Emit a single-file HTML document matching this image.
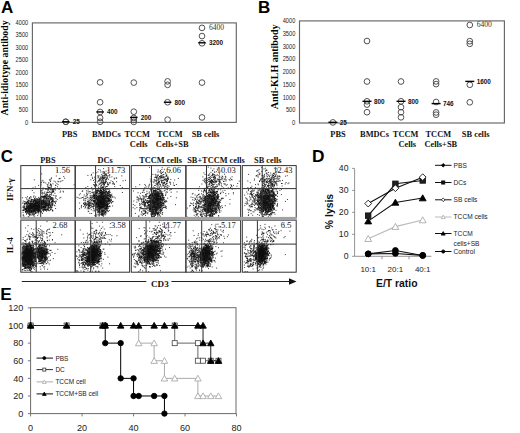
<!DOCTYPE html>
<html><head><meta charset="utf-8"><style>
html,body{margin:0;padding:0;background:#fff;}
svg{display:block;}
</style></head><body>
<svg width="520" height="433" viewBox="0 0 520 433">
<rect width="520" height="433" fill="#fff"/>
<text x="0.95" y="13.4" font-size="17" font-family='"Liberation Sans", sans-serif' font-weight="bold" text-anchor="start" fill="#000">A</text>
<text x="258.0" y="13.4" font-size="17" font-family='"Liberation Sans", sans-serif' font-weight="bold" text-anchor="start" fill="#000">B</text>
<text x="0.7" y="162.2" font-size="16.8" font-family='"Liberation Sans", sans-serif' font-weight="bold" text-anchor="start" fill="#000">C</text>
<text x="312.1" y="162.2" font-size="17.3" font-family='"Liberation Sans", sans-serif' font-weight="bold" text-anchor="start" fill="#000">D</text>
<text x="0.2" y="300.0" font-size="17.2" font-family='"Liberation Sans", sans-serif' font-weight="bold" text-anchor="start" fill="#000">E</text>
<rect x="32.4" y="22.9" width="203.9" height="99.5" fill="none" stroke="#666" stroke-width="1.15"/>
<text x="28.2" y="124.5" font-size="6.9" font-family='"Liberation Sans", sans-serif' font-weight="normal" text-anchor="end" fill="#222" textLength="3.3" lengthAdjust="spacingAndGlyphs">0</text>
<text x="28.2" y="112.06" font-size="6.9" font-family='"Liberation Sans", sans-serif' font-weight="normal" text-anchor="end" fill="#222" textLength="9.4" lengthAdjust="spacingAndGlyphs">500</text>
<text x="28.2" y="99.62" font-size="6.9" font-family='"Liberation Sans", sans-serif' font-weight="normal" text-anchor="end" fill="#222" textLength="12.6" lengthAdjust="spacingAndGlyphs">1000</text>
<text x="28.2" y="87.19" font-size="6.9" font-family='"Liberation Sans", sans-serif' font-weight="normal" text-anchor="end" fill="#222" textLength="12.6" lengthAdjust="spacingAndGlyphs">1500</text>
<text x="28.2" y="74.75" font-size="6.9" font-family='"Liberation Sans", sans-serif' font-weight="normal" text-anchor="end" fill="#222" textLength="12.6" lengthAdjust="spacingAndGlyphs">2000</text>
<text x="28.2" y="62.31" font-size="6.9" font-family='"Liberation Sans", sans-serif' font-weight="normal" text-anchor="end" fill="#222" textLength="12.6" lengthAdjust="spacingAndGlyphs">2500</text>
<text x="28.2" y="49.88" font-size="6.9" font-family='"Liberation Sans", sans-serif' font-weight="normal" text-anchor="end" fill="#222" textLength="12.6" lengthAdjust="spacingAndGlyphs">3000</text>
<text x="28.2" y="37.44" font-size="6.9" font-family='"Liberation Sans", sans-serif' font-weight="normal" text-anchor="end" fill="#222" textLength="12.6" lengthAdjust="spacingAndGlyphs">3500</text>
<text x="28.2" y="25.0" font-size="6.9" font-family='"Liberation Sans", sans-serif' font-weight="normal" text-anchor="end" fill="#222" textLength="12.6" lengthAdjust="spacingAndGlyphs">4000</text>
<text x="8.5" y="67.9" font-size="9.8" font-family='"Liberation Serif", serif' font-weight="bold" text-anchor="middle" fill="#000" transform="rotate(-90 8.5 67.9)">Anti-idiotype antibody</text>
<circle cx="65.8" cy="121.78" r="2.85" fill="none" stroke="#4a4a4a" stroke-width="0.95"/>
<circle cx="65.8" cy="121.78" r="2.85" fill="none" stroke="#4a4a4a" stroke-width="0.95"/>
<line x1="62.05" y1="121.78" x2="69.55" y2="121.78" stroke="#000" stroke-width="1.4"/>
<text x="72.7" y="124.08" font-size="6.4" font-family='"Liberation Sans", sans-serif' font-weight="bold" text-anchor="start" fill="#111">25</text>
<circle cx="100.1" cy="82.35" r="2.85" fill="none" stroke="#4a4a4a" stroke-width="0.95"/>
<circle cx="100.1" cy="102.25" r="2.85" fill="none" stroke="#4a4a4a" stroke-width="0.95"/>
<circle cx="100.1" cy="111.95" r="2.85" fill="none" stroke="#4a4a4a" stroke-width="0.95"/>
<circle cx="100.1" cy="117.92" r="2.85" fill="none" stroke="#4a4a4a" stroke-width="0.95"/>
<circle cx="100.1" cy="121.78" r="2.85" fill="none" stroke="#4a4a4a" stroke-width="0.95"/>
<line x1="96.35" y1="111.95" x2="103.85" y2="111.95" stroke="#000" stroke-width="1.4"/>
<text x="107.0" y="114.25" font-size="6.4" font-family='"Liberation Sans", sans-serif' font-weight="bold" text-anchor="start" fill="#111">400</text>
<circle cx="133.8" cy="82.60" r="2.85" fill="none" stroke="#4a4a4a" stroke-width="0.95"/>
<circle cx="133.8" cy="111.70" r="2.85" fill="none" stroke="#4a4a4a" stroke-width="0.95"/>
<circle cx="133.8" cy="117.92" r="2.85" fill="none" stroke="#4a4a4a" stroke-width="0.95"/>
<circle cx="133.8" cy="119.91" r="2.85" fill="none" stroke="#4a4a4a" stroke-width="0.95"/>
<circle cx="133.8" cy="121.90" r="2.85" fill="none" stroke="#4a4a4a" stroke-width="0.95"/>
<line x1="130.05" y1="117.43" x2="137.55" y2="117.43" stroke="#000" stroke-width="1.4"/>
<text x="140.70000000000002" y="119.73" font-size="6.4" font-family='"Liberation Sans", sans-serif' font-weight="bold" text-anchor="start" fill="#111">200</text>
<circle cx="167.6" cy="81.36" r="2.85" fill="none" stroke="#4a4a4a" stroke-width="0.95"/>
<circle cx="167.6" cy="84.84" r="2.85" fill="none" stroke="#4a4a4a" stroke-width="0.95"/>
<circle cx="167.6" cy="102.25" r="2.85" fill="none" stroke="#4a4a4a" stroke-width="0.95"/>
<circle cx="167.6" cy="119.66" r="2.85" fill="none" stroke="#4a4a4a" stroke-width="0.95"/>
<line x1="163.85" y1="102.25" x2="171.35" y2="102.25" stroke="#000" stroke-width="1.4"/>
<text x="174.5" y="104.55" font-size="6.4" font-family='"Liberation Sans", sans-serif' font-weight="bold" text-anchor="start" fill="#111">800</text>
<circle cx="202.0" cy="27.88" r="2.85" fill="none" stroke="#4a4a4a" stroke-width="0.95"/>
<circle cx="202.0" cy="36.08" r="2.85" fill="none" stroke="#4a4a4a" stroke-width="0.95"/>
<circle cx="202.0" cy="43.30" r="2.85" fill="none" stroke="#4a4a4a" stroke-width="0.95"/>
<circle cx="202.0" cy="82.60" r="2.85" fill="none" stroke="#4a4a4a" stroke-width="0.95"/>
<circle cx="202.0" cy="117.43" r="2.85" fill="none" stroke="#4a4a4a" stroke-width="0.95"/>
<line x1="198.25" y1="42.80" x2="205.75" y2="42.80" stroke="#000" stroke-width="1.4"/>
<text x="208.9" y="30.38" font-size="7.6" font-family='"Liberation Serif", serif' font-weight="normal" text-anchor="start" fill="#333">6400</text>
<text x="208.9" y="45.1" font-size="6.4" font-family='"Liberation Sans", sans-serif' font-weight="bold" text-anchor="start" fill="#111">3200</text>
<text x="69.7" y="137" font-size="8.4" font-family='"Liberation Serif", serif' font-weight="bold" text-anchor="middle" fill="#111">PBS</text>
<text x="106.4" y="137" font-size="8.4" font-family='"Liberation Serif", serif' font-weight="bold" text-anchor="middle" fill="#111">BMDCs</text>
<text x="137.2" y="137" font-size="8.4" font-family='"Liberation Serif", serif' font-weight="bold" text-anchor="middle" fill="#111">TCCM</text>
<text x="138.7" y="147.3" font-size="8.4" font-family='"Liberation Serif", serif' font-weight="bold" text-anchor="middle" fill="#111">Cells</text>
<text x="169.8" y="137" font-size="8.4" font-family='"Liberation Serif", serif' font-weight="bold" text-anchor="middle" fill="#111">TCCM</text>
<text x="172.2" y="147.3" font-size="8.4" font-family='"Liberation Serif", serif' font-weight="bold" text-anchor="middle" fill="#111">Cells+SB</text>
<text x="205.5" y="137" font-size="8.4" font-family='"Liberation Serif", serif' font-weight="bold" text-anchor="middle" fill="#111">SB cells</text>
<rect x="299.5" y="20.9" width="204.89999999999998" height="102.1" fill="none" stroke="#666" stroke-width="1.15"/>
<text x="295.3" y="125.1" font-size="6.9" font-family='"Liberation Sans", sans-serif' font-weight="normal" text-anchor="end" fill="#222" textLength="3.3" lengthAdjust="spacingAndGlyphs">0</text>
<text x="295.3" y="112.34" font-size="6.9" font-family='"Liberation Sans", sans-serif' font-weight="normal" text-anchor="end" fill="#222" textLength="9.4" lengthAdjust="spacingAndGlyphs">500</text>
<text x="295.3" y="99.57" font-size="6.9" font-family='"Liberation Sans", sans-serif' font-weight="normal" text-anchor="end" fill="#222" textLength="12.6" lengthAdjust="spacingAndGlyphs">1000</text>
<text x="295.3" y="86.81" font-size="6.9" font-family='"Liberation Sans", sans-serif' font-weight="normal" text-anchor="end" fill="#222" textLength="12.6" lengthAdjust="spacingAndGlyphs">1500</text>
<text x="295.3" y="74.05" font-size="6.9" font-family='"Liberation Sans", sans-serif' font-weight="normal" text-anchor="end" fill="#222" textLength="12.6" lengthAdjust="spacingAndGlyphs">2000</text>
<text x="295.3" y="61.29" font-size="6.9" font-family='"Liberation Sans", sans-serif' font-weight="normal" text-anchor="end" fill="#222" textLength="12.6" lengthAdjust="spacingAndGlyphs">2500</text>
<text x="295.3" y="48.52" font-size="6.9" font-family='"Liberation Sans", sans-serif' font-weight="normal" text-anchor="end" fill="#222" textLength="12.6" lengthAdjust="spacingAndGlyphs">3000</text>
<text x="295.3" y="35.76" font-size="6.9" font-family='"Liberation Sans", sans-serif' font-weight="normal" text-anchor="end" fill="#222" textLength="12.6" lengthAdjust="spacingAndGlyphs">3500</text>
<text x="295.3" y="23.0" font-size="6.9" font-family='"Liberation Sans", sans-serif' font-weight="normal" text-anchor="end" fill="#222" textLength="12.6" lengthAdjust="spacingAndGlyphs">4000</text>
<text x="278.0" y="66.9" font-size="10" font-family='"Liberation Serif", serif' font-weight="bold" text-anchor="middle" fill="#000" transform="rotate(-90 278.0 66.9)">Anti-KLH antibody</text>
<circle cx="332.9" cy="122.41" r="2.85" fill="none" stroke="#4a4a4a" stroke-width="0.95"/>
<line x1="328.4" y1="122.31" x2="337.4" y2="122.31" stroke="#000" stroke-width="1.4"/>
<text x="339.79999999999995" y="124.61" font-size="6.4" font-family='"Liberation Sans", sans-serif' font-weight="bold" text-anchor="start" fill="#111">25</text>
<circle cx="367.0" cy="41.01" r="2.85" fill="none" stroke="#4a4a4a" stroke-width="0.95"/>
<circle cx="367.0" cy="81.50" r="2.85" fill="none" stroke="#4a4a4a" stroke-width="0.95"/>
<circle cx="367.0" cy="101.30" r="2.85" fill="none" stroke="#4a4a4a" stroke-width="0.95"/>
<circle cx="367.0" cy="104.60" r="2.85" fill="none" stroke="#4a4a4a" stroke-width="0.95"/>
<circle cx="367.0" cy="112.20" r="2.85" fill="none" stroke="#4a4a4a" stroke-width="0.95"/>
<line x1="362.5" y1="101.30" x2="371.5" y2="101.30" stroke="#000" stroke-width="1.4"/>
<text x="373.9" y="103.6" font-size="6.4" font-family='"Liberation Sans", sans-serif' font-weight="bold" text-anchor="start" fill="#111">800</text>
<circle cx="401.0" cy="81.50" r="2.85" fill="none" stroke="#4a4a4a" stroke-width="0.95"/>
<circle cx="401.0" cy="101.30" r="2.85" fill="none" stroke="#4a4a4a" stroke-width="0.95"/>
<circle cx="401.0" cy="107.17" r="2.85" fill="none" stroke="#4a4a4a" stroke-width="0.95"/>
<circle cx="401.0" cy="112.20" r="2.85" fill="none" stroke="#4a4a4a" stroke-width="0.95"/>
<circle cx="401.0" cy="117.31" r="2.85" fill="none" stroke="#4a4a4a" stroke-width="0.95"/>
<line x1="396.5" y1="101.30" x2="405.5" y2="101.30" stroke="#000" stroke-width="1.4"/>
<text x="407.9" y="103.6" font-size="6.4" font-family='"Liberation Sans", sans-serif' font-weight="bold" text-anchor="start" fill="#111">800</text>
<circle cx="436.1" cy="81.39" r="2.85" fill="none" stroke="#4a4a4a" stroke-width="0.95"/>
<circle cx="436.1" cy="84.10" r="2.85" fill="none" stroke="#4a4a4a" stroke-width="0.95"/>
<circle cx="436.1" cy="101.99" r="2.85" fill="none" stroke="#4a4a4a" stroke-width="0.95"/>
<circle cx="436.1" cy="112.41" r="2.85" fill="none" stroke="#4a4a4a" stroke-width="0.95"/>
<circle cx="436.1" cy="114.70" r="2.85" fill="none" stroke="#4a4a4a" stroke-width="0.95"/>
<line x1="431.6" y1="103.60" x2="440.6" y2="103.60" stroke="#000" stroke-width="1.4"/>
<text x="443.0" y="105.9" font-size="6.4" font-family='"Liberation Sans", sans-serif' font-weight="bold" text-anchor="start" fill="#111">746</text>
<circle cx="469.8" cy="24.98" r="2.85" fill="none" stroke="#4a4a4a" stroke-width="0.95"/>
<circle cx="469.8" cy="41.19" r="2.85" fill="none" stroke="#4a4a4a" stroke-width="0.95"/>
<circle cx="469.8" cy="43.80" r="2.85" fill="none" stroke="#4a4a4a" stroke-width="0.95"/>
<circle cx="469.8" cy="84.79" r="2.85" fill="none" stroke="#4a4a4a" stroke-width="0.95"/>
<circle cx="469.8" cy="102.30" r="2.85" fill="none" stroke="#4a4a4a" stroke-width="0.95"/>
<line x1="465.3" y1="81.39" x2="474.3" y2="81.39" stroke="#000" stroke-width="1.4"/>
<text x="476.7" y="27.48" font-size="7.6" font-family='"Liberation Serif", serif' font-weight="normal" text-anchor="start" fill="#333">6400</text>
<text x="476.7" y="83.69" font-size="6.4" font-family='"Liberation Sans", sans-serif' font-weight="bold" text-anchor="start" fill="#111">1600</text>
<text x="338" y="136.8" font-size="8.4" font-family='"Liberation Serif", serif' font-weight="bold" text-anchor="middle" fill="#111">PBS</text>
<text x="374.5" y="136.8" font-size="8.4" font-family='"Liberation Serif", serif' font-weight="bold" text-anchor="middle" fill="#111">BMDCs</text>
<text x="405.6" y="136.8" font-size="8.4" font-family='"Liberation Serif", serif' font-weight="bold" text-anchor="middle" fill="#111">TCCM</text>
<text x="407.3" y="146.6" font-size="8.4" font-family='"Liberation Serif", serif' font-weight="bold" text-anchor="middle" fill="#111">Cells</text>
<text x="438.3" y="136.8" font-size="8.4" font-family='"Liberation Serif", serif' font-weight="bold" text-anchor="middle" fill="#111">TCCM</text>
<text x="440.8" y="146.6" font-size="8.4" font-family='"Liberation Serif", serif' font-weight="bold" text-anchor="middle" fill="#111">Cells+SB</text>
<text x="475.7" y="136.8" font-size="8.4" font-family='"Liberation Serif", serif' font-weight="bold" text-anchor="middle" fill="#111">SB cells</text>
<defs><filter id="bl" x="-50%" y="-50%" width="200%" height="200%"><feGaussianBlur stdDeviation="1.6"/></filter><clipPath id="c00"><rect x="20.8" y="165.6" width="54.400000000000006" height="52.0"/></clipPath><clipPath id="c01"><rect x="75.2" y="165.6" width="54.39999999999999" height="52.0"/></clipPath><clipPath id="c02"><rect x="131.3" y="165.6" width="54.599999999999994" height="52.0"/></clipPath><clipPath id="c03"><rect x="185.9" y="165.6" width="54.69999999999999" height="52.0"/></clipPath><clipPath id="c04"><rect x="242.3" y="165.6" width="53.89999999999998" height="52.0"/></clipPath><clipPath id="c10"><rect x="20.8" y="220.2" width="54.400000000000006" height="52.0"/></clipPath><clipPath id="c11"><rect x="75.2" y="220.2" width="54.39999999999999" height="52.0"/></clipPath><clipPath id="c12"><rect x="131.3" y="220.2" width="54.599999999999994" height="52.0"/></clipPath><clipPath id="c13"><rect x="185.9" y="220.2" width="54.69999999999999" height="52.0"/></clipPath><clipPath id="c14"><rect x="242.3" y="220.2" width="53.89999999999998" height="52.0"/></clipPath></defs>
<g clip-path="url(#c00)">
<ellipse cx="32" cy="207.5" rx="7" ry="4.5" transform="rotate(-20 32 207.5)" fill="#111" fill-opacity="0.8" filter="url(#bl)"/>
<ellipse cx="45" cy="203" rx="5" ry="4" transform="rotate(-40 45 203)" fill="#111" fill-opacity="0.6" filter="url(#bl)"/>
<path d="M36.5 209.2h0m1.3-2.4h0m-6.7 1.4h0m8.9 1.4h0m-1.8-6.7h0m-4.9 2.3h0m2.8 2.9h0m-12.2-5.1h0m15.1 3.9h0m-7.1 5.1h0m.5 .8h0m-6.5-4.3h0m7.1 5.9h0m5.6-3.9h0m-7.4-4.4h0m-1.6-2.2h0m-2.8 6.8h0m12.9-3.9h0m.2-2.8h0m-.3 1.3h0m-2.3 3.2h0m-7.3 1.9h0m.4-1.9h0m3.2 6.8h0m2.1-13.2h0m-1.5 8.1h0m.2 4.1h0m3.6-11.1h0m-11.2 2h0m9.4-4.5h0m-8.1 11.9h0m5.9-3.6h0m4.5-2.4h0m-.7-.8h0m.3 4.2h0m-4.6-5.6h0m-7.2 5.5h0m7.2-7.1h0m.1 3.4h0m-2.5 1.1h0m-3.6-5.6h0m-2.7 6.7h0m10 2.3h0m-1.2-10.6h0m-5.4 8h0m5.4 2.7h0m-8.1 1.3h0m10.3 .1h0m-1.1-2.6h0m-7-5.4h0m2.9 1.5h0m6 4.8h0m-3.9-9.2h0m-4.2-.9h0m7.6 8.6h0m3.7-5.6h0m-12.5 4.1h0m-1.9 1h0m10-6.7h0m-1.2 8.9h0m-6.2 .8h0m-1.3-5.1h0m9.7-3.4h0m-4.9 4.7h0m1-1.2h0m-1.2 6.2h0m.5-13h0m0 3.4h0m-.8-1.5h0m-4.6 7.2h0m.2-.8h0m13.1-6.5h0m-1.5 1.2h0m.9 4.6h0m-8.5-1.7h0m-7.3-4.5h0m17.5 1.1h0m-2.5 2.3h0m-9.2 5.4h0m1.1-6.6h0m-2.9 7.7h0m11.5-4h0m2-4.5h0m-6.8 12h0m2.7-12h0m-12.6 4.3h0m11.4 .1h0m-10.3-3h0m8.2 .9h0m-6 2.6h0m9.9 1.5h0m-1.1-2.2h0m-4 4.6h0m-1.1-.3h0m5.9-5.2h0m1.9-4.1h0m-15.8 13.4h0m5.4-11.9h0m5.3-1.2h0m6 4.6h0m-8.1-1.4h0m4.4-4.8h0m-1.9 10.6h0m-.5 .9h0m-10.2-4h0m18-4.1h0m-15.5 5.5h0m12.4-1.5h0m-4.1-1.2h0m-3.6-4.7h0m5.5-.9h0m-5.2 3.5h0m1.9 .9h0m6.3 4.7h0m-5.2-8.5h0m-7 .5h0m10.5 4h0m-13.1 1.2h0m3.4-4.3h0m-2.7 6.5h0m14.7-2.5h0m-9.6-4.2h0m9.2 .7h0m-8.3-2.6h0m8.4 6.6h0m-12.7-.6h0m6.1 1.9h0m-5.1-.5h0m10.1 .4h0m3-3.9h0m.2-2.7h0m-4.2 10.8h0m-7.7-5.2h0m6.7-5.6h0m-.7 1.5h0m-7.8 7h0m3.9-.1h0m4.3-13.6h0m-8.2 3h0m10.4 5.1h0m-9.3 5.6h0m4.6 3.3h0m.4-2.5h0m3.5-11.2h0m.2 1.8h0m-5.5 3.5h0m-5.5-1.7h0m3.2 4.9h0m1.4-5.4h0m-3.3 3.9h0m7.7 1.6h0m-.1-4.8h0m2.6 5.4h0m-4.1-.1h0m2.5-7.5h0m-7.6 12h0m4.3-4.9h0m2.6-7.9h0m-1.5 9.7h0m3.1-11.6h0m-5.3 6.8h0m.7 1.2h0m3.6-8.4h0m-6.9 9.1h0m-.5-7h0m10.5 5.3h0m-3.2-2.5h0m-7.2 1.7h0m7.9 1.8h0m-8.3-1h0m0 3.5h0m6.8 2.5h0m-7.3-10.9h0m-.7 11.1h0m10.7-10.2h0m-9.4 1.3h0m1.3-2.5h0m3.5 1.8h0m-1.6 .9h0m3.8 8.2h0m4.1-9.8h0m1.9 9.3h0m-10.1-2.6h0m10.3-9.6h0m-6.2 5.5h0m-5.6 7.2h0m6.2-6h0m-.1-.8h0m-2.5-3.2h0m-3.7 10.2h0m1.1-1.6h0m.1-10.3h0m3.2 6.9h0m-4 8h0m-5.7-10.5h0m12.6 1h0m-12.2-1.8h0m12.8 0h0m-3.5 7.7h0m-1.5-7.7h0m-1.6-4.8h0m.9 2.8h0m-.5 2.1h0m-.1 8.9h0m9-9.1h0m-11.5-1.4h0m.8 7.8h0m-5-8.4h0m8.1 12.4h0m1.1-3.5h0m.9-6.9h0m-11.8 6.5h0m3.4-6.7h0m8.4-3.3h0m-2.2 8.4h0m5.7-6.5h0m-12.4 9.8h0m4-5.3h0m.7 4.3h0m-4.3-7.3h0m6.1 4.4h0m.2-4.3h0m2.1 3.8h0m-.1 .9h0m-1.4 4.8h0m-4.8 3.4h0m12-12.5h0m-3.9 1.7h0m-3.1-3.7h0m2.7 4h0m2.7-5.9h0m0 10.1h0m-1.6-7.5h0m1.6 11.1h0m1.5-10.8h0m-4.3-.1h0m3 8.2h0m-4.4-12.6h0m-5.2 12.5h0m1.3-7.2h0m.1 3.2h0m-1.1-.6h0m2.3 8.8h0m-6.3-3.2h0m5.7-5.4h0m-5.5 4.7h0m13.6-2.6h0m-13.9 .4h0m13.9-1.5h0m-9.9 .4h0m10.3 2.2h0m-2.5 1.8h0m.4-8.4h0m4 3.4h0m-3.3 3.7h0m-9.1-2.6h0m4.3 3.1h0m1.7-2.3h0m2.5-8.9h0m-13.2 3.5h0m-2-.4h0m12.1 13h0m-8.5-4.3h0m13.9-5.5h0m-16.1-.3h0m13.2-.7h0m-10.4 3.3h0m7.1 .9h0m3.8-1.3h0m-9.3-1.6h0m9.3 2.6h0m-1.7-.3h0m-9.5 5.3h0m5.2-7.6h0m5.3-3.3h0m-.8-.7h0m.6 4.2h0m-5.4 .3h0m-5.6 2.1h0m12.7 2.6h0m-6.7-11.9h0m.9 6.5h0m3.2 6.4h0m.9-6.4h0m-10.2-7.4h0m.4 12.5h0m13.9-9.4h0m-.3 2.7h0m-11.4-6.1h0m1.7 15.5h0m-3.8-11h0m7.3-2.4h0m-7.6 4.2h0m7 2.3h0m3 1.8h0m-8.4-6.6h0m1.9 4.2h0m10.5 .3h0m-.5-5.9h0m-7.3 4.5h0m.9-5.7h0m-2.2 4.4h0m-3.6 6.9h0m1.1 2.1h0m-1.1-2.7h0m1.6-7.1h0m3.2 1.1h0m-.2 2.6h0m-6 2.2h0m1-.5h0m-4.6 1.6h0m4.8-8.5h0m2.1 10.9h0m4.2-8.3h0m-.6 6.7h0m2.1 2h0m-4.9-11.5h0m5.6 7.6h0m-6.3-8h0m8.3 7.8h0m-2.9 4.2h0m4.8-1.8h0m-8.8-.1h0m4.5-6.3h0m-1.1 .3h0m-6-5.5h0m-.2 5.3h0m2.8 2.9h0m-7.6 1.9h0m4.3 2h0m-4.7 2.9h0m7.1-11.1h0m-2.5-2h0m3.8 10.3h0m-1.3-3.3h0m-1.3 1.1h0m-2.7 3.6h0m4.5-16.4h0m9 5.8h0m-1.5-.8h0m-8.9 4.7h0m4.2-6h0m3.7 2.4h0m1.8 6h0m-1.4-2.6h0m-9.5 4.2h0m5 .4h0m2 .3h0m-.2-.8h0m-9-.3h0m9.8-5.7h0m-13 7.6h0m15.2-3.3h0m-8.5 2.5h0m8.2 .5h0m-5.6-1.3h0m-4.8-6h0m13.1 1.8h0m-8.9-6.8h0m1.8 6.9h0m1.3 6.8h0m-5 .8h0m2.3-14.5h0m-5.3 3.1h0m7.6-2.7h0m-7.9 11.5h0m7.2 .7h0m-3.5-4.1h0m-7.1 2.2h0m2.2 .6h0m9.1-10.3h0m-4 5.3h0m.2 .4h0m-6.7 3.1h0m17.5-4.2h0m-12.5 8.4h0m2.4-12.6h0m2.7-1.7h0m-6.6 13.4h0m-1.8-9.9h0m6.2 8.4h0m19.9-11.5h0m-14.8 7h0m9.9-7.1h0m-4-2.3h0m-2.6 2.6h0m10.2 6.5h0m-2.2-2.3h0m-.4-7.8h0m-10.6 9.3h0m6.5 1.2h0m8.8-6.8h0m-5.6 2.8h0m4.5-4.2h0m-2.1-3h0m-6.4 6.7h0m6.2-2.1h0m3.9 1.3h0m-5.2-.3h0m.8 .3h0m-3.2-5.2h0m-4 11.9h0m6.5-8.6h0m-4.1-3h0m-1.5 3.4h0m3 4.7h0m-6.1-4.4h0m-2.6 1.8h0m6.7-3.5h0m6.1 2.8h0m-5.2-4.9h0m-8.4 7.2h0m10.6-5.9h0m-3.9-4h0m3.1 9.3h0m6.6-3.6h0m-6.3-3.6h0m-6.7 4h0m13.1 1.6h0m-3.3-5.9h0m-10.2 4.5h0m3.9-3.3h0m2 3.9h0m2-5.2h0m-7 8.3h0m5.4 5.5h0m-3.9-3.7h0m9-3.1h0m1.8 2h0m-5.6-2.2h0m-6.3 5.7h0m8-9.6h0m1.7-1.3h0m-.8 5h0m-3.1-5.1h0m-2.8 6.1h0m3.9-2.5h0m-11.3-1.3h0m19.1 6.2h0m-8.3-1.3h0m1.1-8.5h0m-8.6 5.9h0m8.2 1.5h0m-6 .4h0m4.7 1.7h0m2 .1h0m3.1-6.5h0m0 8.5h0m-3.8-13.1h0m-2.5 1.3h0m1.2 12.4h0m2.4-2.8h0m-11.5 1.1h0m15.6-1.6h0m-5.9 6.3h0m6.3-8.2h0m-6.9-1.7h0m2.4 5.6h0m3-9.3h0m-4.8 1.4h0m1.4 10h0m2-5.2h0m-10.7 3.1h0m1.6-2.5h0m2.8-4.1h0m-.5 2.9h0m5.6 2.1h0m3.1 1.8h0m-8.5 2.4h0m1.7-10.8h0m5 1.2h0m-1.1 4.9h0m2.2 0h0m-8.7 3.2h0m.4-6.8h0m1.6 8.4h0m1.2-8.4h0m-5.9 4.8h0m11.7 2.1h0m1.1-9h0m-1.6 7.1h0m-10.3-6.1h0m-.8-1.3h0m8.3 9.2h0m4.6-3.9h0m-12.3-6.6h0m8.5-.7h0m-4.9 11.8h0m2.2 1.3h0m-3.3-13.9h0m2.1 .2h0m5.6 13.1h0m-5.6 .6h0m5.3-10h0m-8.6-3.2h0m5.2-2h0m1.9 13.4h0m-12.5-5.3h0m5.8 6.6h0m9.5-6.1h0m-12.6 4.3h0m10.4-4.3h0m-5.4 4.1h0m.8-9.9h0m-5.1 4.4h0m-.1 1.3h0m8.8 3.2h0m3.7-8.2h0m-.2 11.5h0m-3.6 .3h0m.8-8h0m-6.1 5.4h0m5.2-1.9h0m-2.7 2.1h0m-.3-10.5h0m-3.6 .8h0m-1.7 1.5h0m5.2 3.3h0m3.7-4.1h0m-11.7 5h0m5 4h0m2 2.6h0m.9-16.1h0m4.6 9.8h0m1.7-1.8h0m-1.1-5.7h0m-3.1 1.9h0m.5-.3h0m2.3 1.3h0m-4.5 8.6h0m2.9-9.4h0m-4.2 9.2h0m2.5-12.4h0m3.9 3.3h0m-6.5-.8h0m-5.9 10.5h0m.9-8.5h0m15.2 5.6h0m-13.3 1.3h0m4.6 2.4h0m8.2-10h0m-1.7-1.3h0m-13.7 6.6h0m10.2 3.3h0m2.5-9.5h0m-7.6 2.2h0m4.3 3.5h0m5-3.3h0m-5.8 9.4h0m2.5-7.3h0m-3.7 7.9h0m-7.6-6h0m2.2-1.6h0m6.9 6.9h0m.5-.4h0m4.9 1.4h0m-2.3-3.8h0m2.2 3.7h0m-3-5.7h0m-6.6-.6h0m9.2-3.5h0m-2.1 4.5h0m-.7-4.5h0m4.2 .9h0m-1 1.7h0m-7 2.6h0m2.8-7.1h0m-6.5 9.4h0m8.5 1.4h0m-9.7-6.6h0m14.8 .2h0m-11.2 6.3h0m3-.7h0m-.2 .8h0m-4.6-5.8h0m3.7 1.4h0m-2.8-4h0m3.2-5.2h0m.3 9.2h0m-3 2h0m5.7 .4h0m-.8-4.8h0m-9-4.1h0m6.9 7.3h0m-.8-1.8h0m-5.6-5.3h0m.7 1.8h0m7.4 8.1h0m-11.7-5.5h0m14.3 3.3h0m1.2-5.1h0m-2.6 9h0m-7.2-.7h0m-3.9-7.5h0m5.5-.4h0m-.3-1.6h0m-.2-3.5h0m-5.9 9.7h0m7.9-1.5h0m-2.3-3.7h0m4.8 4.2h0m-.9 1.5h0m-4.4-3.3h0m9.1 1.3h0m-10.2 3h0m3.7 1.3h0m1.2-4.6h0m-.5 .6h0m3.8-1h0m2.4-2.8h0m-16.2 4.4h0m5.7-1.3h0m-3.5-3.1h0m11.1 5.5h0m-4.5-5.4h0m.3-4.9h0m-1.3 2.7h0m.8-1.2h0m-5.3 7.2h0m4.7-2.1h0m-4.2-4.2h0m13 5.7h0m-1-3.4h0m2.6-.1h0m-4.4 3.8h0m-7.6-8.7h0m-2 4.9h0m.3-.1h0m11.7 3.8h0m-1.8 .6h0m-7.8 .8h0m7.4-9.9h0m3.3 3.5h0m-4.6-2.2h0m-.5 12.6h0m-7.5-9.5h0m1.9 1.1h0m-4.3 3.1h0m10-1h0m2.4 5.4h0m-.6-.9h0m1.1-5.9h0m.6-1.4h0m-13.3 4.4h0m16.8-3h0m-11.6 7.2h0m-5.8-4.6h0m8.9-1h0m-2.5-1.4h0m2-5.1h0m-11.7 8.6h0m11.3 3h0m-1.8-12.8h0m-5.6 .6h0m16 4.7h0m-17.1-2.2h0m5.7 6.7h0m3.3-3.6h0m-4.6 1.4h0m3.9-4.3h0m-2.4-3.4h0m-.4 8.3h0m8.7-5.4h0m-17.9 6.8h0m0 3.5h0m6.3-1h0m3.7-2.2h0m-8.7 2.5h0m3.9-3.9h0m6.4 2h0m-6.7 3.3h0m-3.8-5.9h0m10.3 2.1h0m-9.3-5.2h0m2.8 7.4h0m-.9 1.2h0m-3.6-5h0m9.5 2h0m.1-2h0m-6.2 2.7h0m2.2-2.8h0m1.4 3.6h0m-3-.1h0m4.3-4.8h0m-1.8 4.4h0m-6.1-.4h0m2.9-2.1h0m2.4 .7h0m.5 4h0m-4.7-9.9h0m8.7 3.8h0m-8.3 6.3h0m.8-5.7h0m1.2 3h0m-3.2 .6h0m8.2-1.9h0m-7.2-1h0m4.1-.4h0m7 3.1h0m-6.3-.8h0m3.1 .8h0m-8.7-4.4h0m2 5.7h0m3.3-10.5h0m4.2 5.7h0m-1 5.3h0m-6.5-8h0m2.5-.3h0m.5 4.4h0m2-1.8h0m-1.6 3.3h0m-.8-3.9h0m-6.2 1.7h0m4.1 3.6h0m1.5-6.3h0m5.5 4.8h0m-.5-4.7h0m-5 6h0m1.2-.6h0m.3 3.1h0m.3-7.7h0m-2.8 8.1h0m4.5-8.9h0m-6.7 .7h0m5.5 .1h0m-.3-.1h0m3.5 2.7h0m-1.9 3.9h0m-2.3-3h0m-2.2-7.3h0m7 6.8h0m-7.6-1.3h0m7.7 4.7h0m-1.8-.7h0m-6.5-2.8h0m-4.9-1.1h0m2.9 .1h0m8.8-4.1h0m-3 6.8h0m-5-.5h0m7.2-2.1h0m-5.2-4.3h0m.2-2.6h0m-3.8 11.2h0m7.6-1.5h0m-2.6 2.8h0m.4-2.1h0m4.9-7h0m-7.9 8.8h0m8.7-5.5h0m-15.9-.6h0m9.7-6.7h0m-3.7 10.4h0m1.7-5.6h0m.1 .7h0m-2.8 1.1h0m6.8 2.9h0m.2-6.9h0m-.9 2.5h0m3.1-2.4h0m-2.3 1.2h0m.8 5.5h0m-8.7-2.9h0m3.9-5h0m3.3 1.8h0m-5.4 3.4h0m2.2 3.8h0m6.4-1.5h0m-5.2 3.3h0m-.4-6.4h0m-1.4 2.8h0m1-.8h0m.2 4.3h0m-1.3-2.6h0m5.7 5.6h0m-5.5-3.2h0m-1.3-1.1h0m9-2.8h0m-9.2 .2h0m-1.3 1.1h0m7.7-6.8h0m-2.9 3.6h0m1.3-4.9h0m4.2 9.7h0m-9.8-5.8h0m8.7 3.5h0m-7.3-3.4h0m2.2 4h0m1.7-2h0m1.4-2.3h0m-5.7 4.4h0m7.4-6.7h0m-1 5.5h0m-6.5-3.1h0m6.1 9h0m-6.1-7.6h0m1.7 5.2h0m3.8-9.2h0m4.3 2.3h0m-9-1.2h0m8.1 6.1h0m-3.6-6.7h0m-3.6-.1h0m4.6 3h0m-.6 2.6h0m-2 3.7h0m4.2 1h0m-5.7 .2h0m-.2-1.9h0m3.9-7.3h0m3.6 2.4h0m-4.8 5.4h0m-2.6-4.3h0m3.1-2.8h0m6.4 2.2h0m-1.4-16.4h0m4.2-8.8h0m1.7 13.1h0m2-1.8h0m-8.9 .6h0m5.3 .3h0m4.8 1h0m-9.3 1.4h0m15.2-6.3h0m-8.4 4h0m-.8 2.6h0m-2.2-.7h0m-.3-6.6h0m1.2 2.1h0m-2.8 2.9h0m1.3 3.4h0m4.9-4h0m-.8-2.6h0m-8.9 3.7h0m4.8-4.2h0m-.1 .7h0m-2.5-.5h0m-.5-.6h0m8.4 0h0m-.9 3h0m-2.6 3h0m-8.7-1.2h0m11.4 1.9h0m2.3-5.3h0m-4.1-3h0m-3.6 2.1h0m-.3-2.3h0m0 3.1h0m2.6-2.3h0m1.8 3.4h0m1.2 .5h0m-6.7 1.7h0m4.8 .8h0m-2.7-1.5h0m-4.4 .6h0m2.8-.8h0m.3-.3h0m1.2-4.9h0m2.7-.2h0m8.3 1.5h0m-7.2 .7h0m3-1.2h0m-10.2 8.7h0m.7-13.6h0m.1 15.9h0m3.6-11.3h0m-8.6 4.5h0m9.9-12.1h0m5.6 16h0m-8.1-8.5h0m4.5 3.4h0m-2.1-1.9h0m-5.8 7.1h0m8.3-6.4h0m-1.4-.1h0m8 8.5h0m-26.5 9h0m-5.8-10.3h0m11.3 15.1h0m-9.4-7.9h0m4.1-7h0m-8.7 11.9h0m9.4-5h0m-4.8 11h0m31.2-23.8h0m-36.7 25.1h0m28.7-5.5h0m-22.4-4.6h0m-4.3-8.6h0m20 6h0m16.9-22.8h0m-29.1 36.4h0m22.3-18.6h0m-24.9 9.9h0m1.2-.6h0m16.7-7.4h0m1.1 6.8h0m-19.9-2.3h0m-1.4 4.3h0m.6 5h0m16.7-10.5h0m-15.4-7h0m-2.9 10.7h0m9.8-4.7h0m1 9.3h0m11.6-19.8h0m-5 3.7h0m-4.3 8h0m6.7 1.1h0m-20.6 1.9h0m15.6-6.1h0m11.3-11h0m-10.2 12.9h0m-9.9 1.7h0m2 1.7h0m-3-2.6h0m30.6-11.5h0m-19.5 16h0m-14.2 3.3h0m2.6-20.8h0m6.3-5.1h0m-1.4 22.8h0m18.8-6.9h0m-7.1 2.3h0m-10.4 6.2h0m-3.7-3.3h0m-3.4-2.2h0m10.8-13.5h0m-10.2 9.1h0m5.7 15.5h0m-8.4-9.9h0m5.8-5.5h0m-4.2 11.7h0m5.1-11.9h0m-9.5 2.7h0m20.5-7.9h0m-8.4 10.9h0m-.6 2.9h0m-12.6-6.5h0m9.3 3h0m5.7 7.7h0m16.9-13h0m-22.3-1.6h0m-3.4 13.7h0m9.8-9.4h0m-17.2 4.2h0m30.9-10.8h0m-4.5-11.2h0m1.1 7.9h0m-27.7 13.5h0m5.7 9.9h0m5.2-12.8h0m-3.9 7.3h0m18.6-5.8h0m-26.9 2.6h0m20.3-17.5h0m-6.6 19.8h0m16-8.3h0m-6.3 4.6h0m-4.8-14.9h0m14.7 10.4h0m-19-2.5h0m23.8-1.3h0m-14 .5h0m-6.5 4.6h0m8.2-14.2h0m7 8.8h0m-10.3 9.6h0m-12.6 3.4h0m-6.3-1.4h0m3.6 3.7h0m22.3-21.3h0m-11.3 6.7h0m-17.1 9.9h0m24.1-1h0m-15.5-3.1h0m19.8-5.5h0m3.4 10.4h0m-12.3-11.9h0m-8.6 12.7h0m.9-4.7h0m6.7-12.1h0m-8.8 10h0m-4.3 5.3h0m4.8-5.8h0m18 5.2h0m-16.4-6.4h0m-13.2-3h0m30.7 .3h0m-23.7 0h0m20.4-.8h0m-6.1 9.6h0m-14.1-9.2h0m6.9 9.1h0m-1.1-3.4h0m6.2-7.1h0m3 10.4h0m-18-4.5h0m7.1-1.4h0m1.2 9.9h0m-11-.3h0m25.7-30.6h0m-7.9-5.9h0m11.7 17.2h0m-7.7-2.3h0m-2.6-.8h0m7.5-6.4h0m-9.1 1.1h0m7.8 8.8h0m8.7-6.9h0m-10.2 1.1h0m11.2 3.7h0m1.2 2.8h0m-9-13.8h0m11.9 12.8h0m-2.9-9.4h0m-6.1-.6h0m-3.8 2.7h0m6-7.9h0m.6 7.3h0m-5.5 2h0m-1.3 .3h0m14.5-7.4h0m-5 .3h0m-8.4 6.6h0m-3 5.1h0m-7-5.3h0m11.8-1.1h0m-1.4-5.9h0m1.7 13.1h0m4.6-9.7h0m-14.9-1h0m16.1-1.5h0m-8.6 18.1h0m-16.5-4.1h0m.3-13h0m39.8 5h0m-16.6 2h0m2.6-8.5h0m-18.1 2.8h0m13.6 4.1h0m5.5-4.2h0m-2.5 .7h0m-14.7 .4h0m11.6-.1h0m-7.1 1.9h0m15.3-7.3h0m-30.7 11.3h0m1 8h0m13.3-11.4h0m3.4-.1h0m4 4.8h0m-10.9-6.6h0m5.1-.2h0m8.4-11.7h0m-22 16.3h0m20.5-1.6h0" fill="none" stroke="#111" stroke-opacity="0.82" stroke-width="1" stroke-linecap="square"/>
</g>
<line x1="40.7" y1="165.6" x2="40.7" y2="217.6" stroke="#333" stroke-width="1"/>
<line x1="20.8" y1="188.6" x2="75.2" y2="188.6" stroke="#333" stroke-width="1"/>
<rect x="20.8" y="165.6" width="54.400000000000006" height="52.0" fill="none" stroke="#333" stroke-width="1"/>
<text x="69.9" y="172.9" font-size="8.5" font-family='"Liberation Serif", serif' font-weight="normal" text-anchor="end" fill="#222">1.56</text>
<g clip-path="url(#c10)">
<ellipse cx="28" cy="256" rx="6" ry="10" transform="rotate(0 28 256)" fill="#111" fill-opacity="0.97" filter="url(#bl)"/>
<ellipse cx="42" cy="253" rx="4" ry="7" transform="rotate(0 42 253)" fill="#111" fill-opacity="0.85" filter="url(#bl)"/>
<path d="M29.9 260.4h0m.6-14.9h0m2.7 19.7h0m-4.8-1.1h0m-3.1-27.8h0m-1.6 27.8h0m9.4 1.4h0m0-8.1h0m-5.5 2.6h0m-5.2 6.3h0m10.1-2.5h0m-6.1-19.4h0m1.7 8.4h0m-1.1-6.9h0m-.7 1.7h0m7.7 13.2h0m-4.5 8.5h0m-1.4-25.5h0m2.7 12.6h0m1.3-2.2h0m4.4-3.4h0m-5.1 6.8h0m-.5-1.3h0m-6 .2h0m8.7-6.6h0m-2.7-1.3h0m-7.5 2.7h0m3.5 15.7h0m1.6-11.1h0m3.7 7h0m-6.8-3.4h0m6.8 1.6h0m1.2-15.7h0m-1 20.3h0m-2.9-22.4h0m-6.1 7.7h0m.9 10.6h0m6.1-14.8h0m-3.3-1h0m5.3 5h0m-6.3 14.2h0m7.4-9h0m1.9 .6h0m-6.9 7.3h0m6.4-12.7h0m-5.4-5h0m.5 6h0m-4.7-2.6h0m-2.9 14h0m6.8-2.1h0m6.4-3.5h0m-10 1h0m2.7-12.4h0m-.4 8h0m4.3 1h0m-6.3-10.6h0m4.8 13.7h0m-4.7-1.5h0m1.6 10.3h0m-2.6-6.8h0m2.4-16.7h0m7.8 15.2h0m-4.2-7.6h0m-2.2 6.6h0m-2.5-7h0m4.5 8.5h0m-5.5-10.2h0m3.8 6.2h0m-5.4 10.6h0m2.3-4.6h0m2.5-.2h0m1.3 8.8h0m-3.9-9.4h0m9.2-.3h0m-7.9-12.3h0m-1.5 9.3h0m5.6 1.5h0m2.4-5.8h0m-11.2-.4h0m10.6-5.5h0m-2.8 15h0m1.2-2.5h0m2.7 1.9h0m-4.4 3h0m-1.7-8.9h0m-5.9-1.4h0m2.1-2.9h0m3.8-6.7h0m4.1 7.7h0m3.7 11.4h0m-8.7-6.1h0m7.4-5h0m.1 4.9h0m-1.1-3.7h0m-11.1-6.7h0m2.8 20.6h0m2.3-9.4h0m7.7-1.6h0m-8.3-10.4h0m4.6 15.3h0m-7.8-9.3h0m4.9 7.4h0m3.5-8.2h0m3.6 1.8h0m-4.8 .9h0m-2.7 4.1h0m-4.6-3.1h0m.4-9.1h0m-.8 5.4h0m12.1 2.4h0m-4.5 11.4h0m-2.1-2.3h0m-.4-9.7h0m-2.3-4.2h0m.8-2.4h0m4.8 8.6h0m-.8 15.7h0m3.9-21.9h0m-5.3-7.4h0m-.2 20.8h0m-5.3-1.7h0m9.9-7.5h0m-3.2 10.8h0m-2.6-8.9h0m3.8-7.9h0m-5.1-.2h0m1.6 16.5h0m4.5-17h0m-5.3 9.8h0m4.4 3.1h0m-3.4-2h0m6.2-1.6h0m-1.8 10.9h0m-7.5 .5h0m4.8-8.9h0m-3.4-4.4h0m-1.9 11.6h0m6.7-11.5h0m-7.9 9.5h0m5.7-12.6h0m-1.9 .4h0m1.7 16.3h0m.2-6.7h0m-2.7-7.4h0m.6-8h0m2.3 21.6h0m5.6-18.5h0m-9 2h0m5.3-3.7h0m-1.1-2.1h0m-3.7 9.5h0m0 2.1h0m4.3 12.8h0m-7.9-13.8h0m12.4 10.5h0m-11.8-8.5h0m.5 .2h0m-.4 6.9h0m9.3-1.9h0m-5.8 3.8h0m-1.5-8.8h0m6.3 1.9h0m-6.3 .5h0m10.4 1h0m-4.5-1.8h0m-.6-10.5h0m-5.7 16h0m6.6-9.2h0m2.2-5.6h0m-11.6-.7h0m11.6 17.7h0m.6-1.9h0m-10.1-7.2h0m5.5-5h0m.2 11.7h0m2.4-16.5h0m.3 2.8h0m-2-.6h0m-6.1 13.8h0m3.8-3.3h0m-.1-17.8h0m2.1 2.4h0m-2.5 22.6h0m3.2-19.4h0m-6.9 17.5h0m8.8-17.3h0m-10.5-5.1h0m10.4 4.3h0m-4.9 17.6h0m1.1 3.9h0m-1.2-16.4h0m8.6-.6h0m-3.8-1.9h0m-1.8 1.1h0m-5 2.9h0m5.6-3.4h0m-5.7 9.8h0m5.8-7.9h0m-9.2 7.8h0m7.9-12.4h0m-1.5 15.7h0m10-8.4h0m-12.2-7.9h0m.9 1.1h0m-5 7.7h0m8.2-2.9h0m1.9-1.1h0m-5.7 4h0m6-3.7h0m-6.8 .2h0m1.1 11.6h0m-4.6-6.3h0m5.3-12.6h0m-3.7 10.1h0m.9-2.2h0m1.4-7.6h0m8.3 14.4h0m-2.5 .4h0m-7-3.1h0m-1.2 9.8h0m1.4-8.3h0m4.7 3.3h0m-6.9-6.2h0m-.1 3.4h0m6.5 4.9h0m-.3-3.9h0m-4.9 3.4h0m1.9-14.5h0m7.3 7.3h0m-11.4 12h0m4.2-4.6h0m.8-19.5h0m2.5 .5h0m-6.3 23h0m6.9-8.3h0m4.2-1.6h0m-1.9-7.9h0m1.3 1.2h0m-9.6-.1h0m1 9.5h0m1.5 6.1h0m4.8-.9h0m-3-12.8h0m2.6 5.1h0m3.5-6h0m1 12.1h0m-3.1-17.8h0m-3.1 6.9h0m.3 3.9h0m-2.2-3.2h0m-2.2-1.4h0m-3.7 15.9h0m6.6-6.2h0m-2.6-19.3h0m1.8 4.4h0m-1.9 .3h0m-3.1 11.1h0m2.4 5.5h0m.7-4.8h0m-3.4 2.2h0m10.3-7.7h0m-10.7-6.9h0m8-2.6h0m4.9 10.8h0m-10.5-4.4h0m4.2-15h0m5.7 26.4h0m-6.8-.5h0m.3 4.8h0m7.6-2h0m-8.4 1.5h0m7.8-14.3h0m-6.3-7h0m3.6 19.7h0m-1.4-8.8h0m-7.4 8.2h0m11.4-5.6h0m.3 .2h0m-7.9-10.9h0m3.1 12.5h0m-.8 1h0m1.9-8.4h0m-2.2-8.9h0m2.4 5h0m-6.2-3h0m-.7 11.6h0m2.3-6h0m3.6 11.5h0m-5-2.1h0m13.8-7h0m-4-.3h0m-6.8 5h0m-3.1-7.3h0m7 2.4h0m-.7-4.6h0m1.4 5.4h0m4.4 8.3h0m-5.5-.7h0m-6.4-15.4h0m11.5 9.6h0m-3.5-2h0m-1.5-2.8h0m2.8 5.5h0m-4.2-2.8h0m3.1 6.2h0m0 3.7h0m-8.1-14.4h0m12.2 5.7h0m-10.1 13.9h0m2.4-23.5h0m-6.8 6.3h0m5.7 4.6h0m-.8-6.8h0m-3.7 7h0m3.9-8h0m-5.4 7h0m7.7 10h0m-4.1-13h0m-3.6 2.6h0m3.1 6.8h0m-4-1.4h0m1.4-14.8h0m11.5 14.5h0m-8.3-15h0m-.8 4.2h0m10.5 6.6h0m-6.9 7.2h0m-1.9-.3h0m-2.8-3.3h0m1.3-4.8h0m9.7 10.4h0m-13.9-9.2h0m10.3-3.4h0m-.6 9.3h0m-9.1-11.1h0m10.7 12.3h0m-6.7-8.8h0m.1-8h0m-3.2 .6h0m3.2-2.6h0m1.9 11.6h0m6.5-.5h0m-12.9-5.8h0m11.6 2.9h0m-8.6 11.2h0m-1.7-12.7h0m0 9h0m1.4-5.4h0m5.8-8.5h0m-.7 22.8h0m-1.8-20.7h0m.2 13.2h0m-3.3-19h0m1.8 15.7h0m7.2-4.5h0m-7.9 7.2h0m-2.9 3.4h0m3.6-17h0m-4.7 13.8h0m8.9 6h0m-6.4-1.2h0m6.5-13.8h0m-7-.7h0m8.8 5h0m-8.7 10.6h0m3.3-12.8h0m2.3 10.7h0m-2.5-7h0m1.5 3.5h0m-4 .5h0m5.7-11.3h0m-6.6 11.9h0m4.7-13.1h0m6.4 10.6h0m-3.4-13.4h0m-2.2 1.8h0m4.3 7h0m-4.4 9.8h0m-5.5-6.3h0m2-14.9h0m-3.6 12.2h0m7.9 13.1h0m0-14.5h0m-4.9 9.9h0m5.3-2.2h0m-8.3-3.3h0m8.6-11.7h0m3.5 10.2h0m-12.5-1.7h0m8.2 6.1h0m1.9 1.3h0m-7.5-8h0m-1.6-7.4h0m3.4 1.5h0m2.9 16.7h0m-7.4-15.1h0m9.5-6.4h0m-5.1 8.5h0m1.2 13.2h0m2.2-15.2h0m.9-2.7h0m1.8-.9h0m-5.2 11h0m-.6-5.5h0m5.1-.5h0m7 2.1h0m-7.8-10.1h0m.3 14.4h0m1.3 5.9h0m-3.2-17.4h0m-1.2 1.7h0m-1.4-.2h0m-3.5 15.8h0m10.2-7.5h0m-3.5 9.3h0m-6.3-22.5h0m6.7 22.2h0m-2.5-6.7h0m-4 3.4h0m4.5-7.8h0m-1.8 11.2h0m-1.2-20.6h0m6.4 24.7h0m-8.3-15.2h0m8 7.8h0m-.3 4.8h0m0-20.1h0m-.6 19.4h0m-1.2-2.4h0m-1.7-15.8h0m-5.7 8.1h0m4.1-10.7h0m3.5 6h0m-1.3 6.8h0m0 6.4h0m-3.9-3h0m9.1-6.4h0m-6.2-5h0m1.1-.1h0m-5.7 12.2h0m.1-3.9h0m9.3-15h0m-9.7 17.9h0m.5-4.3h0m12.1 4h0m.3-7.8h0m-8-5.1h0m-3-3.5h0m1.2 19.3h0m1.4 .9h0m-2.6-12h0m6.1 .6h0m-6.4 9.2h0m7.8-2.2h0m1.5-7.3h0m-8.2 12.8h0m-2.2-3.9h0m3.9-6.4h0m-1.7 1.3h0m-1.6 2h0m9.6-8.8h0m-7.1-10.4h0m1.2 6.6h0m4.5 14.3h0m-.3-2.9h0m-7.6-3.7h0m4.7 7.1h0m-.3-10.6h0m5.5-6.1h0m-6.3 6.2h0m3.5 14.4h0m-6-13.6h0m4.1-.1h0m2 7.5h0m-6.6 0h0m7.8-4.8h0m-2.4-5h0m1.9 5.7h0m-1.4-3.7h0m-4.8-.4h0m1.2-.1h0m-1.6-2.9h0m-3 15.6h0m4.6-15.8h0m8.7 4.7h0m-6.7 14.1h0m7.3-16.6h0m-6.3-2h0m.3 11.5h0m-3.5 .6h0m4.1-10.2h0m-4.6 16.6h0m-2.4-4h0m8.4-6.3h0m-8.8 7.9h0m10.1-.6h0m-7.3-18.9h0m7 22h0m-5.5-16.7h0m-3.8-2.7h0m2 16.4h0m6.3-3.8h0m-6.8-13.2h0m1.3 5.8h0m.1-3.6h0m-1 14h0m7.7-6.7h0m-2.2-7.4h0m-2.3 17.2h0m5.8-10.9h0m-3.6 1.8h0m-4.9-12.4h0m8.6 11.6h0m-10.1-6.7h0m-1.3 11.6h0m7-15.9h0m5 9.2h0m-5.8-.8h0m5.3-6.6h0m-10.6 14.9h0m-.1-8.4h0m13.2-7.1h0m-13.8 6.3h0m-.5-5.9h0m11.6 5h0m-1.8-3.8h0m-2.3-4h0m-1.5 19h0m-4.4-11.3h0m10.1 .4h0m-4.4-6.2h0m-1.1-.2h0m4.1 6.2h0m-2.1 10.7h0m-4.2-13.8h0m4.6 13.6h0m-3.1-7.3h0m0-3.6h0m-3.7 14.9h0m.7 .1h0m1.5 2.1h0m6.4-3.5h0m-9.4-23.4h0m5 2.2h0m2.5 15.7h0m-3.1-9.3h0m5.2 10.2h0m-5.1 2.2h0m-2.7-19.9h0m1.1 20.8h0m.5-1.2h0m-5-5.8h0m1.3-4.6h0m4.4 9.7h0m-2.5-4.3h0m-2.4 5.8h0m3.4-11.1h0m-2.7-8.1h0m-.5 13.1h0m16.2-11.1h0m-15.9 .1h0m9.4 8.8h0m-2.4-6.8h0m-8.8 9.4h0m11.8 3.6h0m-7.9-1.5h0m-3.4-15h0m9 13.2h0m-.8 4.7h0m-2.3 2.3h0m1-6.8h0m4.3-10h0m-6.3 4.6h0m-1.8 16.4h0m-.4-21.3h0m3.1 5.4h0m-3.7 4.6h0m5.9-11.7h0m-.1 18.1h0m.2-14.2h0m1.5-1.2h0m-5.2-1.8h0m-2.2 17.1h0m-1.7 0h0m6.1-9.8h0m-3.5 12h0m-3.6-14.3h0m7.7 14.3h0m-1.3-10.5h0m-.5-8.6h0m-4.1 6.6h0m1.6 9.1h0m2.4-14.7h0m.6 2.7h0m0 8.5h0m-1.5 7.9h0m-4.3-15.7h0m5.1 6.1h0m-2.3 .2h0m7.2-1.8h0m-3.1 7.1h0m-1.1-2.4h0m-1.7 2.6h0m5.5-11.5h0m-9.4 5h0m10.4 4.3h0m2.1-3.2h0m-10.9 6.7h0m6.2 .3h0m-3.2-15.9h0m4.5 11.8h0m2 .9h0m-.6 2h0m1-12.1h0m-4.9-7.6h0m4.9 18.7h0m-8.5 2.4h0m4.4-11.1h0m7.3-.5h0m3.8-1.5h0m-1.1-8.4h0m6.9 13.1h0m-10.9-13.6h0m8 1.2h0m-1 6.8h0m-1.2-10h0m2.4 8h0m2.5 0h0m-1.2 5.1h0m-3.9-11.4h0m-4 9.5h0m7.9 6.2h0m-3.7-.2h0m3.6-11.2h0m.8 4.3h0m-1.7 4.6h0m-1.4-5h0m-.6-8.1h0m1 17.2h0m-2.6-4.8h0m6.9-4.8h0m-5.7-7.1h0m-4.7 7.6h0m1-3.4h0m-1.4-.4h0m1.1 1.7h0m-.7 7.3h0m4.6-6.3h0m-3.3-2.2h0m9.1 .1h0m-7.3 10.2h0m1.6-1.2h0m-4.7-3.2h0m8.5-10h0m.8 7.5h0m-4.7-2.4h0m-2.3-4.6h0m6 12.4h0m-3.5 4.7h0m-1.4-5.3h0m-1.5-1.9h0m5.9-4.1h0m-5.5-1.5h0m-.4 11.5h0m1.1-9.3h0m-4.6 .2h0m5.7 8.9h0m4.3-12h0m-1.9 7.6h0m-5.6 1.6h0m4.4-11.2h0m2.2 5.5h0m-6 6.3h0m2.3-11.3h0m2.1 12.7h0m3-6.9h0m-.8 2.7h0m-5.6 5.1h0m1.7-2.6h0m4-10.8h0m-1.6 6.4h0m-6.9-6.5h0m7.8 5h0m-2.9 10.5h0m-1.3-13.8h0m2.1 6.9h0m-4.3-11.5h0m5.7 8.2h0m-4.5 6.6h0m3.9-2h0m-7-5h0m5.7 4.9h0m-3.7-6.5h0m4.5-.6h0m1.8 9.2h0m-.9-10.7h0m-2.6 1.1h0m-1.6 12.8h0m.6-7.2h0m-1.6 1.9h0m2.6-1.6h0m-3.9-4.5h0m7.8 7h0m-5.7-2h0m2.1-6.2h0m2.4 7.6h0m-5.1 1.5h0m4.8-13.2h0m-4.8 6.7h0m-.6 5.2h0m-.7-7.7h0m2.5 13h0m4.4-11h0m-6.9-1.1h0m8.4 6.6h0m-6.8-10.8h0m7.2 2.6h0m-1.5 10.9h0m-.1 .1h0m-6.5-6.4h0m4.9-10.5h0m.3 1.4h0m-3.5-.4h0m6.4 6.6h0m-6.1-12.6h0m1.1 8.9h0m4.2 5.5h0m-5-1.1h0m-1.2 3h0m-2.4 1.6h0m2.7 3.1h0m7.4-1.8h0m-2.7-.4h0m-1 9.4h0m-1.5-11.6h0m-4-5.1h0m3.9-2.4h0m-.9 15.1h0m-1.6-14.2h0m4.9-3.9h0m-2.4 12.9h0m-.2-3.2h0m3.7 3.8h0m-4.5 1.6h0m-3.3-11.8h0m9.3 4.3h0m-5.9 3.2h0m3.9-1.5h0m-5.3-2.7h0m7.6-6.9h0m3 10.5h0m-12-5.8h0m-.1-6.6h0m.4 20.1h0m5.2-9.4h0m3.3-4.4h0m-7.7 3.8h0m-1.3 5.6h0m5.8 3.7h0m.9-2.7h0m-.6 2.2h0m-1.7-7.9h0m-.3 3.3h0m2.4-3.5h0m-6 7.6h0m8-8.7h0m-4.9-2h0m-2.2 13h0m5.5-1.9h0m-.2 2.3h0m-6.7-8.1h0m.9 4.1h0m3.5-14.2h0m-4.2 11.6h0m.4-5.9h0m4.1 7.7h0m-.4 6.6h0m-5-8.4h0m7.1 9.5h0m-5.2-12.5h0m7-4.2h0m-5 4.2h0m-2.2-7.1h0m-.2 13.9h0m3.1-.2h0m2.6-11.2h0m-2.8 6.4h0m-3.3 3h0m.5-3.2h0m1.8-10.9h0m2.1 6.5h0m1.9-.5h0m-2.9 3.7h0m2.7-10.7h0m.4 13.7h0m2.8 5.2h0m-4.4-12.4h0m3.8 11.4h0m-4.7-8.4h0m4-.6h0m3.2-2.6h0m-9.1 8h0m.5-3.8h0m-3.4-2.1h0m1.9 4.1h0m4.5-7.5h0m-5.7 9.1h0m6.2-.5h0m-2.8-12.5h0m-3.7 1.4h0m.9 11.6h0m8-8.4h0m-7.5 3.5h0m6-3.4h0m-7.2-.6h0m5.8-7.9h0m-1.5 15.8h0m4.1-3.3h0m-3.2 7h0m-3.9-4.4h0m5.8-2.2h0m-3.1-.2h0m1.3 7.7h0m-7-12.4h0m3.4 .4h0m6.5 7.3h0m-.9-10.4h0m-4.7 10.5h0m3.5-12h0m-4.6 6.1h0m-.3 7h0m2.4-1.1h0m-5.3-5.2h0m8.4 10.5h0m-.8-7.1h0m-1.6 1.1h0m3.6-1.7h0m-3.6-4.6h0m-6.1 1.4h0m2.3 .4h0m4.2-8.3h0m4.6 8.1h0m-7.6-.1h0m1.7-2.7h0m-.4-1.7h0m.6 15.2h0m5-12.2h0m-8.6 1.8h0m1.9 1.9h0m-1.1-.4h0m5.5 4.6h0m-4.1-.2h0m-3-4h0m3.1 3h0m5-4.7h0m-6.9-3.2h0m6.7 5.8h0m-3.1-4.1h0m-1.2 12.6h0m2.2 .8h0m2.8-11.4h0m-5.1 2.2h0m3.1-13.3h0m-6.7 13.5h0m4.7 6.7h0m1.8-11.2h0m2.4 13h0m-1.5-12.5h0m-5.5-2.1h0m4.3 2h0m.5 6.2h0m.6 1.6h0m-3.9 1.5h0m9.5-.1h0m-8.2 .2h0m4-8.3h0m-.9 5.5h0m-3.3 .1h0m-.2-5.2h0m1.5 10.5h0m1.9-7.9h0m-6.1 6.2h0m2.3-8h0m-.7 6.1h0m5.3 .2h0m.7-7.7h0m-.7 8.1h0m-10.2-15.2h0m8.4 12.1h0m-1.2-3.3h0m-.9 5h0m-4.5-8.7h0m4.5 3.1h0m.6 3.8h0m.9-1.5h0m2-3.1h0m-6.1-1h0m7.1 1.7h0m-6.2-1.5h0m1 2h0m3.6-9.8h0m-5.4 9.6h0m3.1-5.7h0m3.8 .7h0m-1.6 7.5h0m-5 5.2h0m4.9-.4h0m2.3-.5h0m-2-5.5h0m.9-4.7h0m-4.4 10.8h0m.6-6.7h0m-4.1-.9h0m5.9 1.1h0m-4-6.9h0m-1.6 .8h0m5.6 3.5h0m1.9-5.2h0m3 14.4h0m-5.1-10h0m-1 3.1h0m3.7 5.4h0m-5.5-1.3h0m-1.3-10.8h0m7 10.4h0m-.9-.6h0m-1.1-3.8h0m-3.9-4.5h0m.8 14.4h0m.1-24.6h0m.5-3.2h0m-8.1 1.6h0m18.5-4.3h0m-5.7 1.7h0m-9.9-4.3h0m.5 7.5h0m-3.4-.8h0m-7.3-1.9h0m10 .4h0m-1.1 1.9h0m-3-1.2h0m14-5.1h0m-13.7 6.6h0m-4.5-1.2h0m14 3.2h0m-2.3 9h0m2.4-7.9h0m-10.2 2.1h0m13.9-9h0m.3-1.7h0m-17.1 7.4h0m2.6 1.8h0m-2.3-1.4h0m-5.3 1h0m18-5.7h0m-3.2 5.8h0m-10.7-5.7h0m8.6 3.3h0m-3.3-3.7h0m8.8-3h0m-7.9 6.2h0m5.6-3h0m-7.1 10.9h0m-1.3-4.1h0m3-5.5h0m.9 .6h0m.1-8.4h0m.3 9.5h0m-6.1 0h0m22.1 2.2h0m-11.8-2.7h0m-4.7 5.4h0m-2.9-7.3h0m6.8-2.3h0m-6.8 10.6h0m-6.3-3.8h0m10.8-1.7h0m-10 .9h0m8.7 5.5h0m5.7-11.3h0m.5 5h0m-6.8-1.4h0m-4.8-.2h0m-3.4 27.2h0m20.2 5.3h0m-17.8-9.3h0m-7.1-.8h0m19-18.1h0m9.4 9.4h0m-25.7 7.6h0m8 3.4h0m11.5-18.2h0m-3.7 15.8h0m-17.5-12.3h0m1.9-18.7h0m14.1 20.9h0m5.8-4.9h0m-11.3 16.1h0m8.8-6.2h0m-1 11.3h0m7.3-1.2h0m-11.7-7.3h0m2.1-21.5h0m1.7 5.3h0m-3.8 .4h0m2.9 5h0m17.3 3.4h0m-19.3-7.5h0m-7.8 10.8h0m0-4.1h0m-5.7 14h0m4.8-17.8h0m7.3-1.5h0m-5.3 4.3h0m-7.3 4.7h0m1-11.2h0m11.4 7.7h0m-1.6 8h0m1.9-2.2h0m2.1-8.4h0m-13.6 14.7h0m3.8-7.2h0m10.4 7.6h0m5.5-18.5h0m-15.5 16.6h0m9.5-14.5h0m-14.9 18.3h0m14.2-1.9h0m-8.4-11h0m-.1 6.3h0m10.2-13.7h0m-7.5 11.2h0m5.7-7.6h0m14.8 12.2h0m-29.8-12.4h0m2.6 2.5h0m9.9-5h0m-5 25h0m16.4-38.9h0m-23.2 20.9h0m21.8-4.4h0m6 6.1h0m-4.6-12h0m-17 23.7h0m8.6-32.5h0m-8.3 23.5h0m8.8-10.6h0m10.8 6h0m-2.8 3.3h0m-13.3-4.8h0m-12.1 15.3h0m18.7-3.4h0m-11-18.1h0m-.1 7.3h0m3.6 12.9h0m-8.7-13.6h0m15.5 11.3h0m14.8-7.2h0m-29.7-10.1h0m.5 11.6h0m10.2-3.6h0m-8.4 .6h0m5.2 7.1h0m1.5-15.2h0m-12.1 26.9h0m10.5-19.9h0m.6 13.7h0m-2.8-9.5h0m.7 4.1h0m-7.5-2.3h0m19.8 6.1h0m-4-8.6h0m9.3 2.4h0m-1.7-19.9h0m-24.2 26.5h0m8-14.8h0m-6.6 21.7h0m4.4-27.3h0m20.6-2.9h0m-26.2-.5h0m21.3 2.9h0m-21.2 14.2h0m8.5 8.2h0m2.7 4.4h0m10.1-.3h0m-.1-18h0m-5.6 .7h0m1.9-25.6h0m-15.2 14.7h0m7.4 1h0m3 8.2h0m-6.9-5.3h0m8.1 18.2h0m3.2 3.9h0m8.4-13.3h0m-25.9 5.7h0m5.7-12.2h0m15.3 1.5h0m-21.1-.6h0m29.8-8.3h0m-12.4 13.5h0m4.7-5.9h0m-20.4 .7h0m11 1h0m10.3 8h0m-13.9 2.7h0m4.4 4.4h0m13.3-18.2h0m-16.3 5h0m12.2 3.3h0m-4.3 6.4h0m-13.7-5.1h0m19.5 4.1h0m-5.5-11.5h0m-11.4-3.6h0m.9 8.2h0m-4.8 4.3h0m13.2-11.3h0m-1.8 3.5h0m7 10.6h0m-20.2-5.8h0m22.9-13.1h0m-5.7-5.8h0m-10.8 28.2h0m19.4-9.4h0m-9.3 15.4h0m-1.5-17.1h0m-3.3 .3h0m-8.4 1.4h0m4.7 6.2h0m7.8 1.5h0m-.9-20.3h0m7.8-19.6h0m-12.3 34.3h0m-11.7-13.2h0m5.6 15.4h0m21.6-25.2h0m-1.2-3.6h0m-12.3 5.8h0m-7.2 1.3h0m9.2 .9h0m-6-4.7h0m4.4 .1h0m-4.2 1.1h0m-3.4 4.2h0m19.5-5.5h0m-8.3-2.8h0m-7.5 4.3h0m.6-4.6h0m10.3 3.8h0m-5.5-2.8h0m3.4 0h0m-3.6 4.7h0m11.1 .9h0m-12.8 4.1h0m-5.4-5.6h0m23.8 8.2h0m-11.3-11h0m-4.9-3.2h0m2.2 3.3h0m-5.9 8.4h0m-.2 2.3h0m15.6-7.2h0m-13.8-3.2h0m-13.6 5.6h0m16.7-1.9h0m-3.9 1h0m-7.9-11.2h0m19 12.3h0m-7.9-4.6h0m-11.5-2.1h0m21.7-2.1h0m-7.2 3.8h0m19.5 1.9h0m-31.9-1.5h0m1.6-4.5h0m4.5 10.8h0m7.1-3h0" fill="none" stroke="#111" stroke-opacity="0.82" stroke-width="1" stroke-linecap="square"/>
</g>
<line x1="36.2" y1="220.2" x2="36.2" y2="272.2" stroke="#333" stroke-width="1"/>
<line x1="20.8" y1="244.1" x2="75.2" y2="244.1" stroke="#333" stroke-width="1"/>
<rect x="20.8" y="220.2" width="54.400000000000006" height="52.0" fill="none" stroke="#333" stroke-width="1"/>
<text x="67.4" y="227.5" font-size="8.5" font-family='"Liberation Serif", serif' font-weight="normal" text-anchor="end" fill="#222">2.68</text>
<text x="47.9" y="163.2" font-size="8.3" font-family='"Liberation Serif", serif' font-weight="bold" text-anchor="middle" fill="#111">PBS</text>
<g clip-path="url(#c01)">
<ellipse cx="101.5" cy="199" rx="6" ry="6" transform="rotate(0 101.5 199)" fill="#111" fill-opacity="0.8" filter="url(#bl)"/>
<ellipse cx="102" cy="207" rx="3.5" ry="5" transform="rotate(0 102 207)" fill="#111" fill-opacity="0.7" filter="url(#bl)"/>
<ellipse cx="102" cy="179" rx="3" ry="3" transform="rotate(0 102 179)" fill="#111" fill-opacity="0.3" filter="url(#bl)"/>
<path d="M107.6 201.7h0m2.4-1.4h0m-1.7-4.8h0m2 .2h0m-8.4 3.5h0m.1 11.7h0m-3.1-5.1h0m4.3-9.6h0m3.9 7.8h0m-12.2-8.7h0m8.3 3.6h0m1.3-2.6h0m-7.4 .8h0m-.5 6.3h0m.8-2.3h0m10-7.8h0m-13 4.9h0m5.2-1.5h0m-1 2.3h0m-2.2 4h0m3.7 5.2h0m6-6h0m.4-6.9h0m4.7 2.7h0m-2.2 1.2h0m-9.8-7.2h0m5 8.7h0m3.6-8h0m-8 13.1h0m4.7-6.5h0m5.4 1.7h0m-2.5 4.9h0m-3.9-1h0m-4.1-13.4h0m-5.3 6.2h0m8.1-5.9h0m4 6.8h0m-5.8-8.8h0m-5 10.5h0m12.1-7.2h0m-5.7 8.8h0m-5.1-3.1h0m3.6-5.8h0m-.8 2.7h0m-1.2 11.1h0m-3.3-4h0m14.4-8.8h0m-10.5 8h0m-.7-2.9h0m-2.4 3.5h0m6.9-5.3h0m-3.1 10.1h0m-2.7-16.6h0m4.4 11.4h0m6.8-.3h0m-3.1-11h0m-5 6.9h0m4.6 6.1h0m3.4 4.5h0m-4.1-15.4h0m-7.3 15h0m4.7-13.9h0m1.8 9.3h0m3.1 1.7h0m-3.8-11.4h0m2 12.2h0m-1.9-8.2h0m-5.9 .1h0m6.2-6.1h0m-2.7 6.2h0m.3 4.7h0m-6.6-1.7h0m9.9-11.5h0m3.1 7.8h0m-8.3-.4h0m-.9-6h0m7.7 7.6h0m-.7 6.9h0m-2.8 1h0m-4.8-14.2h0m4.3 5.6h0m-2.1 2.4h0m5.6-11.5h0m6 6.2h0m-12.5 5.9h0m-4.4-5.5h0m8 3.4h0m1.3-3.3h0m6.3 4.7h0m-15.4 4.2h0m18.1-2.4h0m-13.7-4.5h0m-.6 6.6h0m-1.9-10.3h0m-.7 1.9h0m12.5 2.5h0m-6.6-9.8h0m3.3 18.2h0m-4.8-4.7h0m3.2-4.2h0m2.9-5.3h0m-.1 1.3h0m1.5 12.5h0m-10.3-11.8h0m4.9 13.6h0m-3.9-17.5h0m7.3 9.9h0m-.2-4h0m3.8-3.1h0m-6.6 11.8h0m-1.5-8h0m-9.7-1.6h0m19.5 .6h0m-6.3 9.3h0m-8.4-13.1h0m11.2 12.1h0m-11.7 .9h0m13.2-3.9h0m.8-6.6h0m-16-1.3h0m3.3 4.4h0m.6 8.8h0m-1.5-8h0m6.8 3.2h0m7.7-7.2h0m-3.2 8.1h0m6.1-.9h0m-4.9-3.3h0m-.6-2.7h0m-7.2 7.1h0m10-5.7h0m-10.5 1.6h0m-5.8-4.5h0m12.3 6.3h0m6.3-3.6h0m-9.1 6.1h0m-11.6-6.5h0m19.3-1.2h0m-16.4 6.6h0m14.2-5.4h0m-12.2 10.7h0m13.1-5.1h0m-14.9-9.4h0m8.1 13h0m-4.9-8.7h0m7-1.9h0m-10.9 5.9h0m8.6-8.1h0m3.2 5.8h0m-9.8 10.6h0m10-17.8h0m-12.3 10.6h0m5.6 4.9h0m.9-15.9h0m2.4 8.6h0m-8-2.3h0m8.7 .7h0m-3-1.7h0m8-.7h0m-.3 8.9h0m1.4-7.9h0m-13.4 .9h0m4.1-6.8h0m.9 .3h0m-4.8 6.5h0m4.4 9.5h0m4.5-9.1h0m-10.1 4.7h0m9.3-4.6h0m3.3 1.6h0m-10.8-.7h0m2.2-7.1h0m1.2 4.3h0m11.2-2h0m-2.5 4.6h0m-14.7 2h0m2.2-8h0m9.5 3.6h0m.9 .2h0m-4.6 5.8h0m6.6-10.5h0m-6 7.7h0m-2-6.8h0m-7 10.2h0m14.9-11.1h0m-3.6 4h0m3.5 3.7h0m-10.5 6.5h0m-1.3-2h0m12.8-7.3h0m-14.4 4.2h0m18.4-3.9h0m-10.1-4.4h0m-4.1-2.1h0m-5.8 15.1h0m.2 3.4h0m16.5-9.7h0m-13-9.6h0m4.9 .1h0m1.6 1.9h0m-2.9-1.5h0m-4.9 14.1h0m7.5-17.3h0m-6.8 13.7h0m12.9 1.3h0m-1.2-3.7h0m-2.5 4.3h0m-5.8-13h0m-3.9 9.2h0m-4.9-11.5h0m4.5 16.8h0m5.3-13.8h0m-7.5 8.4h0m6.3 9h0m5.2-16h0m2.1 6.2h0m-11.8 4.1h0m1.7-.7h0m-3-6h0m8-2.1h0m-.5 9.6h0m-7.7-1.6h0m2.2-5.8h0m2.4 9.5h0m3.1-18.7h0m.9 10.8h0m5.4-3h0m-12.9-1.8h0m13.5 6.6h0m-12.1-3.1h0m5.2 8.7h0m-.6-.8h0m-2.8-1.5h0m.8-8.6h0m8.1 11.4h0m4-2.1h0m-3-1.9h0m-2.7-6.4h0m-10.7 3.4h0m1.2 5h0m14.5-6.6h0m-13.6 5.7h0m-.1-2.9h0m6.2-9.7h0m-5.2 .6h0m2.5 12.7h0m-4.9 .9h0m1.9-4h0m6.7-4.8h0m3.7 5.7h0m-6.4-12.9h0m-3.3 8.1h0m-1.2 8.9h0m5.9-13.2h0m.7 .1h0m4.5 .1h0m-3.7 1h0m-2.6 14.4h0m.5-9.7h0m1.8-1.9h0m4.9-1.5h0m-4 9.8h0m-1.6-2.2h0m-9.6-1.2h0m10.7-.9h0m.2 4.2h0m-6.7 3.1h0m11.5-3.6h0m-2.5 2.5h0m1.7-12.7h0m-14.4 13.1h0m8.3-5.3h0m4.6-3.2h0m-.6 4.7h0m2.1-5h0m-5.2 0h0m1.4-4.2h0m-16.8-.1h0m12.8-2.3h0m.5 6.4h0m-2.2 .6h0m-7.9 7.4h0m7.2-4.8h0m9.9-7.3h0m-11-.8h0m-1.2 .2h0m12.6 11h0m-9.4 2.2h0m9-9.8h0m-7.9-6.1h0m-8.4 5.8h0m6.5-1.8h0m5.8-.5h0m-9.8 8h0m13.5 .8h0m-4.8-2.1h0m2.4 5.4h0m-8.8-14.7h0m12.6 4.6h0m-9.6 5.4h0m5.8 2.9h0m-4.3-8.4h0m-7-6.6h0m.7 7.7h0m0-4.3h0m10.6 2.8h0m2.8 3.9h0m-15.2 2.5h0m9.8-5h0m-2.8 6.2h0m-6.2-4.1h0m-.4-3.6h0m10.9 1.8h0m-.6 2h0m-4 3.5h0m3.5-11.4h0m3 17.5h0m2.5-9.7h0m-3.3-6h0m-6.7 13h0m3.2-10.5h0m-.5-3.4h0m-.6 15.6h0m5.6-10h0m-10.3 7.6h0m9.1-16.8h0m1.7 17.9h0m1.1-5.1h0m-14.1-4.5h0m6.4 4.8h0m-1.5-4.4h0m7.9-3.6h0m.6 5.2h0m-9.2 7.3h0m-.6-14.8h0m-1.8 13.6h0m12.8-12.8h0m-5.5 6.5h0m5 1.1h0m.2 2h0m-6.9 5.9h0m-1.2-14.3h0m-2.5 7.9h0m11.4 .8h0m-14.3-5.6h0m11.2-1.8h0m-12.4 2.1h0m13.6-2.8h0m-12.4 .1h0m4.4 10.5h0m.5-2.1h0m-6.4-1.3h0m6.3-7.7h0m1.6 9.9h0m5.8-1.7h0m-6.5-8.6h0m1.2 1.7h0m5.4-10.9h0m-12 13.9h0m12.6 10.2h0m-7.7-1.7h0m-7.1-16.4h0m7.6 15.5h0m6.4-9.9h0m-8.7 8.5h0m5.1-14.5h0m-9.2 13.3h0m16.5-1.1h0m-4-9h0m-9.7 13.9h0m1.8-15.8h0m-4.1 10.1h0m10.4 5.4h0m.7-9.5h0m-9 .8h0m9.7-8.1h0m-9.9 3.1h0m5.6 1.5h0m-3.8-2.3h0m-2.2 12.8h0m-1.4-5.3h0m11.1-7.8h0m-5.4 8.8h0m-5.1 7.8h0m9.4-8.5h0m-9.5 2.4h0m14.9 0h0m-13.9-5.6h0m16.1 10.4h0m-11.3-4.5h0m.5-8h0m8.1 6.3h0m-14.1 2h0m.9 4.2h0m9-14.2h0m-4.5 7.2h0m-7.6-2.4h0m8.1 .7h0m6.1 6.4h0m.7-12.2h0m-10-3.8h0m-8.4 15.9h0m7.7 2.7h0m7.1-4.8h0m-3.5-7.2h0m7.4 12.3h0m-14.1-10.4h0m2-6h0m4.7 6h0m-11.2 1.4h0m15-.2h0m5.3 .3h0m-13.3 5.1h0m9.2-5.2h0m-5.2-4.7h0m-4.9 6.8h0m13 10.8h0m-7.7-18.3h0m-.2 15.9h0m-1.2-8.1h0m7-5.7h0m-8.1 5.6h0m9.5-8.2h0m-.6 6h0m-10.8-4.6h0m-2.9 2.4h0m12.4 9.6h0m.4-6.1h0m4.3 3.9h0m-2-2.4h0m-16.2 4.1h0m9.5-12.3h0m-8.5 5.5h0m2.3-2.5h0m-3-.2h0m14.8 .3h0m-7.8 11h0m10.8-5.9h0m-14-3.8h0m8.3 3.6h0m-5.2-13.5h0m7.2 19.4h0m-.9-1.8h0m1.2-9.2h0m-11 8.4h0m1.7-12.6h0m8.7 4.7h0m-3.4 8.1h0m-2.6-11.5h0m-5.2 10.3h0m10-3.7h0m-5.6 5.1h0m-1.4-3.6h0m6.9-11.2h0m-5.9 6.5h0m.5-3.2h0m2.2 1.1h0m-.1-6.2h0m-2 7.3h0m-3.3 9.1h0m8-.2h0m-2.9-1.4h0m.9-4.5h0m-6.2 13.2h0m3.5 3.8h0m6.5-10.3h0m-5.1 8.6h0m-3.2-7.6h0m4.4-1.1h0m1.8 8.1h0m-7.1-8h0m4.4-.8h0m-2.5 4.5h0m.3-3.8h0m4.1 7.5h0m-4.4-8.9h0m4.1 2.8h0m1.7-5h0m-3.6 1.3h0m-6.1 3.8h0m3.2 .1h0m5.9 2.4h0m-.3 4h0m-2.1 2.9h0m-1.6-13.4h0m-1.6 8.5h0m2.3-6.9h0m-.6 8.2h0m.2-10.5h0m-1.8 4.7h0m3.1 1.8h0m-2.7 1.4h0m7.2-3h0m-.4 .8h0m-10.2 10.2h0m11.2-13.2h0m-3.9-4.2h0m.4 14.1h0m-2.8 1.2h0m5-7h0m1-1.8h0m-7.8 5.1h0m1.2-10.6h0m2.3 10.8h0m-.4 1.4h0m-.9-5.6h0m4.6 1.6h0m-2.4-4.3h0m3.2 .4h0m-3.5-2.6h0m-6.2 7h0m4.6-1.5h0m-2.1-.9h0m6.6-.9h0m-6.8 6.4h0m-1.2-.9h0m3.7 2.2h0m-1.4-1.3h0m6.4-5.6h0m-2.8-4.6h0m-5.1 10h0m6.3-3.1h0m-.5 2.7h0m-1.4-9.2h0m-3.2 3.9h0m4.3 2h0m-2.8 2h0m-.8-7.9h0m-2.3 13.1h0m1.6-11.2h0m1.3 6.2h0m2.2-2.1h0m4.2 2.9h0m-8.6-2h0m1.2-8.3h0m5.1 4.3h0m-5.3-3.5h0m6.1 5.8h0m.1-.9h0m-7.4 2.7h0m2.1 5.2h0m.2-14h0m4.3 8.4h0m-6.9-6.1h0m1.4 4.1h0m3.4 3.5h0m-5.7 .8h0m-.2-.2h0m7.6-2.8h0m-4.2 2.6h0m5.8-2h0m-5.7-2.3h0m5.2-5.8h0m-7.7 3.3h0m6.1 5.4h0m1.1-7.1h0m-4 11.2h0m-4.3-7h0m7.6-.4h0m-4.8-3.8h0m5.2 2.5h0m-1.3 9.7h0m-.6-5h0m-1.3-8h0m-4.5 4.6h0m2.5-3.7h0m3.7 2.2h0m-4.5 2.7h0m2.6-4h0m-4.1 .6h0m5.2-3.8h0m1.5 1.1h0m-1.7 5.5h0m-.8-8.8h0m-4 16.2h0m5.1-10.7h0m-.4 .6h0m-4.2-1.8h0m-.6 2h0m5.1-1.1h0m-4.7 7.3h0m7.8-5.1h0m-3.9-.2h0m4.6 5.2h0m-4.2-9.9h0m-1.4 13h0m-2.3-1.9h0m-.3 1.3h0m-2.1-4.3h0m2.6-.8h0m-1.8 4.3h0m3.7-8.5h0m4.9 3.6h0m-.5-.5h0m-2.5 3.8h0m1.9 1h0m-4.4-8.4h0m-1.6 7.4h0m5.6 2.6h0m-8.4 1.9h0m5.5-12.5h0m-3.8 1.9h0m1.8 2.2h0m-1.8 .4h0m6.5 .7h0m-7.1 4.7h0m8.8-11h0m-8.3 7.1h0m9.1-5.1h0m-3.1 6.7h0m-2.3-6.5h0m1.6 2.1h0m-1.1 8.6h0m-3.8-6.1h0m4.4 3.1h0m-4.2-6.5h0m8.6-.3h0m-3.1-1.3h0m-6.2 1.9h0m7.2-3.6h0m-2.9 5.4h0m-3.9 2.1h0m3.5 2.1h0m5.2-2.5h0m-7.8-.2h0m-1.4 3.5h0m2.3-8.7h0m2.8 2.8h0m-1.3 3.5h0m-1 4h0m.3-8.2h0m2 10.9h0m-2.3-12.2h0m8.4 2.3h0m-9.8 .5h0m3.1-1.7h0m-6.5 1.9h0m11.9 1h0m-7.4-7h0m2.6 13.8h0m2.5-3.9h0m-1.5-10.5h0m-6.8 6h0m9.2 6.4h0m-7.6-11.2h0m-.6 2.7h0m1.9 .5h0m2 10.2h0m-2.7-4.2h0m2.7-6.8h0m6.1-5.2h0m-4 7h0m-2.5 7.6h0m2.9-.7h0m-3.9-12.2h0m-1.5 5.8h0m6.8 .8h0m-4.1-.5h0m4.2 .8h0m-1-2.7h0m.3 2.3h0m-8.3-.8h0m.8-1.7h0m7.9-.2h0m-6.8 9.2h0m2.4 1h0m4.6-6.3h0m-4 4.2h0m5.1-6.2h0m-7 2.4h0m2.9 1.5h0m3.7 .7h0m-6.6-4.2h0m5.4 5.3h0m-.8-9.2h0m-3.8 2.1h0m2.7 8.3h0m.3-7.4h0m-5.7-2.4h0m2.1-5.6h0m3 14.8h0m-1-11.7h0m-4.8 3.6h0m2.1-2.7h0m5.8 12.8h0m-8.2-12h0m3.6 .8h0m.3 9.5h0m4.9-2.8h0m.4-6.1h0m-7.6-3.6h0m10.1-17.7h0m-4.3-5.6h0m-1.3 9.9h0m2.8-13.2h0m-1.9 10.2h0m-.1 6h0m-1.9 2.6h0m-2.4-9.4h0m.4-.3h0m2.7-2.3h0m-4.3 3.4h0m6.5-1.7h0m5.6-1.6h0m-16.2 5.9h0m14.8-11h0m-7.9-1.1h0m-6 6.3h0m-2.5-8h0m13.2 19h0m-3.8-16.2h0m1.9 2.2h0m-6.4 8h0m7.5-5.2h0m.5-5.6h0m-.4 4.2h0m-7.8-7.4h0m9.5 4.1h0m-1.7-.9h0m-5.8 5.3h0m-9.1-.6h0m12.9 1.2h0m-2.2 4.2h0m2.5-6.5h0m-1.2-.7h0m-6.4 15.6h0m10.1-7.1h0m-5.1 3.9h0m7-5.6h0m-6.4 10.1h0m-2.5-6.4h0m13-4.7h0m-16.3-11.1h0m6.2 6.9h0m-.1-3.3h0m2.9 15.9h0m-4.7-15h0m7.6 7.7h0m-2.7-2h0m-.4-.4h0m-2.5-5.2h0m3.5 3.8h0m-1.4-7.9h0m-5.7 2.6h0m8.7 13.4h0m-.4-10.8h0m-4 5.2h0m-1.1 12.2h0m-1-10.3h0m.3-4.2h0m2.9-8.8h0m-2.2 10.2h0m6.7-6.9h0m-6 2h0m5.6 1.5h0m6 5.2h0m-12.8-6.2h0m5.4-1.4h0m-5.2 3.6h0m2.4 10.2h0m1.1-8.9h0m2.3 2.7h0m-.2 4.1h0m-12-4.3h0m8.6 2h0m-.4-9.4h0m2.5 2.8h0m-5.9-1.1h0m1.7-1.4h0m-5.5 8.3h0m7.2-6.6h0m.3 5.9h0m-.7-11.3h0m-2.3-1.5h0m2.1 15.7h0m3.5-6h0m-6.7-2.7h0m3.5-1.1h0m-6.9 6.5h0m7.2 4.9h0m-2.2-6.8h0m6 3.8h0m-2.1-12.1h0m1.3 1.3h0m-2.6-4.1h0m-5.9 6.4h0m6.1 7h0m.1-2h0m-4.6 1.5h0m-4.6-6.7h0m6.3 15.2h0m2.5-14.3h0m-3.8 1.1h0m5.2 3.4h0m-2.6-.9h0m7.5 1h0m-2-9.6h0m-4.9 8.5h0m1.8-4.6h0m-6.3 11h0m-.1-7.8h0m5 3h0m-3.4-13.4h0m5.2 12.2h0m-6.3-1.6h0m-1.7 1.1h0m4.8 2.3h0m-6.6 2.1h0m10.2 .3h0m-1.3-11.6h0m-7.7 16.6h0m4.1-4.2h0m-6.3-2.7h0m3.8-7.8h0m-5 3.6h0m7.6 3.3h0m2.8 1.3h0m-5.7 25.3h0m-16.9-12.4h0m2.2 5.5h0m6.4 9.9h0m-5.2-9.1h0m3.4-14.3h0m5.3 11.4h0m-12 5h0m4.5-3.2h0m-1-1h0m3.3 9.1h0m-3.2-3.3h0m2.8-3.8h0m2.1-12.4h0m-3 2.2h0m3.9 13.5h0m1.4-14.7h0m-8.8 4.3h0m5.8 6.1h0m-.2-2.6h0m-.6 6.7h0m-1.9-14.2h0m8.6-1.4h0m-7 14.1h0m3.2-.7h0m5.9 5.2h0m-13.1-11.8h0m13.2 7.5h0m-8.6 5.3h0m.8-5.4h0m2.5 1h0m-4.7 1.9h0m.5-11.3h0m4.2 9.1h0m-7.3-1.4h0m2.1-1.2h0m6.7 3.9h0m-9.3-12.9h0m1 1.3h0m6.4 17.2h0m-7.7-13.3h0m4.3 6.8h0m4.6-6.2h0m-3.6-2.1h0m-3.5 .1h0m3.2 7.5h0m-5.3 .2h0m-2.2 1.2h0m11.8 3.1h0m-11.7-5.4h0m4.4-1.2h0m7.4-7.7h0m-5.7-1.8h0m-1.7-7.1h0m1.9-1.1h0m-1.4 18.9h0m8.1-11.1h0m-2.5 3.3h0m-12.4 11.1h0m9.7-3.9h0m.9 1h0m-5.4-1.5h0m2.6-2.4h0m-1.7 5.3h0m7.4-3.5h0m.6-6.9h0m2.8 .9h0m-8.9 3.8h0m6.1 2.7h0m-3.1-7h0m2.8 11.4h0m-9.6-8.7h0m8.5 6.8h0m-9.8-9.2h0m7.4 2.7h0m.4-3.1h0m-5.2 7.1h0m5-8.5h0m2.8 8.6h0m-3.9-2h0m3.5 1h0m-4.2-1.7h0m6.2 9.2h0m-17.5-13.6h0m1.2 .6h0m8.8-1.6h0m3.8 6.3h0m-.6-9.1h0m-2.4 11.4h0m-5.6-13.4h0m3.4 9.3h0m5.7 9h0m-.2-9.9h0m-2.4 4.9h0m.6 .7h0m-3.5-1.8h0m1-5.7h0m1.2 9.5h0m1.2-4.3h0m-.3-1.3h0m-1-1.9h0m-8.3 3.1h0m6.1-4.7h0m-.9 6.7h0m3.1-1.8h0m1.9 .9h0m-.3 2.3h0m3.7-.1h0m-3.1 1.7h0m-3.4-12.8h0m1.4-3.6h0m-2.4 11.2h0m9.2 1h0m-8.8 1.2h0m4.7-1.7h0m1.5-5.9h0m.9-4.9h0m-4.7 13.1h0m2.4-6.8h0m-10.6-5.1h0m3.8 9.1h0m12.6-4.3h0m-2.2-1h0m-5.8 5.8h0m9.4 0h0m-18.2-4.9h0m11.6 2h0m.4 .2h0m-1.9 5h0m8.7-4.5h0m-13.1 5.6h0m6.4-14.4h0m-.2 5.9h0m-2.7 10.1h0m4.8-10h0m9.7-4.5h0m-24.2 1.1h0m5.7-6.5h0m17.8-.5h0m-8.5-5.6h0m-5 19.9h0m17-23.9h0m1.7 20.4h0m-13.7-13.2h0m9.1 7h0m-10.8 6.9h0m11.4-16.6h0m-.3 16.4h0m3.3 11.6h0m-6.3-22.1h0m9.2 18h0m-17.7-16.7h0m6.1 18.4h0m-9.4 .5h0m4.3-13.6h0m3.7 18.9h0m15.6-32.6h0m-9.1 24.4h0m.7-2.8h0m-15.5 5.4h0m21.2-16.2h0m-5.1 15.2h0m-.8-1.6h0m-14-14.5h0m12.9 15.2h0m6.7-16.3h0m-16.5 1.6h0m1.8 23.6h0m17.7-14h0m-.8-5.8h0m-10 3.8h0m-1-7.8h0m-12.8 12.8h0m8.1-14.5h0m-4.8-14.7h0m-.7 24.2h0m1.7-22.4h0m-.8-2.8h0m12.4-2.2h0m-4.4 42.7h0m1.1-11h0m-3.2 3.4h0m24.9-19.8h0m-22.4 .9h0m1.1 6.7h0m1.7 4h0m-6.6 6h0m9.6-15.1h0m0-.9h0m-11.9 15.9h0m15.2-1.8h0m13.4-10.7h0m-19.2 4.4h0m-19.6 7h0m17.8-1.9h0m-.9 1h0m-1.9-21.9h0m3.8 17.5h0m-7.6-19.3h0m6.3 23.4h0m14.2-4.7h0m-10.5 4.1h0m-8.3-9.6h0m-1.7 7.9h0m13.4 6h0m-25.5-15.6h0m25.2 9h0m1.9 6h0m-6.2 1.7h0m8.7-10.5h0m-18.8-12.3h0m10.1 30.2h0m-.3-16.8h0m.6-7.6h0m-.4 23.7h0m-.8-20.6h0m.3 17.5h0m-.5 .3h0m-1-12.8h0m-7.4 2.5h0m11.4 10.8h0m3.6-16.2h0m-22.6-4.9h0m27.9-12.6h0m-17.7 25.9h0m13.4-11.8h0m-6.8 2.5h0m-2.7-1.5h0m2 9.7h0m-9.1 3.4h0m-5.6-30.9h0m.9 27.9h0m3.2-.1h0m7.4-3.7h0m-.4 16.4h0m4.6-32.9h0m-12.7 18.4h0m11.1 4.9h0m9.5-6.6h0m-21.2 5.3h0m1.7-7.1h0m-.8 5.2h0m23.5-16.6h0m-17.6 23.3h0m9.2-1.1h0m3.2-8.2h0m-11.5-1.8h0m15.3-16.5h0m-10.7-4.1h0m11.7 .8h0m-7.7 .4h0m-2.1-4h0m-6.8 .5h0m19 2.1h0m-17.9-8.5h0m4.8-.9h0m2.3 5.9h0m-13.3 3.9h0m30.5 2.4h0m-20.1 1.6h0m6.7-7.8h0m-2.4 2.9h0m18.2 2.8h0m-15.6 2.4h0m10.4 2.8h0m-25.5-8.4h0m12.6 5.9h0m1.3 1.2h0m-2.6-13h0m-2.8 4.1h0m6.5 1.9h0m3.9 6.7h0m8.2-8h0m-13 13.6h0m-9.2-10.3h0m3-7.2h0m-.1 15.2h0m1.6-2.8h0m9.8-.9h0m-12.5 9.3h0m3.5-19.6h0m6.9 3.7h0m-3.6-6.6h0m7.9 7.8h0m.4 3.6h0m-11.6-4.9h0" fill="none" stroke="#111" stroke-opacity="0.82" stroke-width="1" stroke-linecap="square"/>
</g>
<line x1="95.6" y1="165.6" x2="95.6" y2="217.6" stroke="#333" stroke-width="1"/>
<line x1="75.2" y1="188.6" x2="129.6" y2="188.6" stroke="#333" stroke-width="1"/>
<rect x="75.2" y="165.6" width="54.39999999999999" height="52.0" fill="none" stroke="#333" stroke-width="1"/>
<text x="125.3" y="172.9" font-size="8.5" font-family='"Liberation Serif", serif' font-weight="normal" text-anchor="end" fill="#222">11.73</text>
<g clip-path="url(#c11)">
<ellipse cx="93" cy="255" rx="5.5" ry="9" transform="rotate(15 93 255)" fill="#111" fill-opacity="0.97" filter="url(#bl)"/>
<path d="M93.4 257.6h0m-.2 2.1h0m-4.5 4h0m8.3-15.3h0m-1.9 .6h0m-7.4 16.2h0m5.1-2.1h0m4.7-12.9h0m-4.4 .7h0m3.3-8.1h0m-4.7 12h0m-1.4 10.2h0m-2.1-11.4h0m-.1 6.6h0m1.6-7.7h0m-5.3 2.1h0m7.8 .3h0m-4 6.7h0m9.7-1.3h0m-6.1 4.5h0m-4.7-4.9h0m11.4-2.9h0m1.7-.6h0m-6.2-7.6h0m1.4 11.7h0m-2.2-.6h0m4-7.3h0m-.4-6.8h0m-6.6 3.1h0m8.8 2.5h0m-11.4 14.4h0m4.3 .8h0m1.5-4.7h0m3.7 .8h0m-6.1-7.7h0m6.3-5.7h0m0 .8h0m-10 1.2h0m10.6 11.8h0m-11-2.3h0m0-6.9h0m.8-1.5h0m9.9 8.9h0m-2.2 1.1h0m4.1-9.1h0m-1.6 7.6h0m1.4-1.4h0m-.8-15.1h0m3.1 14.2h0m-9.5-13h0m-1.2 2.7h0m.8-.1h0m6.2 9h0m-3.6-4.3h0m5.1-5.8h0m-9.4 24.6h0m2.2-8h0m-1.1-23.3h0m-.8 10.1h0m-7 4.5h0m9.1 2.1h0m-.2 2.1h0m5.6 7.2h0m-8.5-13.7h0m9.6 9h0m.5-8.2h0m-11.2-.6h0m1.8-.8h0m.4-2.9h0m-3.1 8.1h0m4.6-6.8h0m-.2-2.1h0m6.2 8.8h0m-5.8-11.7h0m4.3 4h0m-2.8-1.5h0m4.3 19.9h0m-.9-11.5h0m-7.4 3.1h0m6.7-17.6h0m-.3 13.7h0m3.5 .6h0m-1.3 1h0m-.9-4.8h0m-2.2-10.6h0m-3 20.4h0m-1.7-1.6h0m4.1 2.3h0m.6-14h0m-.7 11.4h0m-3.5-.4h0m7.3 1.7h0m-10.3 2.2h0m-1.9-3.3h0m6.9 3.4h0m5.6 .1h0m.5-4.9h0m-5.8 1.3h0m7.7-1.7h0m-4.1 2.9h0m-7.5 3.4h0m4.4-12.3h0m.7 11.4h0m6.4-13.1h0m-8.7-2.7h0m-3.7 8.5h0m7.8-14.3h0m-6.1 12.1h0m10.3-2.7h0m-11.1 9.7h0m-1.8-10.4h0m11.2 3.4h0m.4 1.7h0m-3.9 4.5h0m-10.2-6.3h0m7.2 4.7h0m-4.9-5.3h0m3-3.1h0m4.9 4.7h0m-4.1-8.7h0m-1.8 11.6h0m10.6-3h0m-5.5-4.2h0m-4 7h0m8.2 3.1h0m-8-7.5h0m3.8-5.7h0m-4.1 7.7h0m8.6-4.8h0m-.9-.8h0m-4.3 7.8h0m4.2-4.6h0m-9.6-1.4h0m3.4 14.3h0m5.5-9.9h0m-4.7 6.8h0m3.7-18.2h0m-.1 6.8h0m-3.1 7.3h0m.9-18h0m-6.1 16h0m11.1-9h0m-8.8 4.5h0m6.5-.9h0m-1.7-1.6h0m4.8 3.2h0m-10.2 5.6h0m4.7-9.8h0m-2.5-3h0m9.5 11h0m-11.9 7.2h0m10.9-5.8h0m-9.2-12h0m6.8 14.7h0m2.8-4.2h0m-12.1-4.5h0m4.6 10.4h0m5.2-16h0m-2.7 15.5h0m-2.8-16.6h0m-6.5 8.6h0m-.5 6.1h0m7-8.8h0m3-4.8h0m-3.1 .7h0m-5.4 14.6h0m5.1-10h0m7.6-7.4h0m-1.4 5.3h0m-9.9 1.2h0m8.9-5.2h0m-1.1 9.8h0m.2-15.8h0m-1.2-1.3h0m-6.6 14.2h0m9.6 8.2h0m-5.1 4.4h0m2.8-19.5h0m-2.6 18.1h0m2.7-5.1h0m4.3-4h0m-5.1 9.4h0m4.7-12.9h0m-3.8 6.3h0m.6 5.1h0m-4.1-11.4h0m-3.4 4.7h0m-2-6h0m.3 9.7h0m4.2-5.8h0m-2.1 4.2h0m8.1 2.1h0m-1.8-3.8h0m-4.8-3.5h0m1.7-3.4h0m-.5 10.8h0m-2 3.2h0m4.4-5h0m-5.6-7.1h0m1.9 .4h0m4.4-5.8h0m2.1 13.3h0m-.6-5.4h0m-.8 4.9h0m-6.1-12h0m7.9 1.9h0m.7 11.9h0m-5.7-17.7h0m5.6 16.1h0m-10.3-10.5h0m-.3 9.4h0m3.4 9h0m-4.3-5.3h0m12.2-12.2h0m.9 .6h0m-.7 5.1h0m-1.3-9.4h0m.5 2.2h0m-13.4 7.1h0m7.9 9.1h0m-.3-12.5h0m.7 5.9h0m-2.3-7.8h0m8.3-2.9h0m-10.6 .4h0m3.8 2.8h0m-2.6 16h0m1.5-20.1h0m-1.8 11.7h0m-.8-5.7h0m5.3-10.9h0m-6.4 24.6h0m8.8-14.9h0m-2.9 10.1h0m.7 3.7h0m-2.3-14.5h0m1 7h0m-.8-11.9h0m2.2 2.2h0m.2 9.2h0m1.7 1.5h0m0-5.2h0m3.5-7.3h0m-.9 12.1h0m-12.8-1.2h0m3.8-9.5h0m9.6 5h0m-8.7-5.1h0m-4.6 11.6h0m3.6 2.3h0m6.5-6.7h0m-10.2 9.6h0m.8-3.2h0m-1.8-3h0m7.2-6.7h0m1 6.8h0m-3.4 4.1h0m7.7-1h0m-5.9 1h0m5.6-17.9h0m-6.4 3h0m.9 12.7h0m8.2-5.9h0m-1.9 6.7h0m-3.6-1.1h0m2.9-8.8h0m.4-.7h0m-3.5 4.6h0m2.1 .7h0m-3.3-1.7h0m3.3 4.2h0m-9.1-8.7h0m7-2.9h0m4.8 15.3h0m-10.4-4.3h0m3.6 1h0m-.4-1h0m2.3-6.1h0m-4.4 6h0m-.2-9.2h0m3.2-4.2h0m3.5 6h0m.7 3.4h0m-9.6 9.4h0m5-16.6h0m-4.1 12.2h0m4.5 1.9h0m-.9-4.1h0m-6.5 8.4h0m7-5.5h0m-1.4 1.4h0m-2.2 .8h0m-2.3 .3h0m3.7-1.5h0m-.1-5.9h0m.8 2.8h0m.4 2.4h0m6.4-6.5h0m-5.6 11.7h0m-5.7-2.7h0m6.2-4.2h0m-5.2 7.2h0m2.9-12.9h0m6.4-3.9h0m-2.6-3.1h0m-1.8 15.3h0m6-1.9h0m5.1-9h0m-3.5 7.2h0m-7-9.4h0m5 .9h0m-10.7 16.7h0m9.2-19.6h0m-4.5 4h0m3.7 14h0m5.5-9.2h0m-6.1-.3h0m-5.4 5.7h0m-.9 6.4h0m15.8-11h0m-4.2-.6h0m-12.9 9h0m6.1-4.2h0m.4-12.3h0m-1.2 6.1h0m5.6-.8h0m-11.1 5.6h0m11.9-3.5h0m-2.4 1.6h0m-2.9-2.2h0m.6-8.5h0m-2.5 8.8h0m4-5.6h0m-3.2 12h0m1-.1h0m-3.6-8h0m2.4 5.7h0m-3 2.4h0m4.8 .1h0m4.9-5.7h0m-8 2.9h0m.6 5.5h0m.7-13.2h0m7.1 .3h0m-6.5-.7h0m5.8-1h0m.8 5.8h0m-6.9-6.6h0m4.6 15.1h0m0-7.7h0m-9.8 0h0m.6 10.3h0m12.8-11.6h0m-7.8-1.7h0m-4.8 9.1h0m-.7 5.6h0m-1.8 2.4h0m8.5-6.3h0m3.4-6.9h0m-11.5 5.5h0m2.8-.9h0m-1.5-1.3h0m2.7 5.1h0m9.1-7.9h0m-3.4-8.7h0m-.5-1.1h0m.8 6.5h0m5 11.1h0m-9-16.2h0m2.8 6.3h0m-5.9-5.1h0m.7 14.4h0m4.8-2.9h0m-3.9 2.2h0m-4.6-.6h0m11.2-3.3h0m-6.8-10.4h0m2.4 14h0m5.4-3.6h0m-5.8-8.9h0m-5.5 9.2h0m1.9 2.3h0m6.6-11.3h0m-2.9 11.5h0m-8.3-5.8h0m6.1-3.7h0m-1.3-3.2h0m11.8 6.6h0m-9 .3h0m2.9 15.7h0m-1.2-15.1h0m4.8-3.2h0m-5.5 1.8h0m7.3-1.7h0m-6.7-8.4h0m-4.8 18h0m8.6-20.5h0m-3.6 21.1h0m-4.8-9.9h0m3 8.3h0m5.2-10.6h0m-3.7 7.4h0m-1.6 6.9h0m.3-19.8h0m1.5 10.7h0m-3.8 4.8h0m4-13.4h0m-7.2 9.2h0m5.3-11h0m-1.3 11.1h0m-3.3-3.3h0m-.5 5.4h0m6.5-13.2h0m7.2 15.3h0m-9.5-9.1h0m1.8-5.7h0m-3.2 18.3h0m7.6-16.7h0m-6.8 9.1h0m2.5-1.6h0m6.5 1.1h0m-9.2 3.7h0m-6.2 2.2h0m8.6-6.7h0m-7.4 1.8h0m8.9-2.7h0m.1 1h0m-7-5.1h0m5.5 11.3h0m3.7-19.6h0m-5.6 18h0m8.1 3.8h0m-1.2-9.7h0m-9.7 5.2h0m10.8-3.1h0m-8-10.4h0m6.6 15.8h0m-2-12.7h0m-7.1 6.5h0m-1.5 4.6h0m10.9-9.4h0m-2.1-.4h0m-8.9 7.7h0m11.7 2.7h0m-1.1-6.3h0m-9.5-5.8h0m9.5 5.3h0m-9.1 10.1h0m8.1-.9h0m-.8-18.4h0m-1.9 9.2h0m5.4-4.6h0m-1.8 12.8h0m-8.2-11.7h0m-2.6 9.1h0m7.6-14.3h0m-1.1 19h0m-4.7-3.6h0m10.9-9.6h0m-4 2.4h0m5.4-2.7h0m-5-3.2h0m.6 12.3h0m-10.9 7.6h0m7.7-9.5h0m-5.7-2h0m8.9 4.4h0m-5.9 8.1h0m-2.7-11.4h0m12.5-1.7h0m-7.1-7.3h0m2.9 1.3h0m-7.2 5.4h0m-3.2 2.1h0m10.9 9.5h0m-4.2-16.7h0m2 12.4h0m-3.6-13.3h0m-1.1 14.5h0m-6.2-9.6h0m14.4 5.4h0m-4.9-.5h0m6.2-3.9h0m.4 4.3h0m-13-.7h0m2.1-6.3h0m-5.1 9.3h0m2.8-5.4h0m11.1-1.8h0m2.9-9.3h0m-9 14.4h0m-4.3-5.8h0m3 6.9h0m.5-5.6h0m-.3-8.1h0m2.3 17.9h0m-2.9-2.2h0m.8-6.5h0m5.8 5.2h0m1.4-6.5h0m-4.8-3.4h0m-3.3-2h0m6.1 9.8h0m-7.5-2.6h0m4.8-9.2h0m-1.7 13h0m8.9-10.8h0m2.7-.3h0m-15.1 9h0m4.3-1.9h0m4.3-7.5h0m-6.8 13.6h0m6-17h0m-4.6 13.3h0m4.5 1.8h0m-11.1-.7h0m4.9 2.1h0m-.5-12.1h0m8.4-6.2h0m-2.9 21.4h0m0-3.3h0m-2.8-12.6h0m7.2-5.4h0m-10.1 17.3h0m4.9-13.8h0m0 .7h0m3.8 1.1h0m1.7 5.8h0m-3.9 6.1h0m-.8-13.7h0m-.2 5.9h0m2.4-7.1h0m-1.5 3.3h0m-.2 4.3h0m-4.5 7.3h0m.6-2.3h0m4-6.5h0m3.5 2.1h0m-13.6-3.6h0m-1.2 1.5h0m16.8 .2h0m-12.7 6.4h0m2.5-3.4h0m5.9-6.4h0m-4.9 15.6h0m-1.9-6.6h0m5.8-8h0m-4.4 12.1h0m-6.6-15.6h0m-4.9 18.9h0m4.9-12.7h0m2-2.4h0m-7.6-4.5h0m5.6 20.3h0m-1.1-10h0m-3.3 7.6h0m-.5-3.3h0m4.9-6.2h0m-1.4-3h0m3.9 10.7h0m-.7 1.9h0m-.8 1.1h0m-.9 .8h0m-5.2-15.4h0m9 18.3h0m-5.8-8.7h0m-3.5 2.3h0m.8 5h0m1.2 3.7h0m8.5-19.3h0m-2.6 9h0m-6.8-4.7h0m5.3 11.2h0m-.3-6.4h0m-8.5 10.4h0m4.5-23.6h0m6.4 4.6h0m-4.3-3.5h0m2.4-6.5h0m6.2 15.5h0m-3.3 2.2h0m.4 3.5h0m-7.2-4.1h0m3.3-6.6h0m1.4 .4h0m-6.5 1.4h0m3.8-4.2h0m-2.8 6.8h0m1.7 3.7h0m.7 3.1h0m-.5-10.4h0m-.3 1.5h0m5-7.4h0m-5.9 9.1h0m3.4 1.1h0m-5.9 2.1h0m5.1-4.9h0m.7 4.1h0m-6.9 12.4h0m5.7-16.2h0m-2.1-.4h0m2.4 9.5h0m-.4-.2h0m.4 .5h0m-4.4-12.6h0m3.5-.8h0m5 8h0m-5.5 3.3h0m-3.7-12.3h0m8.9 10h0m-6.5-17.6h0m2.3 12.4h0m.5 2.4h0m-.1-8.7h0m7.3 .5h0m-7.8 5h0m-1.1 .2h0m-.6 5h0m1.3 .5h0m-1.1-3.2h0m1.7 14.4h0m-1.5-3.6h0m4.7-18.4h0m.1-8.2h0m-3.4 21.6h0m7.9-5.6h0m-5.8 3.5h0m-1.1-5.7h0m.5-1.5h0m-1.4 .2h0m-4.9 4h0m-1.9-5.5h0m12.1 8.3h0m-2.9-10.3h0m-2 21.6h0m-3.1-11.4h0m3.4-15.8h0m1 5h0m-1.1 8.4h0m-1.7-.9h0m-.5-2.2h0m1.5 1.3h0m-1-3.6h0m5 5.2h0m-11-1.6h0m6.6 3.7h0m-.3 5.3h0m-.5-9.1h0m6.2-6h0m-5.4-15.7h0m5.4 27.3h0m-3.7-7.8h0m-3.4 6.7h0m5.6-6.8h0m-2.3-1.2h0m-6-2.6h0m3.2 13h0m5.8 .4h0m-6.3-2.8h0m.7 3.4h0m4.7 1.2h0m-2-2.9h0m-2-9.8h0m5.3-10.1h0m6.8 2.9h0m-3.4-9.2h0m11.4-3.8h0m-15.6 1.3h0m7.8 5.6h0m11-4.3h0m-19 8.2h0m14.2-7.3h0m0 5.8h0m-1.4-4.5h0m2 .6h0m-7.5 2.2h0m-2.6-6.6h0m7.5-.7h0m-4-1.5h0m.3 3.7h0m-8.3 3.1h0m11.5 3.3h0m6-5.7h0m-2.1 3.3h0m-3.7 .3h0m1.3-4.8h0m5-1.2h0m-14 4.4h0m-1.7-3h0m11.8 6.7h0m-3.6-.9h0m3.8 3.2h0m.4-9.2h0m-2.3 5h0m-2.9 2.5h0m4.4-8.8h0m-11.2 7.8h0m10.8-.6h0m-5.1-1.2h0m.9 4.2h0m-3.2-5.9h0m11 .3h0m-6.6 .4h0m7.6-4.6h0m-4.1 1.6h0m-5.2-4.8h0m.1 7.3h0m1.7 4.1h0m-6.3 .4h0m8.2-2.3h0m3.2-3.3h0m-2 2.2h0m7-3.7h0m-8.1 6.9h0m-4.1-4h0m-8.4 1.5h0m12.4 3.5h0m-5.2-9.3h0m0 9.2h0m-1.3-7.3h0m1.1-3.4h0m1.6 1.8h0m-1.8 24.9h0m-7.5 10.2h0m11.7-13.5h0m-.6 7.3h0m-1.8 8.8h0m3.1-15.8h0m-9.1-20.7h0m9.7 7.4h0m-12.5 19.5h0m1.9-10.1h0m-3-1.7h0m9.6 16.3h0m-7.9-8.5h0m13.1 8.3h0m-23.8 4.7h0m12.7-16.5h0m-6.8 14.7h0m7.6-8.8h0m8.7-8.4h0m-14.8-4.7h0m13.1 4.7h0m7 1.2h0m-20.8-14.8h0m11.4 19.1h0m-12.8 1.4h0m11.8-1.1h0m6.4-3.3h0m-8.6 1.8h0m11.3 3.5h0m-18.5-10.7h0m6.6 2.5h0m4.4 3.5h0m-14.6 4.1h0m26.6-1.7h0m-14-17.2h0m-14.4 24.9h0m-2-6h0m5.7-2.8h0m-1.6 1.5h0m17.5 14.1h0m-17.4-8.3h0m11.8-3.9h0m-4.8-4.2h0m-3 3.1h0m7.8 4.7h0m7.9-20.9h0m-13.6 28h0m2.1-15.4h0m9.7-28.7h0m2.8 25.9h0m-19.8 13h0m12.4-22.1h0m4.5-1.5h0m-13.6 13.9h0m0 5.6h0m6.7-22.5h0m6.5 23.8h0m5.1-26.6h0m-20.5 28.3h0m-3.4-8h0m29.5-11h0m-.2 19h0m-24.1-1.4h0m-3.1-11.5h0m9.8 7h0m2-15.5h0m-8.2 16.9h0m9.5-23.3h0m-2 32.8h0m4.4-22.9h0m-5.5 25.2h0m-9.1-21.6h0m16 2.3h0m-10.6-3.2h0m-1.2 11.3h0m-3.8-17.4h0m-1.5 23.8h0m4.7-3.8h0m3.3-14.7h0m12.4-25.6h0m-16.9 20.3h0m4.8 12.4h0m6.1-9.3h0m2.6-12.4h0m1.4 4.6h0m-12.9-1.6h0m23.8 3h0m-14.6 6.8h0m-2.5 5h0m4.2 20.1h0m-9.9-12.6h0m14 9.6h0m-8.4-25.2h0m-5.3 9.8h0m9-4h0m-3.9 16.1h0m-15.1-4.9h0m10.3-11.6h0m3.7-3.6h0m-3.6-6.7h0m3.9 5h0m-9.7 24.3h0m10.5-19.3h0m-7-3.7h0m18.2-.3h0m-5.7 2.4h0m-16.5 12.4h0m9.7 3.7h0m.9 5.3h0m-3.1-41.2h0m-13.7 29.9h0m2.4-.5h0m6.5 7.6h0m-1.2 3.7h0m-5.9-4.4h0m6.2 6.6h0m-3.9-17.5h0m2.4 6.8h0m11-6.1h0m.1-10.8h0m-8.9 21.6h0m13.4-15h0m-17.6 3.9h0m2.4-7.1h0m2.1 9.7h0m26-19.3h0m-1.7-1.1h0m-12.1 8h0m1.3-6.7h0m5 2.4h0m-11.5-10h0m17.5-4.7h0m-12.2 10.4h0m-1.5-3.5h0m-.1 2.1h0m-.9 4.1h0m-3.6-13.1h0m2 15.3h0m-2.5-10.8h0m4.9 9.5h0m.1-6.7h0m-7.4 3.7h0m-8.9-4.7h0m17 7.4h0m-11 3.1h0m15.9-7.3h0m1 4.7h0m-.4-10.8h0m4.9 15.1h0m2.5-14.5h0m-18.3 14.4h0m7.4 4.1h0m6.3-7.7h0m-10.1 4.8h0m5.9-14.8h0m-7.4 5.1h0m4.4 .2h0m-1.4-11.5h0m-5.1 13.8h0m1.9-4h0m11.7 1h0m-17.2 2.1h0m12-4.9h0m9 9.6h0m1.7 1.3h0m5.9-5.4h0m-12.6-6.7h0" fill="none" stroke="#111" stroke-opacity="0.82" stroke-width="1" stroke-linecap="square"/>
</g>
<line x1="90.7" y1="220.2" x2="90.7" y2="272.2" stroke="#333" stroke-width="1"/>
<line x1="75.2" y1="244.1" x2="129.6" y2="244.1" stroke="#333" stroke-width="1"/>
<rect x="75.2" y="220.2" width="54.39999999999999" height="52.0" fill="none" stroke="#333" stroke-width="1"/>
<text x="125.8" y="227.5" font-size="8.5" font-family='"Liberation Serif", serif' font-weight="normal" text-anchor="end" fill="#222">3.58</text>
<text x="105.2" y="163.2" font-size="8.3" font-family='"Liberation Serif", serif' font-weight="bold" text-anchor="middle" fill="#111">DCs</text>
<g clip-path="url(#c02)">
<ellipse cx="156" cy="202" rx="5" ry="9" transform="rotate(5 156 202)" fill="#111" fill-opacity="0.8" filter="url(#bl)"/>
<path d="M158.7 189.3h0m-.7 15.9h0m4.6-5.8h0m1.9 2.1h0m-15.7 7h0m6.9-17.1h0m2.5 9.3h0m-2 12h0m-1.2 1.1h0m-2.5-6.5h0m4.3-2.9h0m1.6-3.8h0m-5 16.3h0m9.7-19.5h0m-.6 10.9h0m-4.6-8.2h0m-9 1.9h0m13.9 1.2h0m-12.8-7.9h0m5.5 7.5h0m-.1-3.4h0m.6 9.9h0m3.9-10h0m.4 8h0m-2.5-11.2h0m2.9 9.2h0m-4.9 1.5h0m3.5-2.9h0m3.4-8.3h0m-9.7 16.4h0m1.1 .7h0m1.4-9.9h0m-1.9-11.3h0m5.1 8.2h0m-6.7-10.3h0m.6 6.2h0m4.3-2.1h0m3.5 14.6h0m-10.4 1.6h0m11.3-17.5h0m-1.1 13.3h0m1.5-12.2h0m-9.3 16.5h0m-2.2-11.1h0m1.8-5.2h0m8.8 14.1h0m0-8.3h0m-9.1 9h0m3.8 1.4h0m2.8-15.5h0m-4.7 15h0m1.3-10.8h0m1.4 11.4h0m-6.3-10.9h0m-.9-6h0m7.8-8.5h0m3.9 13.9h0m-6.4-.7h0m6.2 8.2h0m-.1 3.4h0m-8.2 5.8h0m13.9-6.4h0m-8.6-9.9h0m-7.5-1.4h0m0 .6h0m10.3-6.8h0m-9.9 17.6h0m9.7 3.4h0m-2.8 2h0m-4.9-20.2h0m5.3-.8h0m-7.2 12.9h0m7.3-8.1h0m-8.2 11.5h0m4.1 4.3h0m4.9-1.3h0m4-14.7h0m-11.7-2.9h0m-.7 14.8h0m10.4-10.4h0m-9 12.2h0m4.5 2h0m1.8 2.1h0m-1.2-5h0m-6.8-8.1h0m13.7 1.4h0m-2.8-10.4h0m-1.8 9.2h0m2.2-7.1h0m.2 7h0m-8.6 8.5h0m-3-14.2h0m.4 10.4h0m-.2-11.5h0m7.6 13.1h0m-6.2-17.9h0m5.3 7h0m6.2 2.6h0m.9-3.1h0m-11.2-2.9h0m4.5 1.4h0m5.9-.4h0m-9.5-1.6h0m12 12.1h0m-12-4h0m-1.7 10.6h0m6.3-7.7h0m-1.8-.4h0m2.9-10.3h0m-10.7 3h0m13 7.2h0m-1.8-7.6h0m-2.4 8.7h0m-3.4 9.4h0m5.9-21.1h0m7.8 4.4h0m-17.2-2.5h0m.7 2.8h0m5.2 .9h0m-1.5 12.8h0m2.2-23.8h0m-5 14.4h0m4.7 9.7h0m-8-7.4h0m4.8 2.3h0m10.2 .2h0m-8.6-13.6h0m-9.9 10.7h0m12.5-1.3h0m-.9 5.6h0m-1.9-4.6h0m8.5-1.3h0m-7-4.3h0m4.7 11.1h0m-12.3-13.5h0m3.3 .1h0m-.3 3h0m4.7 2.2h0m-.2-4.5h0m-4.6-6.1h0m3.4 24h0m-5.5-6.1h0m5.4-.6h0m.1-17.3h0m5.7 8.1h0m-.1-.4h0m1.6-3.8h0m1.4 9.1h0m-11 1.2h0m2.3 5.6h0m-2.9 5.9h0m10-6.5h0m.3-13.3h0m-16.2 3.7h0m5.9-6.1h0m9.6-1.1h0m-13.1 8.7h0m8.8 12.5h0m-8.8-12.7h0m3.4-4.5h0m.2 5.3h0m4-7.1h0m2 2.1h0m-3.8 5h0m-4.1 .7h0m10.5-6.1h0m-4.1-4.8h0m-.5 5.6h0m2.6 14.9h0m-2.7-1.2h0m-.3-.9h0m.5-20.4h0m-4.5 10.1h0m10.8 2.6h0m-5.5 7.3h0m3.5-13.9h0m1.7-1.8h0m-4.5 21.7h0m-4.4-20.9h0m4.3 3.4h0m-2.2 3.2h0m-2.1-2.4h0m7.3 9.9h0m0 .4h0m-.1-10.8h0m2.2 6.8h0m-3.5-9.8h0m-3.8 10.9h0m10.3-5.5h0m-11.6 4.9h0m-.5-10.3h0m-4.2 8.4h0m1.1 3.3h0m1.2-4.8h0m11.7 .5h0m-7.4-7.6h0m1.9 9.5h0m4.6-10.8h0m-10.8-.1h0m4.1 15.3h0m-2.3 .7h0m4.9-17.8h0m-5.8 3.2h0m8.7 14.8h0m-2.6-14.2h0m-.9 10.3h0m3.3-6.6h0m-3.2 8.2h0m-2.7-4h0m-6-6.5h0m8.9-5.6h0m5.5 6.6h0m-9.1-.4h0m-.1 15.3h0m-.6-10.7h0m-2 6.1h0m7.8-3.5h0m.3-7.4h0m-10 11.1h0m11.2-3.3h0m-3-5.6h0m-9.2-2.2h0m7 12.8h0m3.8-7.4h0m-6.5 2.9h0m-3.8-9.3h0m12.7 6h0m-11.5 2h0m2.3 11.6h0m2.1-21.3h0m1.7 6.2h0m1.1-13h0m-.5 7.6h0m-.6 2.4h0m-4.9-.1h0m4 2.4h0m-3.2 2.9h0m4.1-11.1h0m-11.8 7.5h0m5.9 11.1h0m6.4 1.7h0m-5.4-1.7h0m-.8-9.4h0m4-7h0m-2.6 .7h0m3.3 13.5h0m-7-7.6h0m4.3-2.1h0m4.2-7.7h0m7.4 13.6h0m-12.6-2.6h0m.2-2.3h0m8.1 2.9h0m-8.9 7.5h0m6.2-21.9h0m2.1 18.1h0m-3.1 3.6h0m-4.6 3.5h0m9.2-15.3h0m-6.2 3h0m6.8 1.3h0m-8.3-.4h0m4.2 3.3h0m3.2-9.5h0m-2.5 12.9h0m-4.9 2.3h0m7.4-17.5h0m1.3-.5h0m-4.2 5h0m1.4 4.5h0m2.3 5.6h0m.8-6.4h0m-3.8 9h0m4-15h0m-2.9-3.7h0m-7.5 13.5h0m7.9-9.8h0m-7.2-4.3h0m3.8 1.8h0m-2.8 19.5h0m1.7-21.7h0m-6.5 15.4h0m.3-5.8h0m4.1-4.6h0m4.6 16.3h0m.4-4.6h0m4.8-9.7h0m-11.7-6.9h0m11.8 6h0m-9.1-3.9h0m-5.2 3.3h0m9.4-1.9h0m-6.7-2.4h0m6.6 3.7h0m-2.2 3.4h0m2.2 3.7h0m-1 10.2h0m-.1-14.1h0m-.1-2.4h0m5 7.5h0m-7.9-11.5h0m-.8 18.1h0m-.8 1.4h0m6.1-.7h0m1.3-7.6h0m-3.7-11.7h0m5.8 5.9h0m-2.1 10.2h0m-4.1-15h0m-4.1 6.6h0m5.4 12.7h0m3.3-23.5h0m-7.4 .1h0m9.5 4.8h0m-3 1.1h0m-9.3 15.3h0m3.6-6.5h0m6.6-18.7h0m-11.1 22.5h0m2.5-1.4h0m-2.6 1.3h0m12.1-3.6h0m-.6-7.3h0m.2 8.4h0m-5.1 6.4h0m-2-18.7h0m-3.7 20h0m5.8-1.7h0m-5.3-10.3h0m4.2 6.2h0m-6.5-7h0m8.7 7.6h0m.2-8.4h0m-4.9 10.1h0m2.9 3.9h0m5.2-12.3h0m-9.8-8.7h0m4.1 .3h0m7.8 5.2h0m-3.5 15.9h0m-4-3.5h0m4.5-12.5h0m-1.6-3.9h0m-6.8 6.3h0m7.3-2.1h0m-11.3 6.1h0m18.2 2h0m-13.5-5.3h0m-3.8-3.9h0m6.7 15.9h0m-5.6-5.8h0m4.6-.6h0m-4.1-5.8h0m3 12.7h0m-3.5-13.4h0m4.8 1.4h0m1.6-6.5h0m6.8 1.4h0m-5.7-2.7h0m-6.3 10.4h0m9.9 7h0m-8.5-15.7h0m13.6 5.2h0m-10.9 8.3h0m2.1-10.9h0m-3.4 12.9h0m5-13h0m-3.1 12.3h0m-4.9-2.3h0m4.4 2h0m1.1-21.8h0m2.2 6.2h0m-.2 1.3h0m-4.4-4.9h0m1.7 21.5h0m-.9-20h0m8.3-7.1h0m-11.7 25.1h0m5.9-3.5h0m.9-8h0m-3.3-7.9h0m11.6 15h0m-15.8-8.5h0m8.6-4.1h0m3.7 18.7h0m-5.2-9.7h0m-1 4.3h0m-6.1-.5h0m7.8-4.6h0m4.4-6.3h0m-5.9 11.9h0m-6.2-12.4h0m9.9 16.3h0m1.1-23.7h0m-2 18.7h0m-12.7-5.5h0m12.9-.2h0m-4-.9h0m-2.5-1.5h0m7.4-.7h0m-4.1 11.4h0m2.2-1.7h0m1.2-7.8h0m-1.9 4.2h0m-3.9 1.1h0m6.3-5.3h0m-4.9 13.1h0m.4-23h0m4.8 17.4h0m-.3-10h0m-3.4-2.7h0m-2.6 11.4h0m-3.4 5.1h0m3.2-15.7h0m7.8-1.4h0m-1.7-3.2h0m-.2 14.2h0m-6.8 8.2h0m1.2-9.5h0m2.9-14.1h0m.6 5.2h0m-4.3 11.8h0m7.4-11.5h0m2.5 12.4h0m-14.1-1h0m4.7-9.6h0m-.3 8h0m2-7.7h0m1.6 16.9h0m-5-5.1h0m6.1 4.4h0m4.9-7.9h0m-9.8-3.1h0m6.9 0h0m-6.6-4.4h0m-1.4 14.1h0m7-4h0m.4-16.9h0m-2 5h0m4.7 5.6h0m-8.8 9.4h0m3.4-2.2h0m1.9-19.7h0m-11.9 12.8h0m2.6 3.7h0m3.1-5.4h0m2.1 5.9h0m3.5-7.9h0m-5.4-6.2h0m-4 17.9h0m12.1-5.2h0m-6.4-9.4h0m-6.3 9.1h0m9.1 8h0m.4-19h0m-1.3 12.5h0m-12.4-.9h0m17.5 3.1h0m-11.4-14h0m10.3 5.1h0m-4.8-1.2h0m-4.9 4.2h0m2.5 1.5h0m-2.1-1.1h0m3.6 1.9h0m-2.3 2.5h0m7-6.3h0m-7.2 12.3h0m-3.3-1.9h0m6.5 1.7h0m-4.8-22.1h0m.6 18.5h0m5 .1h0m-1.2-11.1h0m4.7-2.8h0m-2.3-2.7h0m-1 14h0m-1.2-12.5h0m.1 .6h0m4.4 12.1h0m-8.4 1.9h0m2.4-7.8h0m.1 15h0m2.4-8.2h0m5.4-.7h0m-.8-7.4h0m-6.4 9.3h0m3.9-10.8h0m2.3 2.8h0m5.8 .3h0m-6.4-8.6h0m-7.7 20.1h0m.4-7.5h0m-1.1-9.9h0m7.7 10.2h0m-7.7-3.7h0m8.8 11.3h0m2.6-15.5h0m-2.7 6.1h0m-2.6-8.1h0m-2.7-3.3h0m7.4 11.2h0m-14.4-1.1h0m6.6 4.4h0m9.2-6.1h0m-9.1-10.8h0m-6.3 15.1h0m8.6-2.2h0m-5.2 6.1h0m-2.8-.2h0m9.2-1.3h0m-2.5-15.8h0m1.3 20.7h0m-.2-16.2h0m5.3 16.3h0m-7.5-11.4h0m.4-10.5h0m-4.2 13.5h0m2.8-13.8h0m7.9 15.2h0m.1-12.7h0m-12.1 2.4h0m9.4 .6h0m5.8 6.2h0m-11.8 12.5h0m.4-5.4h0m-2.7-2.1h0m9.4-8.4h0m-3.5 8.1h0m-8.9-4.5h0m6-10.1h0m.8 8.6h0m.2 14.4h0m-.3-6h0m-5-13.1h0m7 4.5h0m-3.7 7.5h0m-.6 5.7h0m8.1-12.1h0m-9.2 2.3h0m4.7 3.5h0m-2.1-10h0m2.8 2.1h0m3.2-1.2h0m-10.1 9.2h0m5.2-17.5h0m4.7 16.3h0m-7.7-15.5h0m3.5 20.5h0m-.7-23.8h0m11.1 5.1h0m-7.6 10.3h0m-1.6 10.6h0m.3-14.7h0m-7.6 11.1h0m15.7-9.5h0m-5.4-8.6h0m2.6 9h0m-.9 1.7h0m-4.4-16.5h0m5.8 14.2h0m-8.3-9.9h0m4.2 23.7h0m1.4-15.6h0m-9.3-3.9h0m3.6 18.5h0m3.4-18.7h0m-6.2 7.8h0m12.4-4.8h0m-11.2 3.3h0m5.2 11h0m3.3-19.7h0m2.6 10.2h0m-10.7-8.9h0m-.7 17.5h0m9.3-12.6h0m-5.4 4.3h0m5.4-8.7h0m-8.7 7h0m7 9.3h0m-4.1-11.7h0m-.4 16.8h0m-2.5-17.4h0m8.2 12.5h0m-3.5-14.1h0m7.8 11.1h0m-9.7-7.5h0m-3.4 .9h0m-2.5 1.5h0m-16.8 5.3h0m9.9-5.2h0m.9-6.2h0m1.7 3.1h0m-1 6.1h0m4.1-.7h0m6.8 1.8h0m-7.8 1.3h0m-2.5 2.9h0m1-15.1h0m-2.8 18.5h0m-4.5 1.8h0m7.1-9.8h0m4.7-.2h0m-7.1-15.9h0m-.6 6.7h0m5.4 8.3h0m-6.7 7.1h0m5-15.8h0m-.7 13.1h0m3.2-13.7h0m-1.7 13.1h0m-.3-15.1h0m-3.5 9.9h0m.9 6.8h0m-.6-18.1h0m-7.2 15.2h0m5.4-3.4h0m7.9-3.2h0m-4.7-6h0m-4.8 13.4h0m9.7-8.2h0m-5.5 6.5h0m-1.1-1.7h0m.2 3.5h0m-.5-7.1h0m-3.5-2h0m-.5 4.2h0m10.2-7.6h0m-7.6 3.4h0m5.4 3.1h0m-3.2-4.3h0m.2 4h0m-2.2 11.6h0m5.3-10.3h0m.5-2.5h0m-2.6 11.1h0m2-9.4h0m-1.5-5.6h0m-1.7 4.7h0m.3 11.7h0m1.1-1.3h0m-.1-17.6h0m4.9 6.3h0m-5.4 10.9h0m6.2-6.2h0m-.6-4.4h0m-2.5-2.7h0m1.4 2.3h0m-1.4-4.2h0m3.2 18.7h0m-6.9-10.4h0m-2.8-1.7h0m-2 6.1h0m5.6 2.9h0m.3-9.2h0m-3.4 5.7h0m2.9-12.1h0m-5.6 14.2h0m5.6-6.7h0m-1.8-3.1h0m2.2 4.8h0m3.8-13.9h0m-3.5 20h0m-2.9-16.4h0m4.8 4.9h0m-2.2 15h0m.1-2.1h0m-3.2-20.8h0m1.6 9.4h0m4.3 5.5h0m-10.8-10.3h0m6.3 2.6h0m-.9 2.6h0m3.3-7.7h0m-4.4 3.9h0m8.6 4.9h0m-10.8 4.3h0m9.7-13.8h0m-8.7 13.6h0m5.1 1h0m6.3 .4h0m-2.4-7.6h0m1.6-1.4h0m-4.3-8.7h0m-3 18.5h0m-2.1-8.3h0m-5 .8h0m3.4 2.7h0m3.4-4.9h0m.6 1.8h0m1.3 1h0m4.6 8.7h0m-14.7 1.9h0m9.2-6.6h0m-2.7 1.7h0m5.9-7.7h0m-6.8 7.1h0m6.3-9.3h0m-10.4-1.4h0m10.2 15.7h0m-5.5-12.1h0m-.5 6h0m1.2 8.8h0m5.6-12.4h0m-4 8h0m0-9.2h0m2 9.5h0m5.3-9.2h0m-10.6-3.7h0m4.2 10.1h0m-9.8 .1h0m12.1-2.9h0m-7.6-.7h0m3.9-6.8h0m4.5 14.3h0m-1.7-4.3h0m3.3-3.6h0m-5.7 9.5h0m-.8-11.7h0m3.8-.7h0m-5.2 9.8h0m3.8-11.6h0m-2.2 8.4h0m5.5-2.6h0m1.4-1.3h0m1.7 5.9h0m-10.9-6.5h0m21.1-21.8h0m-7.1-.6h0m8.4-7h0m-8 2.5h0m9.4 6.3h0m-5.5 2.9h0m.1-5.1h0m-1.2 4.4h0m-1.5-3.6h0m.3-1.5h0m10.2-.1h0m-4.7 2.6h0m-2.1 1.5h0m-.6-.5h0m10.4-1.6h0m-16.2 .3h0m4.1 8.8h0m-2-7.9h0m2.9-5.3h0m.5-1.6h0m-2.7 1.5h0m2.8 3.4h0m6.5-2.3h0m-4.2-1.8h0m4.3 1.8h0m-5.7-1.9h0m7.4 1.1h0m-11.8-1h0m4.7-.7h0m6 4.8h0m-15.5-5.3h0m4.5-.4h0m4.3 .7h0m-.7 2.4h0m-1.4 15.2h0m.3-16.1h0m3.8 13.5h0m2.5-9.4h0m4.5 4h0m-2-4.4h0m-15 3.2h0m6.5-9.9h0m4.4 2.7h0m.4 5.6h0m-2.7-4.7h0m3.6 12.2h0m4.1-12.7h0m-.6 7.4h0m-.6 2.1h0m-6.4-14.8h0m-5.9 12.7h0m.1 2.4h0m-1.7-6.2h0m9.5-6.6h0m.2 5.5h0m.5-8.9h0m-6.2 4.8h0m4.2 1h0m9.1 6.6h0m-8.5-3.6h0m3 6.3h0m3.1-9.9h0m-6.7 4.3h0m3.3-1.3h0m-1.6-2.4h0m-5.1 4.8h0m1.8-5.6h0m-.7 6h0m5.6-5.5h0m-3.8-1.8h0m-10 14.5h0m13.6-2.7h0m-7.2-2.5h0m7.6 5.6h0m.9-11.6h0m4 11.3h0m-6.1-5.1h0m-.7-4.4h0m-14 5.3h0m22.3 3.4h0m-7.7-6.3h0m.6-.5h0m-5.4 1.7h0m-9.1 0h0m7.8-1h0m2.4 6.8h0m10.9-10.6h0m-15.1 .9h0m-4 .5h0m9.8-3h0m4.7 1.4h0m-9.1 .7h0m7.7 2.6h0m-6.3-.8h0m4.1-9.2h0m1.1 13.1h0m1.6-1.2h0m.8-9.3h0m-7.9-5.1h0m9.1 10.9h0m-1.6 5.4h0m-7.1-6.2h0m-.8-2.3h0m2.8 7.4h0m.9-11.8h0m6.5 5.6h0m-1.1-2.8h0m-6.4-5.6h0m2.1 14.2h0m8.2 11.6h0m-5.4-23.8h0m-6.5 9.5h0m3 .8h0m-5.4-5h0m13.8 5.1h0m-9.1-7.8h0m-6 10.2h0m8.1-5.5h0m-6.1 4.3h0m2.4-7.6h0m4.8-7.3h0m3.1 10.9h0m-3.5 2.7h0m2.3-1.8h0m4.4 8h0m-11.8-6.8h0m-25.4 8.7h0m.3 10h0m42.6-3.2h0m-36.7-13.1h0m18.6 20.8h0m-5.9 11h0m9.9-2h0m-1.8-12.2h0m-2.8-1.6h0m2.5 15.7h0m-22-18.6h0m1.5-2h0m17.6 4.8h0m1.1 6.1h0m.5-12.5h0m-5.6-7.2h0m-3.3 12h0m8.3-19.3h0m7.3 15.8h0m-26.8 5.5h0m21.5-2.3h0m-10-9h0m6.4 10.6h0m.8-6.5h0m9.3-18.8h0m-12.4 5.1h0m-19.5 25.6h0m28-12.1h0m-3.9 2.2h0m7.1-6.5h0m-6.2 12.2h0m-21.3 14.8h0m10-29.2h0m-.7 23.3h0m2.5-1.5h0m-5.4-4.7h0m-7.9-4.5h0m30.4-10h0m-11.2-12.3h0m14.9 14.8h0m-12.2 1.1h0m-14.9 4h0m7.1-9.7h0m1.7 .3h0m-3.4-20.6h0m-4.8 37.5h0m12-9.3h0m1.3 3.8h0m-4.4 3.6h0m7.3-31.3h0m14.6 33.1h0m-16.3-14.1h0m-5.9-.4h0m14.5-2.6h0m-29.5 12.4h0m7.6 3h0m10-14.4h0m-16.8 9.9h0m2.4 1h0m14.7-5.8h0m-.2-.1h0m-12.4 20.5h0m-1.4-5.4h0m10-9.6h0m-11.8-1.9h0m12.5-22.8h0m1.7 19h0m-3.7-11.4h0m14.9 12.3h0m-22.7-3.3h0m14.2 .4h0m4.1-9h0m-4.5 20.6h0m2.6-15.2h0m-14.6-.2h0m10.4-13.2h0m26.7 14.2h0m-15.7 3.2h0m1.1 .4h0m-3 15.2h0m-7.2-24.1h0m1.3 15.8h0m-7.2-2.7h0m9.9-23.4h0m-1.4 42.3h0m-12.1-1.5h0m2.1-17.8h0m1.1 2.8h0m-4.1-5.5h0m5.3-5h0m1.6 21.7h0m-7.6-7.5h0m.7-15.6h0m7.4 8.2h0m9.9 8.8h0m-8.9-13.2h0m12.5-10.6h0m-20.9 28.2h0m11.5-4h0m-6.2 2.7h0m13.7-33.4h0m-6.3 34.4h0m-15.4-18.1h0m13.8 14.5h0m-3.8-24.7h0m2.2 16.8h0m-5.7 14.2h0m-17.3-6.3h0m15 1.8h0m7.7-14.5h0m-17.7 7.3h0m15.5 17.1h0m4.1-16.7h0m-12.6 3.3h0m-.5-18.1h0m13.8 7.5h0m-17.5 22.2h0m25.1-13.9h0m-28.1-7.7h0m6.6 10.7h0m8.4-14.4h0m-12.5 4.3h0m15.3 1.8h0m3.3 7.9h0m-16.1 7.4h0m11.4 6h0m-1.6-21.8h0m.1 17.9h0m6.3-2.1h0m5-10.8h0m12.7-7.7h0m-25 19.6h0m-9.1-6.8h0m21.1-18.8h0m-28.3 .9h0m9.8-1.1h0m16.1 18.6h0m-14.5 3.3h0m-.1-1h0m12.1-34.7h0m2.1 8.1h0m5.3-4.6h0m4-5.1h0m-19.7 10.6h0m12.4-3h0m-2.1 2.7h0m4.7 4.1h0m-8-12.7h0m5.6 4.8h0m-1.2-9.1h0m4.6 18.5h0m-.1-2.2h0m1.6-4.6h0m-1.3 4h0m.4-2.1h0m-3.6-6.8h0m2.9 1.7h0m9.7 8.3h0m-1.7-4.5h0m-17.7-3.8h0m-.8 3.9h0m8.2-1.1h0m-12.9-8.1h0m-2.3 14.1h0m18.5-6.5h0m-5.9-9h0m-.1 6.7h0m-3.2 6.9h0m-8.2-4.1h0m19.5 3.1h0m3.9 3h0m-10.6-8.2h0m3.5 6.6h0m-1.5-6.9h0m.6 3.5h0m12.6-1.7h0m-20.4 9.2h0m16.6-2.1h0m-16.7-10.1h0m-3 2.3h0m18.6 5.2h0m-8.8-3.4h0m3-1.9h0m-10.6-2.7h0m-.6 6.2h0m5.5-4.4h0" fill="none" stroke="#111" stroke-opacity="0.82" stroke-width="1" stroke-linecap="square"/>
</g>
<line x1="151.5" y1="165.6" x2="151.5" y2="217.6" stroke="#333" stroke-width="1"/>
<line x1="131.3" y1="188.6" x2="185.9" y2="188.6" stroke="#333" stroke-width="1"/>
<rect x="131.3" y="165.6" width="54.599999999999994" height="52.0" fill="none" stroke="#333" stroke-width="1"/>
<text x="181.1" y="172.9" font-size="8.5" font-family='"Liberation Serif", serif' font-weight="normal" text-anchor="end" fill="#222">6.06</text>
<g clip-path="url(#c12)">
<ellipse cx="151" cy="251.5" rx="6" ry="9.5" transform="rotate(20 151 251.5)" fill="#111" fill-opacity="0.92" filter="url(#bl)"/>
<path d="M153.4 249.4h0m-.7-6.7h0m-2.8 10.6h0m-4.8 6.1h0m-1.2-14.2h0m17.3-1.9h0m-14.4 16.9h0m16.2-5.6h0m-13.6 1.3h0m-3.8 1.9h0m7.9 7.5h0m-8.4-15.2h0m8.2-5.7h0m-4.3 11.7h0m-4.5 .6h0m12.3-10.8h0m-2.7 5h0m2.3 9.5h0m-2.8-3.8h0m-9.3 3.4h0m3.1 2.9h0m10.4-8.3h0m-14-3.8h0m18.5-7.1h0m-6.1 9.1h0m-5.2-5.1h0m-.8 3.8h0m-1.5 .8h0m-2.2-4.7h0m4.3-6.9h0m7 .9h0m-4.3 14.2h0m2.5-10.4h0m-9.2 11.1h0m6.6-15.3h0m-3.9 25.3h0m-2-3.2h0m7.4 3.1h0m-7.7-23.1h0m10 5.9h0m-9.8 7.7h0m2.2-12.8h0m6.2 15.2h0m.9-4.4h0m2 2.6h0m-11.7 1.7h0m8.1-14.3h0m6.4-.4h0m-9.6 3.8h0m-2.2 5.6h0m8.9-7.3h0m-8.3 12.8h0m-.9-.2h0m-.8-5.5h0m9.9 4.1h0m-3.1-14.6h0m-7.7 14.4h0m-.8-12.7h0m6.6 6.6h0m4.5-5.8h0m2.8 2.3h0m-13.9 2.1h0m1.1 11.2h0m10.4-16.8h0m-6.4 16h0m6.5-3.5h0m-4-15.3h0m-3.2 1.8h0m5.6 7.2h0m-10 .9h0m11 3h0m-3.2 0h0m-15.4 2.9h0m20.5-4.3h0m-13.7 2.4h0m10.4-14.8h0m-8.4 21.8h0m.3-23h0m-6.1 10.2h0m10.9-5.4h0m5.1 16.3h0m-3.2-24.3h0m-10.7 23.2h0m11.6 .9h0m-1.9-16.7h0m-14.5 12.3h0m2.4-2.7h0m9.4 4.1h0m7.6-9h0m2.8 2.1h0m-16.9 6.6h0m8-5.4h0m2.3-7.6h0m-1.2 4.4h0m.6 10.5h0m-5.3 .8h0m-4.2-12.9h0m10.1 3.2h0m-10 7.5h0m11 1.2h0m-10-7.7h0m3 2.9h0m2.1-10.7h0m-5.3 9.5h0m8 7.4h0m-8.3-6h0m5.6-15.1h0m1.7 8.7h0m5.8 5.9h0m.3-.2h0m-10.6-7.3h0m3.8 7.4h0m-.5 7.1h0m11.1-8.8h0m-18.3 8.5h0m-1.6-7.6h0m8.9-11.5h0m-3.8 17.6h0m11.3-13.3h0m-12.8 12.1h0m-.3 5.1h0m7.4-5.9h0m-10.7-11h0m13.8 5h0m-9.7 6.8h0m-3.9-6h0m11.6 9.9h0m-.5-2.3h0m-1.7-12.9h0m3.4 9.2h0m-14.3-4.6h0m11.5 10.5h0m-5.4-15.7h0m1.1 5h0m6.9-.8h0m1.1-7.8h0m-2.3-.7h0m.8 12.5h0m-15.4 .9h0m16.6-1.1h0m-3.9 9.9h0m-3.8-.1h0m11.5-15.1h0m-16.7 .4h0m11.2 0h0m1.2-6.2h0m-3.8-4.9h0m1.1 4h0m-2.9 9.9h0m2.7 11.1h0m2.5-17.5h0m2.2 15.1h0m.6-9.2h0m-5.4-9h0m-3.2 2.4h0m-3.6 7.1h0m11.8-10h0m1.6 3h0m-4.2 9h0m-13.2-4.2h0m20.5 .2h0m-11.2-9.4h0m-2 12.3h0m-7.7 5.4h0m16.5-7.7h0m-14.5-8.2h0m2.7 9.6h0m6.8-11.3h0m-5.4 9.4h0m1.4-4.1h0m4.6 13.6h0m-9.6 .9h0m4.9-12.5h0m1.5 12.9h0m-2.7-12.1h0m11.1-4.5h0m-6.1 13.7h0m.2-7.3h0m-.8-.3h0m7.3 3.4h0m-1.5 1.3h0m-6.7-13.4h0m-12.2 13.6h0m1.6 .2h0m15.6-10.8h0m-9.7 12.5h0m7.9-15.1h0m-7.6 12.1h0m7.5 1.5h0m-2.6-14.9h0m-2 8.5h0m4.8 .7h0m-8.6-3.5h0m2.4 7.5h0m-3-3.9h0m-.7 1.5h0m5.8-6.8h0m2.8 1.8h0m-2.3 10.9h0m-2.1-6.4h0m6.7 8.1h0m-10-2.8h0m12.3-1.6h0m-7.2-8.8h0m-8.4-2.6h0m18.3 2.6h0m-8.6 15.5h0m2.6-12.8h0m6.1-.3h0m-14.2 11.4h0m10.1-12.2h0m-6.1 2h0m-4.2-4h0m15.9 1.5h0m-6.1 13h0m-1.9-1h0m2.9-5.1h0m-14.2-1.3h0m8.6-8.7h0m-1.3 2.5h0m-.2 5.1h0m2.1-1.2h0m-9.8 8.6h0m13.1-1.7h0m-6.7-3.2h0m-.6-2.5h0m5 .3h0m4.5 5.6h0m-14.1-6.6h0m10.5-.7h0m7.5-1.8h0m-4.6-.8h0m-.3 4.4h0m1.7 3.7h0m-13.9-1h0m-.5 5.8h0m16.2-12.2h0m-5.2 2.8h0m-5.9 2.2h0m-3 4.1h0m-3.1-7h0m4.1 9.1h0m14.4-13.1h0m-17.4 2.4h0m15.6 1.2h0m-4.3 5.1h0m-2.5-8.9h0m-4.5 9.5h0m1.9-2.3h0m-1.4-.6h0m-.4-11h0m1.3 10.1h0m-7 4.8h0m6.5-10.7h0m-2.3 6h0m6.9-11.4h0m-2 2.3h0m-5.2 15h0m3.2 3.1h0m6.2-4h0m-.2-16.1h0m-8.8 20.3h0m14-3.8h0m-3.2-8.7h0m1 2h0m-8.9 10.7h0m2 1.9h0m-7-24.4h0m8 11.2h0m2.2-3.4h0m-10.7 2.3h0m9.1 6.7h0m5.4-9.7h0m-4.7 5.1h0m1.3 .1h0m-14.7 11.6h0m11.1-16.2h0m3.1-4.2h0m-8.8 13.7h0m-2.6 3.9h0m4.9-7.4h0m4.3 7.1h0m3.6-14.1h0m-7.8 10.4h0m4.3 5.7h0m4.9-14.2h0m-6.7 5.3h0m1.8 3.9h0m6.2 1.5h0m-10.9-6.4h0m-.7-3h0m6.6 2.2h0m-1.5 9.3h0m.8-2.8h0m-7.4-11.5h0m3.2 17.5h0m-.5-14.6h0m4.3 6.8h0m3.4-4.3h0m-6.6-3.3h0m9.8 4.2h0m-4.1-9.8h0m-5.1 12.3h0m2.2 4h0m1.2-14.6h0m-9 18.4h0m11.9-20.9h0m-.4 11.4h0m-15.8-.5h0m2.9-2.3h0m1.7 11.2h0m12.9-20.2h0m-9.4 13.2h0m-5.6 3.3h0m15.6-2.1h0m-1.3-4.5h0m-.5 6.5h0m-4.8 3.1h0m5-14.1h0m-.8 18.3h0m-2-21.8h0m1.9 8.5h0m-6.1-.6h0m2.4-7.3h0m2 7.3h0m-3.7-10.2h0m2.9 24.3h0m-4.7-14.2h0m.5 13.1h0m-2.1-17.3h0m-3.9 3h0m7.7 4h0m1 2.9h0m-6.3-11.1h0m-1.2 2.6h0m10.7 7.3h0m4.1-3.6h0m-13.8 1.4h0m7.2-2.6h0m-3.5-6.2h0m-2.9 14.9h0m10.5-12.1h0m.1 11.7h0m.1-2.9h0m-6.2-6.5h0m-5.1 8.7h0m-1-10.4h0m2.2-1.2h0m15.7 7.2h0m-7.8-1.3h0m-5.2 11.9h0m-3-.2h0m3.7-25.7h0m12.6 7.3h0m-12.1 13.8h0m.3-12.1h0m-7 1.5h0m9.2 4.8h0m0 6.4h0m-6.6-14.8h0m10.5 13.5h0m-5.3-15.8h0m-.9 .7h0m-6.9 17.5h0m8.7-12.3h0m-6-7.1h0m12.8-1.7h0m-16.9 22.6h0m13.9-12.3h0m-14.9 6.7h0m16.9-16.7h0m-12.9 7.8h0m4.9-9.3h0m1.2 16.7h0m-1.9-2.7h0m2.6-2.7h0m-7.2 3.6h0m4.3-5.8h0m-4.5-6.8h0m4.6-2.3h0m4.4 11.7h0m4.1-2.3h0m-9.3-3.3h0m3.2 4.3h0m4 3.4h0m3.3-3.6h0m-12.4 11.3h0m-1.8-19h0m9.9 18.7h0m2.5-6.6h0m-9.1 1.9h0m1.8-14.8h0m2.6 22.1h0m5.2-16.2h0m-8.4-4.6h0m-1.7 10h0m.9-7.4h0m-.4 2h0m0 7.4h0m9.6 9.2h0m-7.3-8.9h0m4.1-6.7h0m-8.2 6h0m8-3.2h0m2.1 12.4h0m-9.1-1.9h0m4.5-.7h0m2.1-6.9h0m-2.6 4.3h0m-3-7h0m1.6-5.9h0m9.6 6.1h0m-3.5-6.6h0m-10.7 14.1h0m4.2-9.8h0m-1.3 14.3h0m2.4-15.4h0m-3.2 16.6h0m-3.9-9.3h0m3.7 6.6h0m-.1-8.3h0m-.8 6.3h0m11.4-1.6h0m-8.6 1.5h0m2-8.9h0m-3.4 11.3h0m11.2-4.5h0m-18.7-.7h0m12.5-9.8h0m-7.7 11.5h0m.5-11.5h0m9.9-4.3h0m-1.7 1.3h0m1.8 13.8h0m1.3-17.1h0m-10.2 7.1h0m13.4 10h0m-15.5-9.3h0m14.5 3.2h0m-1.7-7.1h0m-3.2 13.3h0m3.1 1.6h0m-10.7-1.1h0m1 3.9h0m2.3-4.4h0m-8-7.3h0m7.3-1.6h0m3.3-7.1h0m-.8 17.2h0m3.8-13h0m-14.9 11.5h0m9-4.8h0m-3.8-3.9h0m4.2 3.9h0m1.9 3h0m.9 3.1h0m12.6-13.8h0m-10.9-3h0m-4.3 7.5h0m7.5-12.1h0m-6.5 20.6h0m-2.1 1.6h0m-11.7 4.9h0m20.8-15.3h0m-1.2 5.9h0m-3.8-3.8h0m-3.9 16.5h0m1.7-23.2h0m-.3 9.1h0m-1.3 13.3h0m7.2-23.5h0m-4 11.2h0m-1.9-4.8h0m-4.3 4.7h0m-4.3 6.6h0m7.1-5.5h0m1-9.7h0m-.2-1.4h0m7 11.5h0m-11.3-1.6h0m12.9-2h0m-6 3.6h0m4.6-5.4h0m-11.5 7.5h0m5.8-12.9h0m-10.6 11.9h0m7.1-2.6h0m10.2 2.4h0m-15.1-1h0m8.3 2.5h0m-7-8.7h0m-5.7 10.7h0m9.3-4h0m-3.1-1.8h0m16.1-7.7h0m-5.2-4.7h0m3.3 9.2h0m-13 10.5h0m-1.1-14.8h0m5.7 1.2h0m-2.1 9h0m-2.7-1.7h0m3.6-3h0m10.2 4.7h0m-5-9.7h0m-11.7 4.4h0m7.5-4.8h0m-.6-2.3h0m5.5-3.5h0m-3.6 12.6h0m4.1 3.2h0m1-8h0m-10.8 12.3h0m-.4-6.4h0m7.9 3.5h0m5-10.2h0m-8.1 3.6h0m7.4-1.3h0m-4.4 10.1h0m-.7-9.7h0m-2.1-2h0m-4.7 10.6h0m11.2-12.1h0m-4.7 13.7h0m-1.7-16.3h0m-5.7 .3h0m7.3 14.5h0m-6.4-7.2h0m-2.2 6.3h0m2.7 3.7h0m7.1-11.2h0m2.6-9.4h0m-12.7-2.7h0m7.1 3.7h0m.2 11.8h0m-1.6-.1h0m9.3-10.2h0m-9.6 5.5h0m7.3 .5h0m1.3-4.8h0m-6.9 10.4h0m-2.9-15.1h0m-.3 15.3h0m9.7-2h0m-12.5-6.2h0m-2.1 .1h0m14.5-3.1h0m-9.8 9.4h0m7.9 3.5h0m-9.7-3.8h0m5.3 9.2h0m3.3-3h0m3.7-18.8h0m-6.2 12.3h0m-9-3h0m15.7-6.4h0m.7 2.2h0m-8 .9h0m0 10.3h0m.2-16.6h0m3-.7h0m-10 11.1h0m1 .1h0m-3.9 1.7h0m13.8 2.8h0m0-10h0m.5-2.3h0m-7.6 13.9h0m8.2-8.1h0m-8.7 9.6h0m4.2 7.3h0m4.9-24.5h0m-6.1 13.8h0m-1.1-7.2h0m3.1 9.6h0m4.8-1.1h0m1.6-7.6h0m-12.5 .3h0m6.3-2.3h0m-4 5.5h0m7.3 1.2h0m-8.9 6h0m4.1-15.5h0m3.8 2.5h0m-14.1 16.1h0m13.7-17.5h0m2.1-.5h0m-11.4 14.9h0m1.8-13.6h0m10.5 4.4h0m-5.6-5.1h0m-8.5 6h0m5.4 11.4h0m1.1-15.6h0m-1.5 2.7h0m5.3-1.8h0m5.8 2h0m-2 1.2h0m-6.2 6.6h0m3.5-4.8h0m-7.6 7.4h0m1.7-10.9h0m7.9-.2h0m-14.2 3.7h0m6.3-7h0m-6.6 8.5h0m7.5 9.2h0m.5-11h0m-5.1-8.5h0m3.6 13h0m3.4-12.5h0m-4.3 26.6h0m8.9-17.3h0m-2.4-9.7h0m-4.7 8.4h0m-5.8 7.8h0m10.4-18.8h0m2 16.1h0m-9.8-9.2h0m.1 1.2h0m13.4 2.8h0m-2.2-10.7h0m-5 4.7h0m1.6-5.2h0m-2.4 12.3h0m-6.5 3.8h0m5.4-17.6h0m4.8 4.2h0m-10.5 9.4h0m2-11.7h0m-3.5 16.9h0m12-4.6h0m-9.2-10.8h0m9.2 14.2h0m-8.8-13.1h0m-2 14.5h0m2.2-10.9h0m-3.4 3.1h0m7.4-2.7h0m-7.1 10.3h0m6.5-13.3h0m7.5 9.9h0m-13.8-1.5h0m5.7-9.8h0m10.6 9.6h0m-9.4-11.4h0m-8.8 11.4h0m15.6-10.4h0m-5.8 6.1h0m4.8 15.2h0m-16.3-22.2h0m-3.4 13.5h0m-.6-6.6h0m3.4 3.4h0m-.7 9.2h0m-2.8-.5h0m-1.3-.8h0m4.8-2.5h0m1-1.8h0m-7.7 9.6h0m6.1-9.6h0m-.5 1.2h0m-.9-11.3h0m-3 20.3h0m5.7-18.6h0m3.1 8.9h0m-8.6-6.9h0m1.5 12.5h0m4.4-9.1h0m-3.1-3h0m1.1-2.1h0m2.4 6.1h0m.2 10.8h0m-2-4.5h0m-.2-11.4h0m2.7 3.6h0m-4-11.6h0m2.7 10.4h0m2 6.7h0m-4.3 2.3h0m-.7-11h0m.7 3.8h0m3.6-3h0m-6.8 13.4h0m6.2-11.2h0m-2.5-8.2h0m4.9 7h0m-12.1 2.7h0m8.5 5.1h0m-.9-2.7h0m-1.3-2.1h0m-.2 16.8h0m1-15.3h0m-6.8-1.2h0m8.3 4.9h0m-6.7-5.1h0m10-.8h0m-5.7 5.2h0m.4-7.4h0m-1.8-7.8h0m2.6 15h0m1.4-8.7h0m-.6-1.9h0m-6.5 11h0m1.1-13.2h0m3 6.9h0m6 8.9h0m1.7-5.5h0m-11.9-9.6h0m6.1-.6h0m.5 15.8h0m.5-17.9h0m1.7 22.3h0m-.3 4.2h0m-5.8-16.3h0m5.3 7.4h0m2-7.5h0m-6.9-.3h0m-.1 1.9h0m1.2 4.4h0m-1.2 1h0m-.2 2h0m6.3-8.2h0m-4.5 2.5h0m2.1-9h0m.8-5.4h0m-6 4.3h0m4.4 2.3h0m-2.5 3.3h0m2.9 4.5h0m.8-10.7h0m-.8 14.7h0m1.4 3.3h0m-7.1-1.7h0m.1-15.2h0m5.2 22.6h0m3.2-16.2h0m-3.5 8.1h0m-4.3-9.5h0m2.1 10.1h0m3.7-5.7h0m2.1-3.7h0m-6.9 7.6h0m-2.9-4.2h0m5.8-12.3h0m22.8-13.2h0m1.5 9h0m-2.5-.3h0m-4.1-1.8h0m3.8-.5h0m-1.1 6.5h0m-6.6-16.1h0m2.7-2.4h0m8.7 6.4h0m-4.8-.7h0m.4 11.1h0m1.3-10.8h0m-4.1 .2h0m-2.3-6.5h0m4.7 10.1h0m-.3 .3h0m-2.9-4h0m-2 .6h0m-4.9-1.4h0m11.7 2.1h0m-3.5 5.2h0m-2.3 3.2h0m8.8-4h0m-3.2-8.4h0m-6.8 3.1h0m4.8 3.5h0m6.6 4.1h0m-4.1-5.6h0m-5.9-4.5h0m1.7 6.8h0m7.1-4.5h0m-7.2 4.7h0m-3.5-7.1h0m.8-1.7h0m8.9 10.4h0m7.4-2.7h0m-7.2 .2h0m-11.6-4.9h0m8.8 2.8h0m4.4 2.2h0m-2.8 0h0m-6.2-1.7h0m4.5 7.9h0m7.4-11.4h0m-14-.9h0m14.4 .2h0m-6.1 0h0m-2 9.9h0m-5.2-1.4h0m7.6-3.1h0m-1.9 10.3h0m-2.5-10.8h0m.5 3.1h0m-.9-5.7h0m6.6 4.3h0m-.2 1.9h0m-.9 5.4h0m-10.7-10h0m6.7-2.6h0m1.2 9h0m-1.5-.7h0m6.3 0h0m-4.6-2h0m6.8-2.9h0m-6.1-5.2h0m-5.5 4.6h0m3.3-3.6h0m-3.5 7.3h0m12.1 2.1h0m-12.3-6.8h0m.2 .8h0m2.2 9.2h0m-1.7-11.2h0m-3 4.3h0m-1 .5h0m15-13.8h0m-7.1 47.5h0m-9.7-21.2h0m19-10.9h0m-21.1 2.4h0m7.5 21.1h0m-14.2 1.4h0m12.8 2h0m-6-22.8h0m3.2 11.9h0m-4.9-13h0m9-11.6h0m-17.8 24.9h0m-2 7.8h0m-2.6-6.5h0m20.2 7.4h0m-12.5-5.9h0m20.3-21.7h0m-8.2 25.3h0m7.3-16.7h0m-7.5-3.5h0m1.9 11.6h0m1-14.3h0m-6.1 17.5h0m-10.7-10.3h0m17.8 .7h0m-8 16.1h0m-2.1-26.9h0m-8.4 18.8h0m9.2-7h0m-6.9-11.8h0m6.3 21h0m5.2-.3h0m-8.8-.9h0m5.1-5.4h0m1-1.8h0m-6.7 17.8h0m10-13.3h0m-6-21.7h0m-2-3h0m-1.6 29.6h0m3.6-4.8h0m18.4-3.6h0m-5.8-6.9h0m-13.2-5.5h0m18 19.3h0m-15.5 0h0m3.2 8.4h0m2.7-17.4h0m-15.7-18.5h0m22.5 8.4h0m-14.4 21.7h0m1-12.8h0m9.6-3.5h0m-24.9 11.6h0m6-13.5h0m7.6 25h0m3-37.4h0m.2 22.1h0m13.3-15.2h0m-28.8 18.5h0m4.2 4.6h0m17.6-11.5h0m-7-9.4h0m-13.4 23.4h0m28-7.8h0m-11.5-12.9h0m5.8 21.2h0m-9 .1h0m-1.9-1.2h0m15.8-16.2h0m-19.6 3.6h0m16.2 8.2h0m-5-13.9h0m2.3 6.9h0m-10.8-5.2h0m8.3-3.6h0m8.4-15.6h0m-23.2 33.2h0m-4-7h0m9.9 4.1h0m18.1-15.5h0m-19.1 28.4h0m5-8.1h0m.6-14.8h0m-6.7-2.1h0m-1.7 13.9h0m7.4 3.3h0m1.6-5h0m-9.8-18.1h0m18.9 29.1h0m-13.1-4h0m-5.9-17h0m12.7 13.6h0m1.9 1.9h0m-4.9-11.6h0m.1-8.3h0m-4.6-6.6h0m-8.1 31.3h0m6.2-37.2h0m-5.9 37h0m10.7-14.8h0m6.6 10.7h0m-9-5.9h0m23.1-7.1h0m-25.4-3.8h0m.8 21.9h0m.3-6h0m6.2-27.8h0m-6.8-1.3h0m3.4 12h0m10.6-17h0m-6.3 12.6h0m-7.8-4.3h0m23.5 5.1h0m-27.8 12.9h0m5.1 6.3h0m11.7-10.5h0m4.3-6.5h0m-24.7-3.6h0m21.4 4.9h0m-3.7 13.7h0m-13.9 13.2h0m16.5-4.1h0m-.3-31.1h0m-1.3 14.9h0m-20.2 18.1h0m11.8-10.9h0m19.1 .9h0m-20.6 3.5h0m14.4-13.4h0m.6 4.5h0m-15.3 16.6h0m2-22.1h0m-1.4-14h0m14.5-.4h0m-3.2 18.9h0m8.8-22.3h0m-8 4.8h0m10.4-4.3h0m-7.3 2.9h0m-5.1-2.1h0m7.2-3.1h0m-.9 8.8h0m1.4 .1h0m2.7-8.3h0m-2.2 7.6h0m-3.9-6.7h0m10.8 4.5h0m-8.5 0h0m3.6 1.4h0m-9.1 2.4h0m.6-9.2h0m3.1 1.3h0m9.2 6.2h0m-5.4 1.9h0m-11.3 .3h0m21.8-4.6h0m-15.8-1.2h0m5.3-4.2h0m-7.1 10.7h0m1-.7h0m-1.3-8.7h0m-7.3-6.5h0m11.5 13.4h0m-6.4-2.5h0m15.5 0h0m-15.9 .2h0m12.3-8.2h0m-5.1 6.2h0m-2.9-.1h0m1 .9h0m.7-6.4h0m-1.1-3.1h0" fill="none" stroke="#111" stroke-opacity="0.82" stroke-width="1" stroke-linecap="square"/>
</g>
<line x1="146.1" y1="220.2" x2="146.1" y2="272.2" stroke="#333" stroke-width="1"/>
<line x1="131.3" y1="244.1" x2="185.9" y2="244.1" stroke="#333" stroke-width="1"/>
<rect x="131.3" y="220.2" width="54.599999999999994" height="52.0" fill="none" stroke="#333" stroke-width="1"/>
<text x="181.1" y="227.5" font-size="8.5" font-family='"Liberation Serif", serif' font-weight="normal" text-anchor="end" fill="#222">11.77</text>
<text x="160.6" y="163.2" font-size="8.3" font-family='"Liberation Serif", serif' font-weight="bold" text-anchor="middle" fill="#111">TCCM cells</text>
<g clip-path="url(#c03)">
<ellipse cx="211" cy="203.5" rx="5" ry="9" transform="rotate(5 211 203.5)" fill="#111" fill-opacity="0.75" filter="url(#bl)"/>
<path d="M205.9 210.7h0m6.3-9.7h0m.9-8.2h0m-5.5 18.6h0m-1.4-16.2h0m2.1 4.6h0m11.2 9.7h0m-7.7-4.4h0m8.8-11.5h0m-7.3 18.7h0m.6-20h0m1.5 7.8h0m1.6 6.5h0m-4.5 7h0m3.3-8.5h0m-1.5 9.1h0m-2.8-2.4h0m-5.9-20.6h0m12.8 6.1h0m-3.8-3.1h0m-2.2 4.8h0m-.2 1.6h0m1.4-7.7h0m-3.3 16.5h0m.2-17h0m8.2 10.5h0m-10.4 9.6h0m-3.6-21.8h0m6.3 1.8h0m-3.9 9.7h0m-3.2-2h0m18 5.5h0m-15.3-5.2h0m.1 16.6h0m3.1-5.1h0m-4.4-2.2h0m5.6-8.9h0m-1-4.2h0m2-2.9h0m-9.9 6.4h0m7.4-4.3h0m-4.2 5.2h0m10.8 1.4h0m-6.1 3.6h0m-2.7-12.5h0m4 19.2h0m-1.9-14.8h0m4.9-6.9h0m-1.4 17.4h0m4.2-10.9h0m-12.9 16h0m5.4-23.6h0m5.7 2.1h0m2.5 11.6h0m-3.5-5.4h0m-7.6 10.5h0m13.8-15.2h0m-1.8 12.1h0m-12.3-1.1h0m1.8 10.6h0m-1.2-14.5h0m5.3 10.2h0m4.5-2.8h0m-2.3-10.5h0m-4.3 19.4h0m-1.9-7.9h0m3.3 8h0m-4.8-8.6h0m12.6-2.9h0m-8.7 5.4h0m3.9-2.3h0m-1.6-10h0m-1-2.3h0m-3.4 6.7h0m2.9-4.7h0m-5.8 3.3h0m.9 5.1h0m5.9-10.3h0m-2-4.6h0m4.2 11.9h0m-7.2-5.1h0m5.7 6.4h0m-3.1-.9h0m-6.3 6.8h0m4.9 1.9h0m1.1 2h0m4.2-.4h0m5.8-15.1h0m-16 5.3h0m8.8-5.2h0m3.8 1.1h0m-1.8 10.6h0m-9.2-14.3h0m3.3 .3h0m-1.7 6.7h0m11.9-7.5h0m-6.6 18.9h0m7.3-13.9h0m-5.3-7.4h0m-7.9 .4h0m1.7 13.4h0m-3.3-8h0m10.1-5.5h0m-4.4 11.7h0m-4.1 2.1h0m10.1 0h0m-6.1-1.5h0m3.2-1.7h0m-3.7-3.2h0m4.7 1.1h0m-3.4-1.3h0m-4.6-5.9h0m9.5 1h0m-1.3 11.3h0m-6.2-13.6h0m10.1 14.2h0m-8.9-20h0m-3.9 18.2h0m7.3-15.6h0m-6.1 10.9h0m1.8 7.1h0m2.5-4.6h0m-4.2 7.6h0m-1.9-7.6h0m10.5-5.1h0m-.9-4.1h0m-3.2 14.4h0m-6.2-1.5h0m6.6 5.9h0m-2.5-12.8h0m8.5 8.5h0m-6-6.1h0m-6.7-2.3h0m3.5 9.1h0m4.3-18.8h0m-5.1 16.5h0m2-17.2h0m3.7 11.8h0m-2.7 9h0m7-7.9h0m-2-10.4h0m-6.7 16.5h0m3.9-16h0m-.6 16.6h0m0-2.4h0m4.6-4.2h0m-3.2 7.4h0m-2-15.2h0m2.7 10.5h0m-12.7-.7h0m9.2-2h0m-7.3-3.5h0m12.9-4.9h0m-9 13.4h0m2.9 2.9h0m.5-6.5h0m2.1-4.7h0m-.4 2.1h0m-3.7 3.4h0m-.4 5.1h0m8.3-10h0m-12.9-3.3h0m.3-2.2h0m11.2 1.2h0m-.4 13h0m-1.4-14.5h0m4.4 13.2h0m-6-8.7h0m.4-7.9h0m-2.4 23.3h0m1.2-11.3h0m1.6 10.4h0m-.8-21.8h0m2.8 2.3h0m-11.5 10.9h0m11.1-5.8h0m2.1-2h0m1.5 4.2h0m4.1 5.3h0m-14-3.1h0m2.4-6.7h0m3.7 2.2h0m1.2 3.1h0m2-.2h0m-6.5-3.6h0m-7.4 10.3h0m14.2-13.5h0m2.1 4.5h0m-15.7 8.6h0m7.3-16.1h0m1.7 2.2h0m-4.8 9.8h0m6.8 5.2h0m-5.4-17.2h0m4.1 17.5h0m-2.3-.4h0m7-6.2h0m-2.2 6.8h0m-10.5-11.8h0m5.7 17.4h0m-1.1-2.9h0m-6.1-10.1h0m11.6-1.8h0m-1.4 12.3h0m.8-8.9h0m-7.2-1.3h0m2.2 5.1h0m-2.6-10.6h0m6.6 1.4h0m-7.7 15.5h0m-1.1-12.4h0m5.1 1.2h0m8.3 6.6h0m-3.4-3.2h0m-5.2-1.9h0m4.9-12.8h0m-2.2 6.3h0m-.2 1.5h0m4 9.9h0m-5.4 3.2h0m6.5-12.4h0m-.9 3.4h0m-11.7-7.8h0m6.6 19.1h0m-1.5-.3h0m-8.3-10.4h0m5.5 4.5h0m1.3-3.2h0m4.1-1.2h0m.4-14h0m-7.9 13.3h0m9.6 3.5h0m1.4-4.6h0m-7.4-2.1h0m-4.6 7.8h0m9.7-16.5h0m-11.3 14.8h0m8.2 2.3h0m2.8-15.1h0m2.6 4.3h0m-5.7 5.5h0m7.1 2.8h0m-10-2.4h0m10.4-.2h0m-13.7 5.4h0m13.4-7h0m-.8-6.8h0m1.1 19.9h0m-.6-17.1h0m-10.7 4.1h0m3.6-4.9h0m-.7 4.7h0m1.1 10.9h0m.8-6.5h0m-2.6-12.9h0m2.7 16.7h0m-.2-19.9h0m-8.9 7.3h0m2.2-.6h0m10.2 5h0m5.3-2.8h0m-10.3 11.6h0m4-14.1h0m-1.9 .6h0m-5.3-4.9h0m5.4 7.1h0m-5.9 7.5h0m5.4 3.2h0m-.4 1.2h0m1.5 1.4h0m1.9-4.6h0m.9-.2h0m-1.9-14.6h0m3 3.2h0m-3.7 3h0m-3.3 7.1h0m3.3-10.9h0m1 2.6h0m-2.6 1.3h0m4.7 11.4h0m2.1-7.8h0m0 1.8h0m-.2 1.8h0m-14.7 .6h0m4.1-.9h0m9.5-11.9h0m-7.2 9.7h0m3.8-7h0m-1.4 12.8h0m-3-8.4h0m-4.5-3h0m3.8 8.6h0m4.1-9.2h0m-.5 12h0m-1.5 2.7h0m-3.7-.7h0m.6-20.3h0m3.1 12.2h0m5.6-5.3h0m-7.2-2.2h0m-3.9 6.7h0m13.1-15.1h0m-8 6h0m3.4 9.3h0m-2.5 5.3h0m-4.2-.8h0m8.1-10.1h0m-8-.3h0m1.6-3.6h0m6.5 6.1h0m-7.6 14.4h0m7.5-2.9h0m-8.8-1.1h0m8.7-.1h0m3-12.2h0m-12.1 6h0m5.6-9.2h0m-5.1-.5h0m1.2 5.5h0m-1.7-2.2h0m16.8-.4h0m-12-5.7h0m-5 17.8h0m-.3-13.3h0m11.4 4.7h0m.4-3.3h0m-7.2 16.3h0m3.1-4h0m.6-11h0m-7.9-.6h0m3.9 3.3h0m-1.2 3h0m-2.4-11.3h0m8.4 8.9h0m-9.6 5.8h0m9.9-14.5h0m2.4 3.7h0m-16.1 8.8h0m6.4 1.9h0m4.8-.3h0m0-13.7h0m-4.9 18.6h0m-.3-2.5h0m2.6-14.9h0m6.3-4h0m3.4 20.5h0m-10.6-6.7h0m1.9 10.2h0m-3.8-15.2h0m5.8 5.6h0m3.8-.7h0m-8.6 3h0m1.8-4.8h0m3.6-8.2h0m-.4 15.1h0m-6.8-9.7h0m2.7 7.3h0m-1.8 2h0m.4-.8h0m7.4-5.8h0m-8.5 3.7h0m5.7 7.6h0m-2.3-23.5h0m-4.6 19.8h0m1-13.5h0m-2.6 7h0m9.4-.4h0m1.8 7.6h0m2.2-13.6h0m-4.7 17.2h0m1.7-26.4h0m-.2 16.4h0m-9 3h0m8.6-6.3h0m-8 8.2h0m-.9-5.7h0m11 7.4h0m-6.4-15.1h0m-3.6 3h0m7 4.5h0m-.9-12.5h0m3.9 17.4h0m-5.6-6.5h0m-3.6-6.5h0m1.8-2.1h0m-4.5 13.1h0m.4 .5h0m2.9-7.6h0m2.4 15.7h0m-7.6-5.9h0m2-11.5h0m15.3 12.9h0m-3.2 1.8h0m-9.6-11.6h0m1.1-6h0m6.7 6.7h0m-1.2-8.7h0m6.2 8.7h0m-10.8 6.8h0m2.1-1.3h0m-4.3-11.4h0m2.9 17.7h0m.2-24.3h0m-2.6 20.3h0m-3.2-17.6h0m18.1 5.7h0m-12.4-5.7h0m-3.4 11.9h0m9.7-3h0m-10.8 5.1h0m6.3-4h0m-.6 5.8h0m8.1 7h0m.4-10.6h0m-4.6-12.1h0m-8.3 20.7h0m5.1-17.3h0m-6.3 10.8h0m1.8-2.8h0m9.8 1.8h0m-8.2 4.9h0m7-5.2h0m-8.1-6.8h0m11.8 4.1h0m-6.6 6.1h0m-1.6 5.6h0m-2-23.8h0m-4.3 14.1h0m5.3-6.2h0m-5-.2h0m15.7 3.6h0m-1.3 5.8h0m-4.3-9.9h0m1.5 2.5h0m-6.5 10.6h0m-.3 .7h0m-.8-15.9h0m4 5.4h0m-.6-2.4h0m4.1 12.5h0m-1.2-9.9h0m-10.3-4.5h0m11.5 12.3h0m-5.1-6.7h0m-4.5-1.2h0m9.4 7.7h0m-11.3-6.1h0m8.4 14.1h0m-5-18.3h0m5.9-1h0m-8.7 8.2h0m-.5-7.5h0m6.5-4.8h0m4.1 .3h0m-4.6 15.8h0m.3-7.2h0m-3-4.4h0m6.4-7h0m-3.1 9h0m-7.6 .9h0m14.4-3.6h0m-10.9 2.7h0m6.8-7.7h0m-9.1 23h0m5.6-7.2h0m3.6 5.2h0m-4 1.2h0m-.1-22.5h0m12.6 6h0m-17.4 11.5h0m8.9-13h0m3.2 9.4h0m-11.9-1.9h0m4.7 11h0m2.6-9.4h0m-7.6-6.7h0m12.9 8.2h0m-6.8-6.1h0m.4-4.6h0m-5.5 9.3h0m-1.8-1.4h0m6.4-5.4h0m-7.4 6.5h0m16.4 1.2h0m-10.9 0h0m5.4 2.4h0m-3.1-9.6h0m2.1-2.7h0m-5.5 3.1h0m-2.6 16.9h0m4.4-21.6h0m-4.9 4.3h0m2.6 6.1h0m-.5-1.9h0m-2.6 5.5h0m14.4-3.3h0m-6.8-2h0m-.8 7.4h0m-.4-1.5h0m6.7-2.2h0m0-2.3h0m-10.2-3.3h0m10.2-1h0m-11.4-2.4h0m3 11.8h0m-1.9-3.5h0m7-5.6h0m4.6 .5h0m-3.3-15.3h0m-7.3 18.6h0m.8-5.7h0m-5-2.5h0m4.5-9h0m4.1 14.5h0m-1.5-7.1h0m4.2 5.7h0m-3.8-4.2h0m6-2.8h0m-4.4 17.4h0m1.4-14.5h0m-6.8-1.1h0m7.4 1.7h0m-3.5 14.4h0m-1.2-17.2h0m-3.1 17.5h0m-2.7-1.9h0m12.9-13.4h0m-10.1 0h0m.5 8.5h0m-.9 4.3h0m3.5 6.1h0m8.2-21.7h0m-4.2 4.3h0m-3 .1h0m-8.4 13.2h0m17.8-5.4h0m-5.6-3h0m-8.9 11.2h0m10.6-2.3h0m-20.3 1.7h0m-.5-3.4h0m2.9-4.7h0m.3-6.1h0m.7 4.5h0m3.3-9.9h0m-2 3.7h0m3.8 11.6h0m-5.5-9.1h0m-1 2.9h0m-.2 1.6h0m3.6 5.7h0m3.1-13.9h0m-6.7 6.1h0m2.7 .5h0m-5.7-5h0m.4 12.6h0m2.9-10.8h0m8-3.6h0m-9.5 17h0m4.7-15h0m2 9.8h0m-1.3 7.4h0m-1.1-3.2h0m-4.6 2.7h0m8.5-12.6h0m-10.1 9.3h0m1.3-11.2h0m-3.2 4.2h0m9.3 8.8h0m-1.5 .7h0m2.3-13.8h0m-.8-1.8h0m-8.3 10.7h0m7.1-16.1h0m-8.6 10.1h0m4.9 5.8h0m-1.6-5.1h0m1.7 3.6h0m-1.6-5.5h0m2.8 4h0m-5.5 1.2h0m2.1-.8h0m7.2-10.3h0m-8.8 14.5h0m8-14h0m-3.2 8.9h0m3 1h0m1.8-4.8h0m-2.8 11.5h0m-8-16.4h0m5.4-2.8h0m-.3 16h0m2.7-.8h0m-4.2 2.2h0m4.9 2.8h0m-1-17.8h0m-4.6 10.4h0m3.4-6h0m.2 10.2h0m.7-14.6h0m-1.1 10.9h0m7-15.3h0m-1.1 5.6h0m-14.4 4.8h0m8.3 4.8h0m-4.6-7.6h0m4.9-3h0m-2.2 2.6h0m3.4 14.4h0m-4.8-4.5h0m-5.2-4.3h0m5.9-1.7h0m3.9-4.8h0m.3 8.7h0m-2.1-1.4h0m3.6-5.3h0m3.1 9.2h0m-6.3-7h0m-2.5 11.5h0m-2.6-9.1h0m4.4-2.8h0m10.9 7.6h0m-13.7 1.3h0m1.2-5.6h0m4.1-4.9h0m-.5-4.8h0m-4.7 11.4h0m6.2-8.8h0m4.2 5.3h0m-10.1 12.7h0m7.1-21.9h0m-7.4 16.1h0m3.1 5.6h0m5.1-2.8h0m-4.8-6.5h0m-3-3.9h0m-4.7-6.5h0m14.1 3.1h0m-15.5 5.8h0m7.5 8.4h0m-4.1-21h0m9.4 16.4h0m6.3 2.2h0m-9.6-10.8h0m4 8.4h0m-5.4-7h0m4.2 13.7h0m-6-5.9h0m4.2 1.3h0m-4.5-5.3h0m1.3-8.9h0m-.2-1.2h0m2.5 7.1h0m4.5-7.4h0m-8.1 11.6h0m9.8 5.5h0m-.6-12.6h0m-8.2 5.6h0m9-3.3h0m-4.9 3.8h0m.7-5.1h0m-4.3 6.3h0m5.1 .2h0m2.9-6.3h0m-10.1 7.5h0m5.2-7.6h0m-6 13.7h0m-1.5-15.6h0m5.3 13.9h0m-3.7-5.1h0m8.1 3.2h0m-5.1-3.1h0m-5-14.6h0m3.1 5.5h0m1.6 10.9h0m5.2 6.2h0m-5.7-15h0m-1.6-3.5h0m10.8 8h0m-8-3.3h0m12.2-7.6h0m-2.8-8.1h0m.6-8.2h0m13.8 5h0m-15.3 0h0m3.8-6.1h0m2.7 4h0m-.6 1.7h0m-3.4-2.1h0m2.9 8.5h0m1.3-8.6h0m5.9 2.2h0m-6.5 6.6h0m-.3-9.5h0m3.6 .7h0m-4.3-5.9h0m3.2-3.4h0m-2 2.4h0m1.6 9.9h0m-2.4-6.9h0m-4.2 3.3h0m8-2.3h0m4.4 1h0m-.2 2.3h0m2.3 6.7h0m-6.3 .1h0m-5.9-4.9h0m9.2-4.2h0m1 2.7h0m-3.9 5.7h0m-3.4-13.4h0m3.8 19.2h0m-2.8 .2h0m-4.6-7.6h0m4.7 .9h0m-3.4 7.8h0m1.3-12.3h0m7.8-5.7h0m-10.7 .6h0m5.9 4.5h0m-1.3 11h0m-.6-19.2h0m4.3 22.8h0m-6-4h0m1.4-10.7h0m-5.3 .7h0m2.3-5.3h0m12.7 9.3h0m0-10.5h0m-5.8-4.4h0m-7.1 10.4h0m2 .5h0m4.1-5.4h0m-4.2 11.9h0m-.2-16.7h0m8.9 4.5h0m-14.8-2.5h0m3.2-7.3h0m2.8 14.2h0m-8.1-.9h0m10.1-6.2h0m-1.6 6.1h0m5 .7h0m-7 3h0m4.7-2.1h0m-5.6-2.3h0m6.8 2.6h0m-2.1-2.6h0m-.8-4.3h0m-5.8 2.3h0m2.3 13.2h0m3.4-1.9h0m-3.5-9.6h0m-3.6-.9h0m5.7 1.8h0m4 6.9h0m-6.1-11.6h0m9 14.5h0m-.7-11h0m-5.7 6.5h0m1.1-4.8h0m5.9 15.7h0m-13.9-14.6h0m13.2-.8h0m-4.1-1.8h0m-9.5 1.9h0m15.3-7.9h0m-10.6 1.5h0m-3.9 16.1h0m6.4-11h0m-.8 1.4h0m3 1.4h0m-2.6-1.6h0m-.4 6h0m14.9-9h0m-8.1 13.5h0m-12-8.6h0m3.9-1.6h0m-2.4 4h0m7-16.4h0m-6.3 27h0m5.7-14.4h0m-3.3 .3h0m.9 .3h0m14.4-5.8h0m-12.3 8.5h0m-7.7-2.8h0m3.9 7.9h0m4.4-12.6h0m-11.7 6.7h0m12.6 3.8h0m-3.4-6.3h0m5.5 .4h0m-10.3-10.5h0m14.5 11.5h0m-16.9-10h0m9.6 4.8h0m7.8 8h0m-13.5 .7h0m4.8 3.9h0m-9.8-13.4h0m6 18.9h0m4.3-2.3h0m-2.1 3.2h0m2.4-19.5h0m5.3-9.2h0m-4.6 6.6h0m-1 11.3h0m-4-6.6h0m4.2 12.1h0m.5-6.9h0m.7-4.6h0m-1.6 6.8h0m2.1-10.8h0m-4.3 .7h0m-2.2 15.8h0m7.9-7.6h0m2.8 .1h0m-9.7 10.6h0m3.2-24.8h0m-5.7 12h0m5.4-1.7h0m2.9-1.1h0m-8.8 2.8h0m3.9-4.2h0m-4.4 9.7h0m-.6-7.8h0m7.1-10h0m-4.3 4.9h0m10 .4h0m-14.2 14.9h0m3.3-2.4h0m8.9 3.1h0m1.1-5.1h0m-12.5-6.4h0m9.9-5h0m4.7 .2h0m-9.5 13.5h0m1-20.4h0m-1.1 12h0m14.8-5.9h0m-11.8 13.4h0m-1.8-5h0m.4 .6h0m3.6-5.6h0m-3.3 14.1h0m-5.3-6.6h0m6.9-2.9h0m-9-3.1h0m.4 11.4h0m4.3-4.2h0m4-9.3h0m1.8-4.8h0m6.1 7.5h0m-9.1 .6h0m-2.1-6.5h0m5.3 6.5h0m-.5-2h0m3.2-8.2h0m-9 31.6h0m13-2.7h0m-5.4 12.6h0m9.4-18h0m-.7-9.5h0m-14.4 20.2h0m24.5-15.6h0m-34.1 25.9h0m16-22.4h0m-16.6 19.7h0m11.8-16.4h0m-13.1-1.5h0m5.3 12h0m-7.5 2.4h0m24.1 2.5h0m-21-7.7h0m12.9 13h0m-6.6-14.5h0m3.1 2.2h0m6.1-.7h0m0 9.5h0m-7-.8h0m.9-14.4h0m.3 9.4h0m-.7-1.3h0m5-7h0m-11 1.8h0m-5.2 3.3h0m12.3 8h0m-1-13.3h0m3.6 15.9h0m5.9-9.5h0m-4.4-7.7h0m-8.1 19.4h0m-1.4-1.3h0m16-7h0m-7.7-15.8h0m.7 9.6h0m-2.2-14.1h0m-1.1 15.6h0m-9.8 11.9h0m17.5-20h0m-13.7 10.1h0m12.5-5.9h0m-4.6 15.8h0m-15-19.8h0m7-6h0m3.2 6.5h0m-8.6 10.1h0m-5.7 3.7h0m13.8-12.6h0m-15.4 6.3h0m25.3-11.9h0m.4 .1h0m0-17.1h0m-6.5 42.5h0m-17.2-14.2h0m21.5-7.8h0m-3.4 3.4h0m10.3-.5h0m-8.8 10.7h0m-16-7.1h0m11.6 4.4h0m10.8-23.9h0m1.4-11.2h0m-3.6 15.3h0m12.5 17.6h0m-28.3 12.9h0m13.6-8.3h0m-10.8-20.1h0m12.4 17h0m-29.6 11.7h0m35.7-39.1h0m10.5 15.9h0m-24.7 2.5h0m-21.3 11.7h0m11.2 2.9h0m8-3.8h0m3.9-25.1h0m6-.2h0m-18.9 17.2h0m7.4 12.3h0m21-15.7h0m-18.6-8.1h0m3.2 18.6h0m9.5 .9h0m-21.3-12.5h0m13.9-8.4h0m-11.6 16.4h0m6.5-2.3h0m15.9-18.8h0m-28.4 13.4h0m22.4-.7h0m-2.2 .8h0m-16.6-4.7h0m26.6 15.4h0m-11.6-2.6h0m9.1-12.1h0m-3.3 10.8h0m-10.5-6.5h0m-7.5-4.3h0m1.8 .5h0m1.9 5.2h0m8.1 4.9h0m3.4-4.8h0m15.5-7.5h0m-31.8 13.5h0m14.3-12.8h0m-5 16.1h0m-.5-2.6h0m-8.6-4.6h0m8.8-8.8h0m6.5 7h0m14.1 2.4h0m-13.9-13h0m-7.9 16.2h0m-4.6-2.3h0m3.2 4.3h0m18.2-14.2h0m-16.8-6.2h0m4.2 .2h0m1 11.6h0m-18.1 11.5h0m13.7-10.8h0m-9.6-10h0m2.7 20.6h0m7.5-23.1h0m.2 31.6h0m7.5-11h0m-6.6-15h0m-1.2 25.3h0m9.3-33.9h0m-14.2 8.3h0m3.5 17.4h0m5.4-16.9h0m9.8 2.5h0m-6.7 19.4h0m-2.8-22.9h0m7.2 3.2h0m-18.3 9.5h0m28.6-15.7h0m.8-6.3h0m-16.1 1.5h0m16.1-4.5h0m-12.2 5.1h0m17 4.3h0m-17.8-8.2h0m-4.1-.4h0m13.2 10.2h0m-12.1-12.2h0m-1.6 1h0m2.8-7.4h0m-5.8 20.5h0m3.6-6.7h0m10.8-6h0m-7.8 7.6h0m2.6 5.2h0m9.8-2.3h0m-4.3-1.9h0m-8.6-6.3h0m9.6 5.3h0m-5.1-6.2h0m-2.8 1.7h0m.1 4.7h0m14 7.8h0m-1.9-7.1h0m-2.8 8.3h0m-5.1-5.3h0m-9.3-12.3h0m7.2 1.6h0m-2.7 1.8h0m1 1.4h0m-8 2.8h0m19.6-4.4h0m-8.6 .5h0m8.1 4.7h0m-11.6-1.4h0m6.6-2.2h0m4.6-2.8h0m-6.5 5.6h0m-12.9 1.5h0m12.6 2.7h0m2.5-8.2h0m13.1 1.3h0m-14.3-1.4h0m12.7 3.8h0m-12.6 .6h0m6.9 2.7h0m-8-5.3h0m.6-2.5h0m4.6 .5h0m-16.2-4.3h0m6.2 4.9h0m14.3 5.3h0m-3.5-4.8h0m-8.9-1.3h0m1.6-2.8h0" fill="none" stroke="#111" stroke-opacity="0.82" stroke-width="1" stroke-linecap="square"/>
</g>
<line x1="206.5" y1="165.6" x2="206.5" y2="217.6" stroke="#333" stroke-width="1"/>
<line x1="185.9" y1="188.6" x2="240.6" y2="188.6" stroke="#333" stroke-width="1"/>
<rect x="185.9" y="165.6" width="54.69999999999999" height="52.0" fill="none" stroke="#333" stroke-width="1"/>
<text x="235.8" y="172.9" font-size="8.5" font-family='"Liberation Serif", serif' font-weight="normal" text-anchor="end" fill="#222">10.03</text>
<g clip-path="url(#c13)">
<ellipse cx="205.5" cy="254.5" rx="5" ry="9" transform="rotate(10 205.5 254.5)" fill="#111" fill-opacity="0.92" filter="url(#bl)"/>
<ellipse cx="194" cy="256" rx="3.5" ry="8" transform="rotate(0 194 256)" fill="#111" fill-opacity="0.3" filter="url(#bl)"/>
<path d="M208.9 258.5h0m-2.3-.7h0m0-7h0m5.9 3.6h0m-9.6 .3h0m4.3 11.8h0m-5.1-11.6h0m7.9 6.4h0m-7.5-10h0m3.9-4.4h0m-2.4 18.5h0m4.1-.1h0m-2.7-1.5h0m-2.6-14.2h0m3.6 3.1h0m4.7 4.4h0m-6.2 6.9h0m5.1-6.9h0m-8.7-.2h0m3.6-8.3h0m-6.3 9.6h0m8.9 .8h0m-4.9-9.7h0m-3.6 7.2h0m7.9 9h0m6.2-5.2h0m-5.5-13.3h0m-6.4 4.2h0m.1 6h0m-1.1-2.7h0m7.4 10.2h0m-5.6-5.9h0m.8-4.5h0m5.7-8.7h0m-6.4 8.4h0m6.6 9.1h0m-1-15.5h0m-.4 6.3h0m-1.7-.7h0m-3 9.7h0m8.2-14.8h0m-1.5-5.2h0m0 11.2h0m1.8 4.2h0m-6.5 7.6h0m.8-9.8h0m7.6-4h0m-5 14.2h0m.8-1.8h0m-.7-17.3h0m-1.4-1.5h0m.4 17.8h0m-1.8-13.3h0m2.2 10.9h0m1.2-12.5h0m-3.5 14.7h0m2 2.5h0m-.3-9.2h0m-1.6 4.7h0m2.4 4.8h0m-2.3-13.3h0m1.9 10h0m-.4-16.5h0m-4.8 12.6h0m.8-5.2h0m-2.2 6.8h0m5.7-5.4h0m-1.6 7.7h0m-2.7-4.4h0m-.3 .2h0m2.2-7.6h0m5.8 6.4h0m-7.4 2.3h0m5.4-8h0m.7-.2h0m-5.4 8.5h0m-.1 4.8h0m6.3-5.4h0m-3.9-11.4h0m.6 3.7h0m3.7 5.4h0m-6.1-4.3h0m6.6 13.4h0m2.1-11.3h0m-4.8-4.5h0m-4 2.6h0m-2.7 9.4h0m8.4 .1h0m-5.1-13.9h0m2-2.4h0m3.4 6.4h0m-13.3 13.2h0m7.8-17.8h0m-1 18.1h0m5.1-.8h0m-5.2-14.9h0m1.9 10.3h0m-3.8 0h0m1.5-6.1h0m10.1-1.1h0m-11.9 4.2h0m12.2-1.4h0m-12.4-.9h0m7.2-.3h0m-.2-2.5h0m-7.2 5.5h0m11.6 2.1h0m-10.6-4.4h0m2.3-3h0m5 9.7h0m.8-20.7h0m-1.6 15.1h0m3.6-9.8h0m1.4-.8h0m-4 .7h0m-3.2 3.6h0m-1 13.5h0m7.6-12.3h0m-10.6 14.3h0m7.6-13.3h0m2.9 2.3h0m.4-6.6h0m-6.2-2.9h0m.2-.1h0m-4.4 18.5h0m.2-5.6h0m6.7-5h0m-7.2 4.6h0m1.8 4.3h0m5.5-6.7h0m-5 3.2h0m5.1-5.4h0m.4-.3h0m-.2-2.1h0m2.5 1.9h0m-7.5-2.5h0m1.3 10.7h0m3 4.3h0m-3-12.8h0m.1 8.6h0m1.9-7.1h0m-7.6-4.9h0m3.2 13.5h0m1.9-.1h0m-2.2-9.2h0m.9 10.3h0m1.9-9.4h0m-1.9 5.7h0m7.7-7.2h0m-11.2 1h0m3.9 6h0m6.8 .7h0m-3.7-12.8h0m-1.5 8h0m6.8 .4h0m-2.3 4.8h0m-3.7-3h0m1.2-11.5h0m.2-5.1h0m-5 19.5h0m-1.1 5.9h0m4.2-21.7h0m-3.1 8.4h0m4 10.3h0m-3-20.4h0m-5.1 22h0m2.1-2.1h0m2.6-18.9h0m-.4 9.6h0m8.2-5.8h0m-1.3 15.7h0m-3.7-4.6h0m-3.8 8h0m8.6-15.8h0m2.2 2.6h0m-3.2 6.2h0m-1.9-12.8h0m-3.2 .1h0m-4.2 4.4h0m-.6 6.7h0m3.1 .8h0m2.4-3h0m-1.5 8.1h0m-1.8-15h0m9.4 12.2h0m-2-10.8h0m-7.9 3.9h0m7.8-4.3h0m6.4 3.4h0m-12.1 1.8h0m-.7 11.3h0m-5-9.9h0m2.1-3h0m2.7-5.1h0m3.6 4.6h0m-5.4 2.1h0m11.9 2h0m-3.6-4.2h0m-1.3 6.1h0m-6.1-8.8h0m1.9 8.6h0m4.7 .2h0m-4.6 5h0m3.3-8.5h0m-6.4-5.1h0m2.4 7.9h0m9.2-14.8h0m-7 3.5h0m.6-1.2h0m-4.4 24.3h0m7.3-20.2h0m-6.6 3.4h0m.2 .6h0m3.6 7.3h0m-.8-16.8h0m3.1 13.2h0m-.6-6h0m1.5-.5h0m.2-4h0m-3.1 3.2h0m6 1.8h0m-14.5 2.7h0m10.8 5.6h0m1.1 4.9h0m-2.6 1h0m-2.7-13.3h0m6.4-4.5h0m-8.8 16.7h0m6.9-22.3h0m-.9 17.5h0m-6.1 3.7h0m7-12.4h0m-1.3 1.7h0m1.7-7.8h0m-2 18.8h0m-2.8-15.3h0m-4.2-1.1h0m4.6-4.2h0m-3.1 6.4h0m7.3-2h0m-1.2 19.8h0m3.6-19.5h0m-.5 11.3h0m-12.4-9.6h0m8.1-3.4h0m7.3 7.2h0m-12.9-2.7h0m2.4-1.9h0m1.2 5.1h0m1.3 8.2h0m-3.5-7.4h0m3.4-.2h0m.4-8.9h0m2.6 7.5h0m-.8-5h0m0 3.7h0m1.8-8.6h0m-4.2 8.2h0m-2.9 9.6h0m-2.5-2.1h0m9.1-10.9h0m3.2 3.1h0m-4.7 5.7h0m-2.3-9.4h0m1.3 12.8h0m3.9-9.3h0m-9.9 1.8h0m7.4 7.8h0m-.7-4.9h0m-2.7-3.7h0m-2.9-3.6h0m1.5 6.1h0m1.5-7.5h0m-5.2 14.7h0m10.3 1.4h0m-4.6 1.5h0m7.6-22.9h0m-4.7 16.8h0m-6.9-.7h0m10.4-10.8h0m-4.7 6.1h0m-5.7 6.1h0m-1.5-7.8h0m1.4 10.9h0m7.6-4.2h0m.7-4.9h0m-.3 4h0m-5.9-2h0m3.4-.3h0m.8-5.3h0m-5.1 9.5h0m8.3-8.7h0m-.5-4.8h0m-8.3 10h0m3.3-6.3h0m2.3 9.1h0m-2.9-6.4h0m4-2.4h0m3.6 4.5h0m-1.1 6.9h0m-.8-16h0m-3.8 .3h0m.9 2h0m-1.2 9.2h0m3.5-3.6h0m.2-8.4h0m-4.9 3h0m5.2 11h0m-4.2-10.1h0m-4.6 4.3h0m-1.1 7.9h0m.4-8.9h0m2 2.9h0m1.3-2.2h0m4.1-5.6h0m-5.5 12.7h0m3.7-2.8h0m-1.5-12.4h0m-5.5 16.8h0m6.6-1.8h0m-.9-12.7h0m1.7 11.1h0m-4.4 6.4h0m-.6-11.5h0m4.8 6.8h0m-2.4-10.3h0m-4.7 14.5h0m7.6-19.1h0m.6 1.9h0m5.1 5.1h0m-7.1 5.6h0m-3.5 8.1h0m2.6-6.2h0m-.8 3.1h0m2.7-9.9h0m.3 1.9h0m2.7 3.3h0m-5.7-.6h0m7.5-8.6h0m-4.9-5.9h0m.9 18.7h0m2.9-1.1h0m-3.5-13.2h0m3.4 10.5h0m-.5 2h0m-3.3-8h0m.9-3.6h0m1.2 5.8h0m1.4-8.6h0m1.7 7.4h0m-4.5 0h0m1.9 5.7h0m.7-1.5h0m-9.7 1.9h0m8.9-4.5h0m-4.2 6.2h0m-1.1 .5h0m4.5 1.8h0m-.5-6.8h0m1.7-15.3h0m-.9 25.1h0m-2.5-14h0m5.4 6.3h0m-2.5-6.8h0m-8.6 1.4h0m1.8-1.2h0m8.5 7.4h0m-3-14.6h0m-.4 15h0m-1.6-5.4h0m-1.2 2.5h0m2.7-10.6h0m-7.5 11.1h0m5 5.2h0m2.4-11.9h0m5.1-3h0m-9.1 1.8h0m.6-2.9h0m.3 11.1h0m5.4 2.3h0m-6.4-13.1h0m8.2 6.6h0m-.9-.5h0m-4.5-1.9h0m2.5-1.8h0m.5 5.1h0m-3.9 4.6h0m.6-.3h0m.1 5.1h0m3.1-13.4h0m-6.7 9.3h0m-.2-6h0m-2.3 4h0m4.6 1.7h0m-1.2 1.2h0m6.9-4.5h0m-7.7-6.5h0m-1.3 13.6h0m9.5-9.9h0m-8.2 1.7h0m.3 9.5h0m8.2-15.3h0m-.3 10.7h0m-7.2-1.8h0m-1.5-5.1h0m6 11.4h0m1.9-14.3h0m.8 4.8h0m-5.8-9.7h0m-5.9 7.3h0m11.8 9h0m-1.5-14.5h0m-1.2 14.2h0m-2.8-.4h0m-1.6-4.3h0m5.5-2.8h0m2.8-4.8h0m-2.9 10.2h0m-6.2-9.6h0m5.8-3.3h0m-3.2 7.8h0m8.4 6.7h0m-4.9-5.3h0m-1.1-8.3h0m-2-1.8h0m-1.9 18.4h0m8.7-10.8h0m-9.2-4.1h0m-.1-.4h0m-5.5 10.7h0m11-.6h0m4.1-3.6h0m-12.8 5.9h0m9.2-14.2h0m-7.6 9.4h0m8.8-6.4h0m-10.2 8.1h0m5.2 2.8h0m-8.1-3.6h0m3 9h0m-3.1-13.5h0m-6.7 9.2h0m2.1-1.4h0m3.6-21.5h0m-5.3 14.9h0m-.3 9.9h0m10.4-1.3h0m-11.2 5.7h0m8.8-17.9h0m-3.8 16.8h0m-1.1-11h0m-.9-25.1h0m7.4 32h0m-7.5 .4h0m5.6-6.4h0m-6.8-3.8h0m.9-1.9h0m.2 14.2h0m-3.3-17.3h0m8.7 11.8h0m-4.8-9h0m-6.4 16.3h0m3.9-18h0m6.3-4.8h0m-9.1 9.1h0m9.8 10.2h0m-5.4 2.4h0m2.8-6.4h0m-3.1-7.2h0m0 1.1h0m9.2 4h0m-7.2-15.3h0m-.9 13.6h0m0-7.2h0m-6.2 6.1h0m6.3 5.1h0m-1.6-5.1h0m-1.3-6.9h0m4.9-.4h0m4.2 13h0m-8.2-2.6h0m10.3-6.8h0m-7.8 2.7h0m2.1 14.3h0m-2.9-13.8h0m5.1-4.3h0m-8.9 11.9h0m2.7-9.5h0m4.1-3.3h0m5.1-1.5h0m-7.6 1.2h0m.2 4.9h0m2.8-.1h0m.3 13.6h0m-5.5-1.6h0m-.5-2.4h0m6.3-1.9h0m-7.1-6.9h0m2.9-3.3h0m-2 5h0m4-6.4h0m.8-1.4h0m7.9 16.7h0m-7.3-7.2h0m1.7 5.5h0m-10.6-16.2h0m4.5 9.2h0m2.4 1.3h0m-4 7.3h0m.3-5.5h0m2.1-2.7h0m-2.2-1.7h0m-.4 .2h0m4.9-7.7h0m2.9 13h0m-5.6-7.8h0m-.4-1.3h0m6.6 .3h0m-1.8 3.3h0m-4.1 10.4h0m2.3-.7h0m-2.8 6.3h0m3.8-21.4h0m-.6 18.1h0m.6-12.6h0m1.7-6.1h0m-6.4 9.4h0m6-2.4h0m.8 10.8h0m1.3-9.5h0m.9 2.2h0m-8.9-2.6h0m3.5 4.4h0m4.4-6.2h0m-2.5 2.8h0m-.5 10h0m-2-11.1h0m5.4-1.3h0m-5.3 0h0m4.2 8.8h0m-3.4-8.1h0m-1.9 .8h0m-1.2 5.2h0m-4.1-5.3h0m7.2-2.8h0m.9 10.2h0m.1 6h0m-4.3-8.2h0m.8 1.2h0m8.3-9.4h0m-7.5 3.1h0m-2-2.7h0m5.3-12.4h0m-1.9 14.7h0m2.6-8.5h0m-2 13.4h0m-4.6-14.9h0m2.2 14.6h0m3.7 7.2h0m1-6.2h0m-3.3-19.5h0m-.4 12.7h0m-2.2 8.5h0m1.2-9.9h0m5.7 .7h0m-7.1 4.6h0m-4.3-.2h0m3.9 2.6h0m.7-19h0m11.4 14h0m-9.4-14.6h0m2 17.5h0m-4.8-3.5h0m8.5 .8h0m-4.7-6.1h0m1.4 4.5h0m4.5-3.1h0m-8.5 14.4h0m-2.2-11.3h0m4.9-12.1h0m-.4 5.6h0m.7 5.3h0m-4.1 12.8h0m1.1-9.9h0m2.7-15.9h0m-2.9 11.8h0m4.6-8.5h0m.3 3.4h0m-7.6 9h0m2.9-6.9h0m4.2 15.1h0m-.2-4.8h0m-1.8-5.3h0m2.8-9.8h0m2 3.3h0m-7.5 5.8h0m7.5 15.8h0m-3.8-18.6h0m4.8 2.3h0m-4.6-11.3h0m-3.6 21.8h0m1.9-2.6h0m-3.5-8.6h0m5.3-3.1h0m-.6 8.2h0m3.7-9.9h0m-4.6 6.4h0m.8-9.4h0m-.7 13.6h0m-.8-5.2h0m-.4 3h0m.2-1.7h0m7.8-2.4h0m-6.4 4.5h0m7.1-4.9h0m-6.7-5.1h0m1.5-3.5h0m-.9 6.9h0m2.6 11.1h0m-7.2-6.3h0m5.6 2.3h0m-2.2-1.2h0m-6.2-16h0m2.6 10.4h0m2.1 7.9h0m1.5 1.1h0m-2.8-14.5h0m6.9 11.4h0m1.2 2.9h0m-8.1 7.6h0m-1.4-22.5h0m6.1 4.1h0m3 11.4h0m-11.2-11.7h0m1 4.3h0m5.8 9.1h0m2.3-.5h0m-3.4-7.8h0m-5.3 7.1h0m7.2-1.8h0m5.6-3.6h0m-10 3.4h0m5.7-8h0m-2.6 16.4h0m2.8-11.6h0m-7.5-4.9h0m6.3 6.7h0m-4.5 12.9h0m1.9-17.2h0m-4.9-7.1h0m8 19.7h0m-7.7-13.9h0m6.7 17.8h0m-.8-7h0m3.5 3.6h0m-8.8-3.9h0m3.5-10.1h0m-.2 1.4h0m10.9-21.8h0m13.1 7.4h0m2-.8h0m-9.8 1.2h0m.8 4.5h0m1.3-11h0m-4 1.6h0m-1.7 .8h0m7.6 3h0m10.1-7.8h0m-9.2 11.9h0m-.9-10.4h0m-2.9 1.6h0m-4.9 .7h0m-3.8 6.2h0m15-4.2h0m-10-4.3h0m9.7 4.7h0m1.2-2.6h0m5.5-1.8h0m-21.3 2.9h0m15.1 .9h0m-.9 1.9h0m-14.7-.2h0m14.3-4.4h0m-5.3-5.1h0m3.5 5h0m-2.9 1.8h0m-11.3 2.7h0m13.6 2.3h0m-6.7-3.3h0m2.8-1h0m4 .7h0m2.7 3.3h0m-2.2 0h0m1.6-10.5h0m3.5-2.3h0m-7.2 12.3h0m-9.9-1h0m13.6 .2h0m6-3.2h0m-9.4 6.1h0m-1.7-5.7h0m-2.2 4.6h0m4.2-5.5h0m-6.4-.4h0m10.3 8.9h0m-1.4-10.4h0m2.5-.8h0m-9.6 1.9h0m4.6 3.5h0m-5.8-2.7h0m.2 5.9h0m5.3-7.1h0m.7-2.5h0m-3 10.2h0m.4-10h0m-.8 8.6h0m-3.6 1.5h0m3.1-.2h0m-3.3-1.8h0m3.1-5.1h0m1.6 5.9h0m10.6-5.2h0m-10.2 3.8h0m2.9-5.6h0m4.8 4.6h0m-6.4 7.5h0m3.1 16.8h0m-22.5 8.5h0m10.1-17.7h0m-11.5 18.6h0m14-26.3h0m2.8-.3h0m-16.8 7h0m11.9 14.5h0m.7-4.2h0m8.6-11h0m-11.1-6.6h0m-11.7 12.1h0m25.8 1.5h0m-6.3-1.7h0m-2.3 4.2h0m8.3-23.6h0m-12.2 25.7h0m14.3-9.6h0m-6.1-3.9h0m-6.4-5.8h0m-6.5 19.5h0m8.9 0h0m15-12h0m-12.8-20.7h0m-12.3 36.4h0m10.8-12.7h0m2.4-2.3h0m-9.2-18.7h0m-2.6 .8h0m8.4 31.5h0m16.6-22.5h0m-21.7 13.4h0m8-3h0m-20.7 13h0m20.5-19.2h0m-15.6 .7h0m14.6-.1h0m-16-3.1h0m16-9.8h0m-4.6 13.3h0m-8.2 4.6h0m2.5 3h0m8.5-10.9h0m-16.5 1.7h0m13.2-7h0m5 19.3h0m4.6-17.1h0m-.3 6.8h0m-13 2.8h0m11.9-21.1h0m-9.8 19.8h0m7 13.6h0m.3-12.2h0m-9.6 19.5h0m10.2-27.4h0m-3.7 1.7h0m4.9 14.2h0m-8.8-25.2h0m14.9 3.9h0m-8.3-8.2h0m-7 18.7h0m-3.3 10.3h0m17.6-34.4h0m-10.1 42.7h0m8.5-15.3h0m-19 16.8h0m1.8-10.7h0m14.4-2.3h0m-2.8-7.1h0m-5.7 3.8h0m-13.1-6.3h0m31.9 10.3h0m-7.2-14.3h0m-20.7 18.1h0m18.3-7h0m-19.4-6.8h0m18.6 8.5h0m-7.6-19.8h0m14-10.7h0m-6.4 37.5h0m2.4-17.5h0m-13.5 12.2h0m16.6-13.8h0m-24.7 18.6h0m9.8-8.7h0m10.3 5.2h0m-18.8 13.7h0m11-20.1h0m-10.5-15.8h0m6.3 30.5h0m-5.7-19.3h0m6.9 4h0m4.4 9.6h0m-7.8 1.2h0m6-25.3h0m3.1 11.2h0m9.3 20.7h0m-5.8-19.1h0m.6 12.1h0m-17.2-9.3h0m21.7-5.2h0m-18.1-8.6h0m.3 19.3h0m7.7-2.8h0m9.4-3.4h0m-23.4-.5h0m6.2 2h0m3.5 1.1h0m-2.1-7.7h0m-7.4 7.9h0m7.7-13.7h0m4.7 18.9h0m-12.9-10.5h0m-2.3-5.1h0m19.1-1.8h0m-4.3 20.6h0m1.9-11h0m5.4-8.2h0m-20 17.3h0m-.2 3.9h0m6.4-3.6h0m8.3 1.1h0m-1.1-20.8h0m10 19.6h0m-10.7-12.9h0m-16.6 10.7h0m33.6-7.1h0m-18.2 12.4h0m4.5-13.9h0m-.2 14.9h0m-8.9-29.4h0m4.2 22.9h0m-4.7-3.8h0m3.8 12.4h0m10.7 .1h0m-4.4-18.4h0m-4.5-14.7h0m-4.3 28h0m2.1-9.3h0m16.4-18.4h0m-2.7-5.5h0m9.1 7.6h0m-8.9-3.4h0m-7 7.6h0m-1.9-4.6h0m18.5 2.5h0m-9.5-9.6h0m-6.5 13.1h0m9.9 5.9h0m2.3-13h0m-11.5-5.4h0m8.6 .7h0m-6.2-5.3h0m3.7 11h0m3.4-.9h0m-3-7.7h0m.7 4.7h0m-3 .2h0m-.4 1.1h0m10.3-10.3h0m-3.3 4.1h0m-8.6 3.4h0m-.6 10.8h0m5.7-.2h0m2.9-4.2h0m-3.8-1h0m-2.2-3.5h0m13.9 4.5h0m1-1.8h0m-7.6-5h0m-4.7 1h0m-9.2 16.4h0m8.3-21.4h0m1.5 3.6h0m3.9-2.7h0m-23.1 17.3h0m24.6-12.9h0m-15 3.3h0m-.1-2h0" fill="none" stroke="#111" stroke-opacity="0.82" stroke-width="1" stroke-linecap="square"/>
</g>
<line x1="201.7" y1="220.2" x2="201.7" y2="272.2" stroke="#333" stroke-width="1"/>
<line x1="185.9" y1="244.1" x2="240.6" y2="244.1" stroke="#333" stroke-width="1"/>
<rect x="185.9" y="220.2" width="54.69999999999999" height="52.0" fill="none" stroke="#333" stroke-width="1"/>
<text x="235.8" y="227.5" font-size="8.5" font-family='"Liberation Serif", serif' font-weight="normal" text-anchor="end" fill="#222">5.17</text>
<text x="216" y="163.2" font-size="8.3" font-family='"Liberation Serif", serif' font-weight="bold" text-anchor="middle" fill="#111">SB+TCCM cells</text>
<g clip-path="url(#c04)">
<ellipse cx="266" cy="201" rx="6" ry="8" transform="rotate(10 266 201)" fill="#111" fill-opacity="0.8" filter="url(#bl)"/>
<path d="M262.3 199.4h0m8.7 4.4h0m3.5-9.1h0m-10.1 .4h0m-1.4 15.5h0m-1.9-12.1h0m-1.6-.9h0m13.5-2h0m-.1-3.8h0m-9.4 6h0m2.1-7.6h0m.6-.7h0m6.3 16.1h0m-7.1 1.6h0m-2 7.6h0m7.8-10.9h0m-3.1 8.4h0m-.3-22.7h0m1.7 18h0m-8.1 .9h0m3-6h0m-2.8 .8h0m7.6-12.2h0m-7.6-3.1h0m7.5 11.2h0m3.4 8.6h0m-9.3-3.3h0m7.2-.1h0m-12.7-4h0m4.9 1.3h0m-1.6 6.6h0m4.2-5.3h0m8.8-6h0m-2.7 13.9h0m-2.8-25.4h0m-9.5 17.4h0m8.2-7.2h0m-5.4 12.5h0m-4.1-3.2h0m11.7 3.9h0m-5.1-2.9h0m6.3 1.2h0m.2-6.4h0m-7.9 9.1h0m.6-.9h0m10.5-11.9h0m-9.2 17.7h0m-1.2-7.7h0m10.6-9.7h0m-2.5 9.6h0m-6.2-11.9h0m.7-2.7h0m-1.9-4h0m8.4 18.3h0m-12.9 1h0m3-10.2h0m10 1.1h0m-10.7 .1h0m10.7 2.4h0m.4 5.9h0m-.6-3.7h0m.1 .3h0m-11-8.8h0m-1.6 .1h0m10.3 .4h0m-9.2 3.6h0m12.4 2.5h0m.9 7.5h0m-3.6-3.5h0m-10.2-3.3h0m.6 12.2h0m8.3-7.5h0m-7.9 5.4h0m4.7-17.1h0m-5 5.8h0m1 3.5h0m1.6-8.2h0m-.1 .4h0m-4.6 7.5h0m5.3-4.2h0m-3.9-.2h0m9-6.4h0m-1.1 6.2h0m-.1 8.8h0m5.2-5.9h0m-1.2-5.6h0m-1.3-1.3h0m1.3 7.2h0m-2.7 .6h0m1.3-7.2h0m-7.3 6h0m2.4 12.9h0m-3.6-6.3h0m7.7-2.8h0m-.6 .1h0m-5.4 1.2h0m.4-1.4h0m-.7-13.5h0m-3.2 5.6h0m3.5-12.1h0m-1.4 17.2h0m3.7-10.1h0m1.9 17.3h0m2.3-14.2h0m-1.3-8h0m-7.3 9.1h0m-3.4 9.7h0m14.8-2.5h0m3.9 .5h0m-18-1.6h0m-1.1-5.5h0m2.7 12h0m2.2-19h0m2.7 .6h0m-.9 10.7h0m4.1-6.7h0m-3.7 7.9h0m6.6-12.9h0m-8.1 14.5h0m2.8-.4h0m-4.2 6.6h0m4.6-9h0m-8.8 1.7h0m15.2 2.3h0m2.2-7.5h0m-10.7-3h0m5.1 15.2h0m-13-6.4h0m18.5-3.8h0m-5.4 6.2h0m1.6-15h0m-12.7 5.4h0m8-.1h0m.6 11.3h0m.4-2.8h0m5.4-9.1h0m-6.4 5.5h0m-2.4-3.4h0m-1.2 11.6h0m13.6-3.6h0m-9.7-4.8h0m3.6 6h0m-4.7-5.3h0m-7.6-7h0m15-2.3h0m-8.8-6.3h0m8.6 12.4h0m-15.5 8.7h0m12.6-7.9h0m-10.1-6.8h0m1.8 1.1h0m6.3 2.8h0m-9.8 3.1h0m12.1 6.9h0m5.9-1.7h0m-3.9 7.1h0m4.6-16.1h0m-8.3-1.2h0m2 1.3h0m3.3 2.8h0m-2.5-1.2h0m2.9 .1h0m-5.2-.9h0m-4 5.6h0m1.4-6.6h0m6.4-1.9h0m3.5 5h0m-9.5 12.3h0m4.5-6.7h0m2.3 4.6h0m-1.4-14h0m-5.7 .3h0m-6 11.7h0m9.5-4.4h0m3.4-3.3h0m-5.1-8.5h0m-7.2 8h0m9.7 4.1h0m-3.8-5.1h0m-1.8 11h0m5.7-7.3h0m-4.7 2.2h0m3-.3h0m-4.3-12.5h0m5 .5h0m-7.9 20.9h0m-2-12.8h0m3.5 .3h0m-5.3-9.9h0m14.3 18.2h0m-14.6-15h0m1.1 16.6h0m12.8-19h0m-3.8 12.4h0m-11.3-5.8h0m12.5 6.5h0m3.5-9.2h0m.5 4.3h0m-10.5 2.5h0m11.2 1.5h0m-1.8-1.7h0m-2.1-6.7h0m.7-4.3h0m-7.7 20.5h0m9-7.8h0m-9.3-12.1h0m8.9 14.1h0m2.4-7.4h0m.1 2.8h0m-12.8-.4h0m3 8.3h0m-1.7-18.4h0m-1.4 6.1h0m-3.9 12.7h0m1.9-4.9h0m2.9-6.6h0m9.8-3.4h0m-14.1 13.1h0m7.5 3.3h0m-2 4.3h0m-3.6-19.7h0m3.1 13.1h0m-5.4-15.7h0m6.7 13h0m5.3-13.6h0m-9.6 10.6h0m12.7 2.6h0m-8.3 4.2h0m-1.1-3.8h0m5.3 4.7h0m-.3-9.2h0m-1.7-3.4h0m4.1 11h0m-4.3-17.7h0m4.4 8.6h0m-5.8 10.5h0m5.2-19.3h0m-4.2 12.4h0m-.4-4.1h0m-6.1 3.4h0m15.2-1.9h0m-3.2-10.7h0m-9.4 17.8h0m12.2-9.3h0m-5.7 .8h0m-3.5-3.2h0m-2.1 15h0m2.8-19.1h0m-1.5 9.7h0m-2.6 8h0m5.9 .9h0m8.9-22.4h0m-2.8 20h0m-1.3-4.7h0m-6.1-.8h0m.4 9.6h0m1.6-14.2h0m8.6 6.8h0m-10.1-12.9h0m2.3 8.3h0m-1.8-10.2h0m.9 17.1h0m-.2-14.5h0m-10.3 5.1h0m14.1-1.7h0m-5.9 3.7h0m-2.5 4.1h0m1.9-9.8h0m-5.5 3.1h0m12.3 2.4h0m-.5 8h0m-2.9-11.4h0m-2.3 2h0m5.4 5.9h0m-10.8-13.5h0m-3.4 5h0m5-6.5h0m-2.3 12h0m3.1 9.3h0m-2.1-18.3h0m-3.3 13.8h0m1-16.8h0m12.6 3.1h0m-1.3 22h0m-.9-19.1h0m-6.5 9.4h0m.6-7.9h0m6.5 7.4h0m.8-.5h0m-5.5-8.1h0m-4.7 .3h0m9.9 .6h0m-1.1 1.5h0m-9.8 14.4h0m13.3-6.6h0m-14.4-17.4h0m-2.7 7.6h0m12.5 .7h0m2.9 4.6h0m-9 8.5h0m6.1-13.4h0m1.7 6.6h0m-13.1 5.5h0m18.7-19.3h0m-17.3 19.8h0m6.2-9.4h0m-1.8-7.8h0m.3 4.8h0m9.6 10.2h0m-13.9-9.8h0m8.8-6.5h0m-8.1 7.9h0m10.5 9.6h0m-2.9-9.2h0m.6 12.2h0m1.6-5.4h0m3.3-9.5h0m-11.7 8.8h0m-2.9 2.6h0m-.3-5.8h0m4.1 5.3h0m-4.3-1.7h0m10.8-10.2h0m-8.7-5.4h0m.7 6.6h0m6.6-2.8h0m-6.3-.1h0m.5-2.4h0m12.3-1.4h0m-8.9 1.8h0m-3 19.2h0m-2.9-16.2h0m15.9 8.1h0m-2.3-6.7h0m-6.7 1.1h0m1.3 .3h0m5.2 10.7h0m-6.6-1.8h0m-1.2-13h0m8.9 .2h0m-10.1 5.5h0m4.9 1.3h0m1.6-6.1h0m-3.9 18h0m8.8-17.5h0m-12.6 10h0m11.1-11.7h0m-12.6 18.1h0m-.4-18.6h0m12.8 1.2h0m-10.5-8.1h0m-1.3 10.4h0m1.1 4.7h0m-3.9-4.9h0m-.5 6.1h0m1.4 3.1h0m12.3-5.9h0m-5.1 .9h0m0-5.7h0m-7.2 9.7h0m7.5-13.8h0m-9.6 10.4h0m5.3 6.8h0m9.4-1.4h0m2-12.2h0m-.9 13.2h0m-12.4-9.2h0m-4.6-2.7h0m17.9 1.2h0m-6.3 2.4h0m-7.4 5.3h0m0-12.8h0m1.4 22.3h0m12-17.6h0m-10 5.3h0m8 8.3h0m-8.8-13.4h0m10.8-2.8h0m-6.5 13.4h0m-5.7-1.6h0m-6.7-6.2h0m16.6 2.5h0m3.5 0h0m-9.4-1.7h0m6.9-9.8h0m-15.4 19.3h0m12.2-17h0m-5.5-4.2h0m-6 11.7h0m.2-3h0m1.5 4.5h0m14.8-.7h0m-15.1 9h0m6.2-19.2h0m4.4 17.4h0m-13.1-11.5h0m7.7-5.8h0m2.7-1.4h0m-2.9 16.3h0m-.7 2.4h0m1.6-13.7h0m-4.3 .1h0m1.9-2h0m-1.3 3.3h0m-1.1 13.3h0m2.7-8.3h0m.5 8.1h0m2.1-10.1h0m-1.7 5.3h0m-5.4-.4h0m10.1 8.9h0m-15.5-10.8h0m5.3-2.8h0m-.6 4.8h0m10.1-6.2h0m2 17.8h0m-6.2-11.6h0m-3 6.3h0m11.2-18h0m.9 5.7h0m-1.8-1.9h0m-7.4 15.8h0m-3.8-17.1h0m-.5 15h0m8.8-7.1h0m-2.5-.7h0m4.1-3.5h0m-9.9 12.9h0m2.2-9.4h0m9-7.6h0m2.6-.5h0m-10.2 5.9h0m5.8-3.8h0m-3.7 13.6h0m2.5-16.7h0m-6.3 18.1h0m8-10h0m5.8-1h0m-16.9-2.6h0m10.2-6.8h0m2.7 20.1h0m-1.2-5.1h0m-3.2-.7h0m4.7 10.3h0m-11.3-19.9h0m7.3-.4h0m-5 13.1h0m3.6-8.1h0m-4.1 2.7h0m-2.6-1.9h0m8.1-8.9h0m-4.8 20.6h0m-5.5-9.8h0m2-6.5h0m3.9-5.2h0m7.1 9.1h0m4.9 5h0m-6.2-5.3h0m-3.8 4.1h0m-1.9-6.1h0m-3.3 8.8h0m.2 2h0m1.6-10.8h0m3.9 4.7h0m2.9 2.8h0m4.4-7h0m.7 15.7h0m-4.5-11.5h0m.5-10.9h0m4.8 4.2h0m-3.9-.5h0m-6.2 8.8h0m-1.7-9h0m-.6 11h0m7-9.1h0m-2.6-2.3h0m-.9 15.8h0m-6.3 2.9h0m.8-10h0m5 7.5h0m-3.4-17.9h0m7.4 1.5h0m-3.9 19.1h0m-7.3-7.7h0m9.7-9.1h0m-5.8-2h0m11.3 3.1h0m-12-.6h0m1.4 7.7h0m3.7-5.9h0m4.3 6h0m-7.4-2h0m2-1.7h0m-1.3-6.9h0m5.1 4.7h0m.7-5.9h0m2.5 .9h0m-10.9 15.9h0m13.1-11.2h0m-12.5 8h0m1.9-7.2h0m1.1-1.5h0m-7.6 3.2h0m2.3-2.3h0m4.4 2.6h0m8.6-10.2h0m-12.1 2.9h0m1.1 5.6h0m2.9 8.5h0m3.7-1.9h0m-3.8-1.9h0m12.1-8.5h0m-16.7 11.9h0m-.6-6.3h0m10 6.4h0m5.8-7h0m-10-8.5h0m6 3.6h0m-3.4 6.9h0m-12.5 1.4h0m7.8-14.9h0m12.7 6.6h0m-10.6-4.5h0m3.3 18.2h0m-9.8-7.1h0m12.1 2.8h0m-9.5-7.4h0m-2.7 3h0m-.8-5.6h0m.3-3.8h0m3.5 6.3h0m-.8-3.5h0m11.2 10.1h0m5.6-10.1h0m-17.9 3.1h0m4.2 6.8h0m4.4-5.5h0m4.1 6.6h0m-4.6-14.2h0m-6.3 6.7h0m-.9-.8h0m3-6.4h0m-7.3 18.8h0m16.5-3.2h0m-2.5-4.4h0m1.7-5.9h0m-5.2 3.9h0m3.7 9.5h0m1.5-.2h0m-9.3-6.8h0m9.5-1.4h0m-7.1-5.5h0m9.1 10.3h0m-1.6-3.2h0m-5-2.7h0m3.2 17.9h0m-2.5-5.7h0m-2.2-10.8h0m-4.6-.6h0m-.1-7.9h0m4.8 17.7h0m-.1-20.6h0m-7.2 10.2h0m13.1 4.6h0m-6.4-4.2h0m6.3-5h0m2.9 1.5h0m-16.1 10.9h0m2.9-9.6h0m1.2 1.8h0m5.4-2.5h0m3.2 12.7h0m-3.2-19.4h0m1.7 2.3h0m4.7 10.9h0m-7.5 1.8h0m6.5 4.7h0m-13.6-1.7h0m13.3-7.1h0m-4.2 .1h0m-3.1 5.9h0m6.2-4.4h0m-9.2-2.3h0m-1.8-2h0m6.3 3.6h0m-5.7 7.7h0m12.1-6.8h0m-5.6 5.1h0m5.1-9.5h0m-11.8 8.1h0m10.5-14.3h0m-6.8 .3h0m5 16.1h0m-4.4 3.8h0m1.3-9.6h0m-4.6-1h0m10.5-7.4h0m-8.9 15.2h0m9.4-8.2h0m-12.3-8.6h0m4.3 12.1h0m11.5-19.3h0m-12.9 15.7h0m-3-8.9h0m7.2 10.9h0m-.2-9.6h0m-7.5 12h0m5.3 4.9h0m2.6-13.1h0m-11.1-2.3h0m7.4 2.4h0m11.7 2.2h0m-3-3.6h0m-.9-7.7h0m-7.6 9.9h0m-6.8 3.7h0m7.5 5.1h0m5.4 7.7h0m-2.4-5.9h0m-1.7-1.6h0m.7 5.6h0m.3 1.4h0m-2-2.9h0m4-2.4h0m-1.4 1.2h0m2-1.3h0m-1.4 .5h0m2.6 4.1h0m-6-4.6h0m.1-4.4h0m-1 2h0m5.5 4.9h0m-.4-6.4h0m-4 8.5h0m4.9-.1h0m-3.2-1.3h0m.2-9.8h0m1 6.8h0m1 1.6h0m-.1 4.3h0m-.7-.4h0m3.6-7h0m-2.8 7.3h0m-2-6.1h0m-1.3-.7h0m-3.5-.9h0m7.4 .1h0m-4.8 .5h0m-.5 4.8h0m5.2-3.1h0m-2.5 1.6h0m3.5-4.6h0m-.8-1.2h0m.6 7.2h0m1.2 0h0m-5.6 1.7h0m-.6-4.5h0m.7-3.8h0m5.4 6h0m.6-2.8h0m-2.9-2.3h0m-3.1 1.8h0m1-5.4h0m.9 7.7h0m-1.2 2.8h0m2.6-4.3h0m-3.2 1.6h0m2.1-6.6h0m2.1 4.7h0m-4.8 2.8h0m2.9-5.1h0m-3-1.3h0m4.7 4.2h0m-4.2-.9h0m5.4 1.8h0m-1.9-5.4h0m-4.5-.2h0m4.6 4.1h0m2.2-1.8h0m-6.8 3.7h0m4-3.5h0m2.6-1.1h0m-2.8 4.6h0m-.5 3.5h0m-4.3-1.3h0m6.1-8.3h0m-2.2-.6h0m-2.2 7.4h0m4.2-7.3h0m-4.7 6.5h0m2.4-1.5h0m2.5-4.1h0m-2.8 4.8h0m4.3-4.6h0m-6.8 .1h0m3.2 1.5h0m.1-.8h0m-1.1 .9h0m2.6-1.8h0m3.6 2.1h0m-2 3.1h0m1.5-2h0m-2.3 1.4h0m-4 0h0m-2.9-1.6h0m6 5.1h0m-2.7-12.1h0m-2.6 7.5h0m3.4 7.3h0m0-4.7h0m-3.2-3.4h0m4.7-.2h0m-3.2 5.8h0m-1.7-4.8h0m4 2.8h0m-2-4.1h0m.5-.4h0m-1.3 6.9h0m2.9-32.6h0m.7-3.1h0m-5.3 2.3h0m-1.2-1.7h0m8.1 0h0m-4.3-.1h0m6.7 .8h0m-10.1 3.6h0m13.4-5.2h0m.8-.4h0m-4.8 12.3h0m-4.4-2.5h0m.1 2.2h0m-.2-3.3h0m6.6-4.1h0m-17.4-7.5h0m4.7 10.2h0m15.8-6.1h0m-4-2.4h0m-3.9 9.6h0m-3.6-4.4h0m2 7.9h0m4.7-12.4h0m-10.9-2h0m2.8-4.1h0m10.8 17.8h0m-13.6-10.2h0m9.7-.9h0m-9.9 .5h0m6 10.3h0m-3.9-14.3h0m7.3 9.3h0m-10.5-4.9h0m3.6 5.9h0m8.3 .7h0m-4.2-4.2h0m1-.2h0m-5.7-4.4h0m3.5 8.8h0m.9 5h0m-2.3-20h0m-.6 14.1h0m-9.3-8.8h0m8.9-7.5h0m-7.7 28.5h0m2.1-22.8h0m6.8 8h0m4.9 9.5h0m-9.2-10h0m6.2-6.3h0m6.1-1.5h0m-12.5 7.8h0m.8-4.4h0m3.7 4.9h0m-4.8-14.5h0m12.1 10.6h0m-10.4 10.6h0m4.2-2.9h0m-.5-11.1h0m4 7.1h0m-5.2-11.6h0m-2.3 7.2h0m1.3 3.6h0m-3.2-9.4h0m10.5 16.8h0m-1.3 0h0m3.7-3.8h0m-6.7 6.2h0m.2-4.8h0m-7.3-5.5h0m11.7 6h0m-7.4-6.6h0m-4 16h0m5.7-17.3h0m9.9 5.9h0m-5.5 2.3h0m1.1-1.2h0m3.6-2.3h0m-16.8-8.5h0m12 13.1h0m-7.3-6.7h0m10.8-1.3h0m-.6 2.2h0m-3 10.1h0m-2.2 .5h0m-5.7-11.1h0m.8-12.5h0m13.4 6.9h0m-20.8-4.8h0m7.4 6.8h0m7.1 6.7h0m-.3 3.3h0m-1.2-7.7h0m2.5 5.5h0m-1-7.9h0m6.2-7.8h0m-14.9 8.2h0m3.2 7.5h0m5-3.8h0m3.5 10h0m2.6-8.2h0m-26.4-1h0m12.3 6.2h0m10-5.1h0m-12.9-9.9h0m14 13h0m-7-10.9h0m5.8-1h0m-14.3 17h0m6.9-12.7h0m2.4-2.5h0m-.2 3.5h0m4.8 4.4h0m-1.7-2.5h0m3.2-2.3h0m.8 6h0m-1.3-6.3h0m-8.2 3.1h0m6 2.1h0m-12.7-7.7h0m16.8 4.4h0m-6.5 2.3h0m6.4-15.1h0m-7.4 13.7h0m-8.6-9.7h0m17.5 1.4h0m-16.7 7.5h0m9.6-5.4h0m6.3 18.7h0m-8.6-15h0m2.1 5.4h0m1-10.1h0m3.4 .3h0m-3.1 4.1h0m-6.6 6.4h0m.6-1.5h0m6.8 3.8h0m-10.5-9h0m9.4 3.2h0m1.5 .8h0m-5.3 9.8h0m6-16.3h0m1.2 15.1h0m-18-7.3h0m8.8-4.9h0m2.6 2h0m1.3 8.9h0m-3.2-9.4h0m7.4 .1h0m-14.3 2.7h0m4.9 1.6h0m-5.8 2.7h0m7.4-12.5h0m7.1 6.2h0m-7.6 5.3h0m8.8 7.8h0m-2-15.5h0m-.5 1h0m-7.7 8.1h0m-8.4-8.5h0m14.1 3.7h0m2.6 6.9h0m-5.6-.6h0m7.8-9.1h0m-2 4.1h0m.8-10.2h0m-5-4.9h0m-4 8.9h0m6.1 3.1h0m1.6-9.1h0m-2 18.6h0m-4.3-11.9h0m6.8-.6h0m3.8-2.5h0m2.2 .3h0m-4.7 7.5h0m-9.7-1.9h0m9.4-6.1h0m2.8-2h0m-6.5 4.4h0m-10.6-2.7h0m11.9 4.4h0m-6.7 7.9h0m7.4-5.3h0m-3.7-9.4h0m-.4 13.6h0m5.6-3.5h0m-17.2 5.1h0m8.3-13.2h0m3.1 13.9h0m-8.5-18.6h0m4.9 17h0m9 .1h0m-2.6-6.4h0m-5 .3h0m10.5 3.5h0m-.7-10.4h0m.6 2.9h0m-14.9 2.9h0m-4.1 6.6h0m-8.8 16.6h0m9.6-1.1h0m-.6 7.2h0m.3-5.5h0m-5.5 .3h0m3.7-3h0m.5-.9h0m-1.7-10.1h0m-1.4 3.5h0m1 .3h0m-4.5 9.1h0m10.2-6.3h0m-8.8 7.9h0m4.8-2.9h0m1.3-1.6h0m1.3 2.4h0m-4.8-.4h0m5.1 6.7h0m-4.4 5.6h0m-1-24.6h0m-3.3-.1h0m5.2 7h0m-1.2-2.9h0m.7 .6h0m-1.4 10.8h0m.6-1.4h0m-4.4-17h0m6.9 11.9h0m-4.2-11.9h0m.4 11.6h0m3.3-8.5h0m-7.8 8h0m5.1 5.6h0m.7-3.5h0m-1.9-9.5h0m-1.8 23.4h0m4-17.5h0m2.3 2.5h0m-3 7h0m.8-17h0m-8 5.3h0m1.6 6.8h0m6-5.4h0m-4.8 5.6h0m8.2-4.2h0m-1.6 1.8h0m-3.8 7.3h0m.6-9.6h0m8.8 5.9h0m-7.4 0h0m1.5 1.2h0m.7 .9h0m1.4-6.5h0m-7.3-9.3h0m0 22.7h0m9.5-23.1h0m-4.6 9.5h0m4.1-4.6h0m-8.7 16.3h0m2.3-3.8h0m4.4-9.6h0m1.3-4.9h0m-11.2 5.8h0m11.7-4.9h0m-3.4 18.9h0m-4.2-17.8h0m-2.5 5.1h0m3.9 11.5h0m7.5-3.3h0m-4.1-6.6h0m-9.4 2.6h0m10.6-8h0m-8 5.2h0m1.9 .2h0m3.3 11h0m-5.1-2.5h0m5.3-18.5h0m-1.5 2.5h0m-3.9 .6h0m-.6 9.5h0m14.6 3.1h0m-10.8-12h0m-.8 4.5h0m.8-11.1h0m7.9 9.7h0m-6.6 9.1h0m-.8-11.8h0m.4-8.7h0m5.2 6.6h0m-6.4 .7h0m-3.9-1.5h0m1-11h0m1.7 15.8h0m4.3-3.3h0m2.3 9h0m14.7 2.8h0m-9-2.1h0m-13.4 12.3h0m10.8-46h0m6.1 32.3h0m2.7 4.3h0m-.5-1h0m-6.8 8h0m21.9-3.2h0m-19.3-7.3h0m-6.1-6.5h0m7 18.3h0m-2.7-3h0m-10.5-18.2h0m1-1.3h0m12.5 4.7h0m-10.1-.2h0m8.2 10.1h0m-1.6 5.2h0m4.7-2.1h0m11.8-18.2h0m-.1 1.3h0m-19.7 9h0m27.7-.3h0m-4-6.8h0m-13.7-8h0m-4 24h0m-5.5-6.5h0m-6.9-12.4h0m17.9 13.9h0m-8.2-26.5h0m-2.9 30.9h0m17.7-27.8h0m-31 23.4h0m19.6-14.4h0m23 8.3h0m-17.9-5.4h0m-1.6 12.9h0m-4.4-15.1h0m-1.1-1.5h0m3.3-.5h0m9.3 24.3h0m.6-18.6h0m-20.5 11.9h0m16.2-7.7h0m-14.1-5.4h0m20.4-1h0m-4.3 9.5h0m-14.2 3.1h0m1.1 4.9h0m3.4-15.7h0m-3.3-3.8h0m-9.1 1.4h0m18.7 8.9h0m-6.8-8.2h0m8.7-11.4h0m-12.3-.7h0m6.2 33.5h0m-14.6-26.7h0m24.4 .2h0m-1.4 4.9h0m-11.3-.8h0m.9-4h0m3.9 .9h0m-4.5 16.7h0m.5-25.3h0m1.7 23h0m-4.6 1.2h0m15.5-13.9h0m-10.8 4.5h0m1.3-13.9h0m-3.5 25h0m11 5.8h0m-16.3-42h0m8.9 22h0m7.6-11.1h0m-10.3 2h0m-.6 33.2h0m11.5-15.1h0m-2.7-1.3h0m-9.8 16.1h0m11.9-18.2h0m-.1 2.2h0m1.4-24.8h0m-20.2 19.3h0m10.6-2.5h0m.9-2.1h0m-8.8 5.3h0m-3.8 14.4h0m-3.3 3.7h0m10.8-23.9h0m19.6-.4h0m-29.7 6.5h0m23 5.2h0m-6.4 2.5h0m-2.2-30.3h0m11.4 30.2h0m-5.1 2.7h0m-7.5-16.3h0m2.7 5.2h0m3.7-14.8h0m4.6 30.1h0m-21.5-31.3h0m10.6 12.6h0m-2.9-1.6h0m-12.8 19.4h0m-.1-3.3h0m15.6-19.6h0m-1.8 15h0m6.3-1.1h0m4-26.7h0m-17.3 2.3h0m.4 24.2h0m12.3-8h0m-18.5 18.4h0m12.9 .9h0m-14.6-37.1h0m28.3 26.9h0m-10.3 8.4h0m13.3-19.3h0m-22.2 24.1h0m12.1-29h0m4 1.5h0m.6 9.6h0m-20.3 4.4h0m8.3-3.7h0m3.6 5.6h0m4.2-.5h0m-10.8 13h0m12.3-14.5h0m-4.6-2.5h0m-8.8-13.6h0m11.4 26.8h0m-1-22.3h0m-2.6 12.1h0m-10.4 2.5h0m26.4-17.9h0m-27.3 10.3h0m9.8-3.1h0m14.7-17h0m-1.3 3.5h0m-11.1-6.8h0m1.7-.5h0m16.6 11.6h0m-11.8-10.7h0m-.7 10.6h0m-10.6-8.3h0m25.2 .1h0m-5.8 7.8h0m-3.2-2.2h0m1.6-.7h0m-13.6 3.5h0m19.1-7.9h0m-16.5 2.9h0m7.6 1.9h0m.2-2.2h0m-6.9 4.9h0m5.3-.3h0m3.2-11.5h0m1.7 9.3h0m-4.8-2.5h0m-2.2-.5h0m6.1-2h0m-5.7 6.6h0m-3.9-6h0m19.4 6.1h0m-15.7-7.4h0m-6.3 6.8h0m13.1 6.1h0m-3.6-6.5h0m11.6 1.8h0m-12.4-7.1h0m2.1 4.7h0m-1-9.6h0m5.8 8.7h0m-7.5 1.7h0m-3.4-4.3h0m10.6 5.7h0m-3.2-7.2h0m.4 2.5h0m-5.6 5.7h0m-7.6-6.1h0m19.8 4.1h0m-9-14.1h0m3.1 8.5h0" fill="none" stroke="#111" stroke-opacity="0.82" stroke-width="1" stroke-linecap="square"/>
</g>
<line x1="262.2" y1="165.6" x2="262.2" y2="217.6" stroke="#333" stroke-width="1"/>
<line x1="242.3" y1="188.6" x2="296.2" y2="188.6" stroke="#333" stroke-width="1"/>
<rect x="242.3" y="165.6" width="53.89999999999998" height="52.0" fill="none" stroke="#333" stroke-width="1"/>
<text x="292.4" y="172.9" font-size="8.5" font-family='"Liberation Serif", serif' font-weight="normal" text-anchor="end" fill="#222">12.43</text>
<g clip-path="url(#c14)">
<ellipse cx="261.5" cy="254" rx="5" ry="9" transform="rotate(8 261.5 254)" fill="#111" fill-opacity="1.0" filter="url(#bl)"/>
<path d="M260.8 253h0m-.9 8h0m7.3-11.8h0m-6.1 15.4h0m-1-9.2h0m3.2-.6h0m-3.2 .2h0m2.1-10h0m3.2 16.4h0m-1.8-11.8h0m4.1-3.6h0m-1.6 2h0m-4.1 2.4h0m-1.4-.7h0m1.4-1.3h0m3.8-2.4h0m-.9 17.3h0m-5.4-7.5h0m-2.4-.9h0m14.3 1.1h0m-10 5.2h0m-.4-3.9h0m6.2-1.8h0m-5.4 4.8h0m2 .6h0m1.7-6.4h0m-3.2-5.3h0m-4.3 10.6h0m2.1-10.2h0m7.4 4.8h0m-1-7.9h0m-9.7 1.1h0m.7 1h0m.8 15.3h0m0-11.5h0m3.6-8.4h0m-2.4 13.2h0m7.4-3.8h0m-8.4-6.4h0m1.8 2.5h0m.8 11.6h0m-3.1-9.4h0m4.2 2h0m4.4-5.1h0m-8.6 14.9h0m7.7-14.9h0m-.9-4.5h0m-3.3 1.8h0m3.6 11.1h0m-1-11.6h0m-2.1 9.8h0m2.7-3.7h0m-10.3 .2h0m11.9-2.3h0m-4.5 10.4h0m3.3-6.1h0m2.5-12.2h0m-10.2 8.4h0m1.9-3.6h0m1.8-1.7h0m2.1 1.3h0m-2.3 11.5h0m7.4-5.9h0m-7.7 .7h0m-3.5 11h0m6.9 .2h0m-.9 5.2h0m-2.1-8.1h0m-4.9-7.4h0m10-11.3h0m-6 9.8h0m2.9 2.5h0m1.6 9.3h0m-9-7.2h0m9.2-14.7h0m-6 22.1h0m6-3.9h0m2.8-8.2h0m-3.8 8.5h0m-4 7h0m5.9-3.9h0m-9.9-4.7h0m.2-.2h0m3.6-.4h0m1-10.6h0m6.4 6.8h0m-11.7-2.5h0m9.6 1.3h0m-7.9 15.2h0m7.4-16.7h0m-7.5 7.2h0m7.6 3.6h0m-.8 2.9h0m-.8-15.3h0m-.4 9.2h0m-3.2-5.5h0m6.9 2.8h0m-5.5-1.2h0m-2.8 6.7h0m10 .4h0m-7.2-14.9h0m-4.2 8.6h0m6.4-8.5h0m4.4 5.5h0m-10.5 5.1h0m8.3-11.6h0m-.5 15.7h0m-3.4-2.2h0m1.6-3h0m3.5-2.1h0m-8.3 12.4h0m9.3-9.8h0m-.7 1.2h0m-10.7 1h0m3.1-8h0m3.9-4.7h0m-4 1.3h0m2.2-1.3h0m-2.5 14.5h0m4.9-16.5h0m1 4.6h0m-5.5-7.3h0m5.9 21.1h0m1.1-12.4h0m-13 4.7h0m12.6 7.1h0m-.4-3.5h0m-8.9-6h0m1.4 15.6h0m9.5-11.5h0m-6.7-.8h0m4.5 5.6h0m3.4-7.2h0m-2.9 7.1h0m-4 1.7h0m3.3-18.5h0m.1 8.5h0m-3 3.3h0m-3.2-3.2h0m6.8-6.3h0m-7 5.9h0m5-9.4h0m-2.3 14.1h0m.8-6.7h0m-4.5 10.7h0m-1.8-11.2h0m2.9 8.8h0m3-4.1h0m-7.5 1.2h0m17.5-16.4h0m-9 21h0m-.9-4.2h0m-2.6 2.6h0m-1.9-11h0m.4 6.1h0m2.3-6.5h0m-2.1-.5h0m2.7 8.5h0m6.1-8.5h0m-.1-2.4h0m.3 5.1h0m2.9 3h0m-2.6-4h0m-4.8-5h0m-1.6-3.8h0m5.8 19.5h0m-10.5-5.7h0m10.5 4.3h0m-3.5-4.9h0m.2-2.3h0m-5.5 12.3h0m4-4.1h0m2.7-1.2h0m-1.3-5.8h0m-3.5 8.6h0m4.2-11.8h0m-4.3 11.9h0m-.2-4.6h0m2.1 5h0m-1.4-15.5h0m5.8 3.3h0m-6.6 6.9h0m4.8 .6h0m-1-1.8h0m2.7-6.6h0m-9 4.5h0m1.1-.6h0m-.8 4.2h0m.8 .9h0m.2-4.4h0m1.2 11.3h0m1.6-20.7h0m5 7.8h0m-4.1 8.7h0m4.3-10.3h0m-1.9-2.5h0m-6.6 13.9h0m-2.6-9.8h0m10 9.5h0m-1-4.4h0m-3 10.5h0m-3.8-14.3h0m5.1 6.8h0m-.4-4.9h0m-2.6-1h0m6.3-.9h0m-7.5-1.4h0m5.8 .9h0m-7.6 2.9h0m5.1-6.7h0m-2 17.4h0m.9-10.6h0m.1 9.3h0m.8-19.2h0m1.9-1h0m1.1 16.5h0m-3.2-5.5h0m-2.5 1h0m-.5 4.9h0m5-7.6h0m-3.2 0h0m-2.1 1.8h0m7.1-7.1h0m-5.2 17.4h0m-1.1-1.9h0m1.9-13.1h0m-2.4-2h0m5.5 7.6h0m-1.2 4.4h0m-6.2 1.8h0m2.4-1.2h0m4.3-8.6h0m4.8-11.4h0m-5.4 11.1h0m3.3-3.7h0m.5 3.4h0m3.6 0h0m-5.2-1.3h0m3.2 1.2h0m-2-.8h0m-3-6.2h0m-2 20.3h0m3.8-20h0m-1.4 15.9h0m-1.4-15.6h0m-1.5-1.2h0m6.7 8.7h0m-7.8 8.1h0m1.5 .1h0m1.7-6.9h0m-1.9 7h0m-2.5-2.6h0m2.4-7.2h0m-2.8 3.7h0m-1.1-2.7h0m3.3-7.1h0m-1.1 2.1h0m6.2 14.5h0m-8.7-3.7h0m14.5-.5h0m-8.2-8.3h0m4.5-1.9h0m-4.6 10h0m5-2.1h0m-10-3.8h0m3.6 4.3h0m.2 .2h0m3.9-3.2h0m-1.2 13.7h0m-2.6-15.3h0m.1 11.3h0m1.7-9.6h0m-3.3-5.1h0m.9 7.6h0m6.3 6.3h0m-.6-.9h0m-10-3.5h0m8.1 .4h0m3.2 .2h0m-2.4 3.3h0m-11.7-5.8h0m4.4-2.1h0m4.2 6.4h0m.4-13.1h0m1.7 12.1h0m-.7-9.2h0m1.3 10.1h0m-2.7-18h0m.8 12.6h0m3.3 2.3h0m.8-5.1h0m-2.4-7.8h0m-3.4 2.3h0m-1.2 3.7h0m-1 13.7h0m6.2-4.7h0m-6.4 1.6h0m1.4 .6h0m6.7 .9h0m-6.4-12.6h0m5 6.8h0m-5.8 5.6h0m3.6-2.2h0m-1.6-.3h0m1-16.5h0m5.2 4.7h0m3.4 7h0m-14.8 2.7h0m7-7h0m-2.1 8.1h0m-1.1-5.2h0m4.3-5h0m-3.2 .6h0m-.3 3.7h0m-.6-.2h0m.1 5.9h0m-.3-2.4h0m-4.6-4.9h0m2.9-1.3h0m-2.8 3.4h0m.7 3.8h0m7.7-2.7h0m-5.1-7.2h0m9.7-2.6h0m-13.4 11.6h0m7.1 7.5h0m-5.9-6.5h0m12.5-8.8h0m-3.8 10.4h0m-5-6.4h0m1.3-4.7h0m5.1 1.8h0m1.7 2.4h0m-8.3 1.3h0m-3.6 3.4h0m8.8-10.6h0m-3.3 2h0m-1.2 16h0m-5.5-3.6h0m8.7-11.3h0m.1-.8h0m-6.3 13.4h0m-.5-7.9h0m.4 .5h0m8-5.1h0m-6.5 13.1h0m3.3-2.8h0m-3.1-8.2h0m.4-5.4h0m-1.9 5.7h0m10.6 2.7h0m-7-1h0m-4.9 5.7h0m3.5 .1h0m5.6-.6h0m-10 4.9h0m8.2-6.1h0m1.9-9h0m-7.4-1h0m4-1h0m-3.9 6.9h0m8.9 .6h0m-3.7 10.3h0m4.9-13.8h0m-1.2 .8h0m-5.2-4h0m.8 15.2h0m-3.2-6.9h0m11.3 2.2h0m-8.2-9.4h0m-1.3-4.9h0m7.9 16.7h0m-9.1-3.6h0m.8-2.6h0m-1.4 6.8h0m4.9-5.6h0m-.8 9.6h0m.2-6h0m-5.1-4h0m5-1.3h0m1.3 4.9h0m.8-4.3h0m-1.5-3.4h0m1.6 13.7h0m-2-4.5h0m-6.3 .3h0m2.6-8.8h0m2.9 5.5h0m-2.8-1.4h0m-.5-9.1h0m-1.1 14.9h0m6.7-4.1h0m-7.3 2.2h0m8.3-11.7h0m-5.5 14.2h0m-2.7-2.3h0m2.3-12.4h0m2.8 5.3h0m.5 4.9h0m-5.3 3.2h0m1.3 2.2h0m-1.1-18.2h0m4.8 2h0m-6.4 8.4h0m3.9-6h0m1.3 5.9h0m.3-2.4h0m5.7 3.2h0m-5.4 10.3h0m4.2-12.5h0m-5.1-.8h0m1.5-1.4h0m-5 4.9h0m9.9-1.7h0m-7.8-3h0m2 9.5h0m1.2-.4h0m.3-16.5h0m-1-4.4h0m-.1 20.3h0m-2.1-5.6h0m-1.9-4.5h0m-2.9 3.9h0m10 .6h0m-9.3 5.3h0m7.7-9.4h0m-4.9 1.6h0m.9 5.1h0m1.5 .7h0m.5-5.3h0m6.9 6.5h0m-8-2.6h0m-1.9 13.7h0m9.5-16.3h0m-4.2 4.5h0m-6.2-11h0m1.8 4.4h0m-3.2-.8h0m-1.1 7h0m7.1-3h0m-8.6 1.4h0m5.9-.2h0m1.6 .6h0m-2.8 8.3h0m9.7-9h0m-3.2-.1h0m1.4-10.2h0m-3.7-5.3h0m-1.9 7h0m1.1 10.8h0m-.2-6.3h0m-6.4 3.2h0m4 7.8h0m7.7-11h0m-1 3.4h0m-11.8 7.7h0m11-4.6h0m-3.3-19h0m4 8.5h0m-6 .7h0m-2.7 2.5h0m-.2-1.6h0m9.5 9.3h0m-8.5 1.4h0m6.4-6.9h0m-2.9 9.9h0m-2.8-2.2h0m2.5-.9h0m-6.1-4h0m6.5-10.7h0m-6.9 12.4h0m4.2-12.4h0m-2.4 17.2h0m-1.8-3.6h0m12.2-10h0m-5.4 1.9h0m4.7-3.9h0m-2.3 5.8h0m.1 7.5h0m-6.4-9.7h0m3.6 19.7h0m-.5-7h0m-6-10.6h0m6.1-3h0m3.8 4.5h0m-.2 2.4h0m-5.3-3.5h0m-.3-2.2h0m-7.6-6.9h0m-2 17.6h0m.3 3.4h0m2.9-2.5h0m-7.2 .3h0m.6-5.5h0m.9 1.9h0m1 2.6h0m1.9-8.7h0m-3.3 8.1h0m9.2 .3h0m-6.4 4.3h0m3.7-15.7h0m-4-2.8h0m3.4 5.2h0m.9-4.8h0m-3.1 7.2h0m2.9-2.6h0m-4.1 7.2h0m-1.9 1.2h0m6.1-1.6h0m.4-3.6h0m-8.7-10h0m6 19.1h0m-.5-18.3h0m-2.3 6.8h0m-1.3-2.8h0m9.2 11.5h0m-3-5.1h0m-3.9-3.1h0m7.9 4h0m-3.8-11.7h0m-4.6-2.4h0m1.7-1.3h0m-2.3 19.9h0m2.4-12.9h0m1 14.3h0m-2.8-3.3h0m5.4 .7h0m-3.7 5.8h0m-3.1-12.4h0m2.4 4.9h0m.5-.1h0m-6.8-11.6h0m2.1 7.6h0m6.3-.8h0m-6.6 9.5h0m4.4 2.2h0m3.5-.9h0m-3.7-17.7h0m2.9 3.9h0m-6.6 2.9h0m7.5 6.3h0m-5 7.1h0m-3.4-10.6h0m5.4 1.9h0m8-1.1h0m-7.8-5.8h0m.3 3.8h0m2.7-9h0m-6.8 25h0m.8-11.8h0m-1.4 2.9h0m6.7 .2h0m-6.2-.3h0m5.6-7.5h0m-4.6 1h0m4.6 10h0m-7.1-10.1h0m2.4-3.9h0m-3.7 1.1h0m9.3 .4h0m2.4 1.9h0m-5 .5h0m-5-2.3h0m13.4 5.6h0m-8.8 1.3h0m5.4-1.1h0m-3.4 6.1h0m-5.8-24.3h0m.8 19.2h0m4-19.4h0m-3.8 22h0m2.3-3.1h0m-.2-3.6h0m-4.6-6.8h0m2.2 9h0m2.9 6.3h0m-6 .3h0m1.8-8.4h0m-1.6-3.8h0m-.1-10.1h0m.9 13.7h0m2 9.8h0m.7-.7h0m-.5-4.3h0m3.9-9h0m-.1 8.9h0m3.3-6.3h0m-2.5 4.7h0m-5.1-2.5h0m-2 14.4h0m11.6-13h0m-4.4-7.6h0m-6.4 2.9h0m6.4 11.1h0m-7.3-19.2h0m8.6 3.2h0m-2.9 1.9h0m2.7 13.8h0m-6.7-6.2h0m4.7 1.6h0m3.9-12h0m-6.9 18.5h0m5.7-19.7h0m-4.6-4.9h0m23.7-6.2h0m-3.3 3.3h0m-9.5-13.3h0m1.2 12.1h0m6.7 3.2h0m-6.1-9.1h0m1.2 1.4h0m7.1 4.3h0m-10.3 13.2h0m11.4-12.3h0m-5.5 2.9h0m2.4-3.8h0m-3.6-10.3h0m.4 12.3h0m-11.2 5.4h0m20.9-19h0m-9.2 14.7h0m-4.2-6.1h0m-5.1 .6h0m7.8 6.4h0m-1.3-7.4h0m4.2-2.5h0m-4.1 9.5h0m6.2-10.8h0m3.9 10.9h0m-4.9 6.5h0m2.4-6.3h0m-8.3-1.7h0m-.3-6.2h0m9 4h0m-12-8.3h0m11.3 11.7h0m.4-7h0m-7.2 4.1h0m8.7 3.9h0m-3.8-10.9h0m1.1-3.9h0m-.2 8.3h0m-1.4 9.3h0m2-11.9h0m4.6 4.1h0m-11-3.7h0m5.5-6.7h0m-2.4 22.8h0m4.2-4.8h0m2.2-3.4h0m-8.8 4.4h0m-5.8-7.8h0m15.4-1.1h0m-6.9 8.9h0m-.2-2.8h0m5.6-12.9h0m-13.1 12.4h0m-5.2 3.6h0m0-2.1h0m7.3-4.1h0m5.3-2.8h0m4.5-1.8h0m1.8-5.4h0m-9 3.5h0m-1.5-.4h0m3.9 10.9h0m8.4-10.1h0m-11 6h0m11.3-2.5h0m1.7-3.3h0m-7.4-3.1h0m-15 20.4h0m2.8 14.4h0m-3.5-8.5h0m1.6-5h0m5.8 6.9h0m-4.1-8.9h0m-2.8-5.1h0m-3.9 5.6h0m7.5-9.4h0m12.9 3.6h0m-12.7 .2h0m-11.5-.3h0m9.3 20.2h0m18.2-23.8h0m-13.1 8.4h0m6.6-15h0m-10.9 24.1h0m-12.3 3.4h0m4.6-17.7h0m23.7-5h0m-15.9 18.7h0m-7.9-7.4h0m36.5 4.1h0m-19.8 3.4h0m-6.9-6.1h0m-.1-2.7h0m11.4-12.5h0m-16.4 23.1h0m4.4-3.3h0m-6.8-5.2h0m.7 14.9h0m8.2-29h0m-2 21h0m15.4-16.9h0m-23.9 25.3h0m1.4-14.9h0m1.1-2.8h0m8.3 15h0m-6.2-11.3h0m3.5-15.3h0m-6.8 11.4h0m13.1 5.9h0m-.9 9.6h0m-4.4-18.8h0m8.9 7.5h0m-17.1-12h0m7.4 3h0m-7.9 11.9h0m4.6-15.2h0m-9.3 7.3h0m2.9 16h0m2.7-2.8h0m1-21.7h0m1.3 29.6h0m-.4-13.4h0m4.5-6.2h0m-.2 10.8h0m5.8-14.4h0m2.5 2.1h0m-14.3 6.3h0m8.9 8.5h0m-4.8-3.2h0m5.6 6.5h0m6.4-6h0m-20.5-22.9h0m4.5 11.3h0m5-4.8h0m6.7 9h0m-4.1 17.9h0m14.5-26.1h0m-25.9 14.2h0m-2.7 8.9h0m3.4-11.1h0m6.1-14.2h0m4.5 13.1h0m-4.4-6.6h0m-.5-.9h0m-3.2 15.6h0m2.9-.5h0m-.3-12.6h0m11.8-8.1h0m1.8 7.8h0m-10.9 7.8h0m-6.4 3h0m6.1-6.2h0m.8-1.5h0m-9.2 7.5h0m12-11.2h0m.6-4.4h0m-2.7 3.1h0m-6.7-2.3h0m12.9 11.2h0m10.3-16.3h0m-20 9.5h0m9.4 5h0m-14.8 6.2h0m-.8-20.2h0m6 11.7h0m27.8-22.3h0m-15.6-1.9h0m-.5-4.3h0m18.9-.4h0m-10.2 7.7h0m-1.7 3.1h0m6.9-3.4h0m-3 6.6h0m-13.9-8.7h0m4.4 3.6h0m1.1 7.4h0m-9.2 3.5h0m9.5-3.7h0m3.9-12.1h0m-7.8 1.6h0m9.8 3h0m-17.2 10.9h0m22-10.3h0m-.3-.3h0m-17.5-4.9h0m2.5 7.8h0m20.8 1.9h0m-21.3-.8h0m5.9-6.4h0m7.6 1.5h0m-.1-2.5h0m-16.1 13.8h0m25.1-6.8h0m-14.6-5.5h0m17.3-6.6h0m2.1 6.7h0m-32-.6h0" fill="none" stroke="#111" stroke-opacity="0.82" stroke-width="1" stroke-linecap="square"/>
</g>
<line x1="257.4" y1="220.2" x2="257.4" y2="272.2" stroke="#333" stroke-width="1"/>
<line x1="242.3" y1="244.1" x2="296.2" y2="244.1" stroke="#333" stroke-width="1"/>
<rect x="242.3" y="220.2" width="53.89999999999998" height="52.0" fill="none" stroke="#333" stroke-width="1"/>
<text x="291.4" y="227.5" font-size="8.5" font-family='"Liberation Serif", serif' font-weight="normal" text-anchor="end" fill="#222">6.5</text>
<text x="267.8" y="163.2" font-size="8.3" font-family='"Liberation Serif", serif' font-weight="bold" text-anchor="middle" fill="#111">SB cells</text>
<rect x="20.3" y="216.9" width="276.4" height="3.4" fill="#a2a2a2"/>
<text x="13.5" y="189.6" font-size="9" font-family='"Liberation Serif", serif' font-weight="bold" text-anchor="middle" fill="#111" transform="rotate(-90 13.5 189.6)">IFN-γ</text>
<text x="13.2" y="245.2" font-size="8.6" font-family='"Liberation Serif", serif' font-weight="bold" text-anchor="middle" fill="#111" transform="rotate(-90 13.2 245.2)">IL-4</text>
<line x1="21.8" y1="281.5" x2="146.3" y2="281.5" stroke="#222" stroke-width="1"/>
<line x1="171.4" y1="281.5" x2="291" y2="281.5" stroke="#222" stroke-width="1"/>
<path d="M289 278.3 L296.5 281.5 L289 284.7 Z" fill="#111"/>
<text x="159.9" y="286.6" font-size="9.1" font-family='"Liberation Serif", serif' font-weight="bold" text-anchor="middle" fill="#111">CD3</text>
<line x1="354.6" y1="168.4" x2="354.6" y2="256.3" stroke="#888" stroke-width="0.9"/>
<line x1="354.6" y1="256.3" x2="431.4" y2="256.3" stroke="#888" stroke-width="0.9"/>
<line x1="352.1" y1="256.30" x2="354.6" y2="256.30" stroke="#888" stroke-width="0.9"/>
<text x="348.5" y="259.3" font-size="8.7" font-family='"Liberation Sans", sans-serif' font-weight="normal" text-anchor="end" fill="#222">0</text>
<line x1="352.1" y1="234.33" x2="354.6" y2="234.33" stroke="#888" stroke-width="0.9"/>
<text x="348.5" y="237.33" font-size="8.7" font-family='"Liberation Sans", sans-serif' font-weight="normal" text-anchor="end" fill="#222">10</text>
<line x1="352.1" y1="212.35" x2="354.6" y2="212.35" stroke="#888" stroke-width="0.9"/>
<text x="348.5" y="215.35" font-size="8.7" font-family='"Liberation Sans", sans-serif' font-weight="normal" text-anchor="end" fill="#222">20</text>
<line x1="352.1" y1="190.38" x2="354.6" y2="190.38" stroke="#888" stroke-width="0.9"/>
<text x="348.5" y="193.38" font-size="8.7" font-family='"Liberation Sans", sans-serif' font-weight="normal" text-anchor="end" fill="#222">30</text>
<line x1="352.1" y1="168.40" x2="354.6" y2="168.40" stroke="#888" stroke-width="0.9"/>
<text x="348.5" y="171.4" font-size="8.7" font-family='"Liberation Sans", sans-serif' font-weight="normal" text-anchor="end" fill="#222">40</text>
<line x1="382.0" y1="256.3" x2="382.0" y2="259.3" stroke="#888" stroke-width="0.9"/>
<line x1="409.0" y1="256.3" x2="409.0" y2="259.3" stroke="#888" stroke-width="0.9"/>
<text x="368.2" y="272.4" font-size="8" font-family='"Liberation Sans", sans-serif' font-weight="normal" text-anchor="middle" fill="#222">10:1</text>
<text x="395.4" y="272.4" font-size="8" font-family='"Liberation Sans", sans-serif' font-weight="normal" text-anchor="middle" fill="#222">20:1</text>
<text x="422.7" y="272.4" font-size="8" font-family='"Liberation Sans", sans-serif' font-weight="normal" text-anchor="middle" fill="#222">40:1</text>
<text x="396.8" y="286.9" font-size="10.4" font-family='"Liberation Sans", sans-serif' font-weight="bold" text-anchor="middle" fill="#111">E/T ratio</text>
<text x="333.2" y="211.5" font-size="10.4" font-family='"Liberation Sans", sans-serif' font-weight="bold" text-anchor="middle" fill="#111" transform="rotate(-90 333.2 211.5)">% lysis</text>
<polyline points="368.20,238.72 395.40,226.63 422.70,220.04" fill="none" stroke="#bbb" stroke-width="1.1"/>
<polyline points="368.20,253.88 395.40,253.44 422.70,255.42" fill="none" stroke="#111" stroke-width="1.1"/>
<polyline points="368.20,253.88 395.40,250.48 422.70,255.42" fill="none" stroke="#111" stroke-width="1.1"/>
<polyline points="368.20,221.14 395.40,202.46 422.70,198.07" fill="none" stroke="#111" stroke-width="1.1"/>
<polyline points="368.20,215.65 395.40,183.78 422.70,180.49" fill="none" stroke="#111" stroke-width="1.1"/>
<polyline points="368.20,203.56 395.40,188.18 422.70,177.19" fill="none" stroke="#111" stroke-width="1.1"/>
<path d="M368.20 235.47L371.61 241.48L364.79 241.48Z" fill="#fff" stroke="#aaa" stroke-width="0.9" stroke-linejoin="miter"/>
<path d="M395.40 223.38L398.81 229.40L391.99 229.40Z" fill="#fff" stroke="#aaa" stroke-width="0.9" stroke-linejoin="miter"/>
<path d="M422.70 216.79L426.11 222.80L419.29 222.80Z" fill="#fff" stroke="#aaa" stroke-width="0.9" stroke-linejoin="miter"/>
<circle cx="368.20" cy="253.88" r="2.9" fill="#000" stroke="#000" stroke-width="0.9"/>
<circle cx="395.40" cy="253.44" r="2.9" fill="#000" stroke="#000" stroke-width="0.9"/>
<circle cx="422.70" cy="255.42" r="2.9" fill="#000" stroke="#000" stroke-width="0.9"/>
<circle cx="368.20" cy="253.88" r="2.9" fill="#000" stroke="#000" stroke-width="0.9"/>
<circle cx="395.40" cy="250.48" r="2.9" fill="#000" stroke="#000" stroke-width="0.9"/>
<circle cx="422.70" cy="255.42" r="2.9" fill="#000" stroke="#000" stroke-width="0.9"/>
<path d="M368.20 217.89L371.61 223.90L364.79 223.90Z" fill="#000" stroke="#000" stroke-width="0.9" stroke-linejoin="miter"/>
<path d="M395.40 199.21L398.81 205.22L391.99 205.22Z" fill="#000" stroke="#000" stroke-width="0.9" stroke-linejoin="miter"/>
<path d="M422.70 194.82L426.11 200.83L419.29 200.83Z" fill="#000" stroke="#000" stroke-width="0.9" stroke-linejoin="miter"/>
<rect x="365.50" y="212.95" width="5.4" height="5.4" fill="#222" stroke="#111" stroke-width="0.9"/>
<rect x="392.70" y="181.08" width="5.4" height="5.4" fill="#222" stroke="#111" stroke-width="0.9"/>
<rect x="420.00" y="177.79" width="5.4" height="5.4" fill="#222" stroke="#111" stroke-width="0.9"/>
<path d="M368.20 200.16L371.60 203.56L368.20 206.96L364.80 203.56Z" fill="#fff" stroke="#111" stroke-width="0.9"/>
<path d="M395.40 184.78L398.80 188.18L395.40 191.58L392.00 188.18Z" fill="#fff" stroke="#111" stroke-width="0.9"/>
<path d="M422.70 173.79L426.10 177.19L422.70 180.59L419.30 177.19Z" fill="#fff" stroke="#111" stroke-width="0.9"/>
<line x1="435" y1="165.3" x2="451.5" y2="165.3" stroke="#111" stroke-width="1"/>
<path d="M443.20 163.50L445.00 165.30L443.20 167.10L441.40 165.30Z" fill="#000" stroke="#000" stroke-width="0.8"/>
<text x="453.6" y="167.7" font-size="6.6" font-family='"Liberation Sans", sans-serif' font-weight="normal" text-anchor="start" fill="#222">PBS</text>
<line x1="435" y1="182.5" x2="451.5" y2="182.5" stroke="#111" stroke-width="1"/>
<rect x="441.60" y="180.90" width="3.2" height="3.2" fill="#111" stroke="#111" stroke-width="0.8"/>
<text x="453.6" y="184.9" font-size="6.6" font-family='"Liberation Sans", sans-serif' font-weight="normal" text-anchor="start" fill="#222">DCs</text>
<line x1="435" y1="199.8" x2="451.5" y2="199.8" stroke="#111" stroke-width="1"/>
<path d="M443.20 198.00L445.00 199.80L443.20 201.60L441.40 199.80Z" fill="#fff" stroke="#111" stroke-width="0.8"/>
<text x="453.6" y="202.2" font-size="6.6" font-family='"Liberation Sans", sans-serif' font-weight="normal" text-anchor="start" fill="#222">SB cells</text>
<line x1="435" y1="217.0" x2="451.5" y2="217.0" stroke="#bbb" stroke-width="1"/>
<path d="M443.20 215.10L445.19 218.62L441.20 218.62Z" fill="#fff" stroke="#aaa" stroke-width="0.8" stroke-linejoin="miter"/>
<text x="453.6" y="219.4" font-size="6.6" font-family='"Liberation Sans", sans-serif' font-weight="normal" text-anchor="start" fill="#222">TCCM cells</text>
<line x1="435" y1="233.5" x2="451.5" y2="233.5" stroke="#111" stroke-width="1"/>
<path d="M443.20 231.60L445.19 235.12L441.20 235.12Z" fill="#000" stroke="#000" stroke-width="0.8" stroke-linejoin="miter"/>
<text x="453.6" y="235.9" font-size="6.6" font-family='"Liberation Sans", sans-serif' font-weight="normal" text-anchor="start" fill="#222">TCCM</text>
<line x1="435" y1="251.5" x2="451.5" y2="251.5" stroke="#111" stroke-width="1"/>
<circle cx="443.20" cy="251.50" r="1.6" fill="#000" stroke="#000" stroke-width="0.8"/>
<text x="453.6" y="253.9" font-size="6.6" font-family='"Liberation Sans", sans-serif' font-weight="normal" text-anchor="start" fill="#222">Control</text>
<text x="453.6" y="246.0" font-size="6.6" font-family='"Liberation Sans", sans-serif' font-weight="normal" text-anchor="start" fill="#222">cells+SB</text>
<rect x="30.6" y="307.7" width="205.4" height="105.90000000000003" fill="none" stroke="#6a6a6a" stroke-width="1"/>
<line x1="27.8" y1="413.60" x2="30.6" y2="413.60" stroke="#6a6a6a" stroke-width="0.9"/>
<text x="23.4" y="416.8" font-size="9.1" font-family='"Liberation Sans", sans-serif' font-weight="normal" text-anchor="end" fill="#222">0</text>
<line x1="27.8" y1="395.98" x2="30.6" y2="395.98" stroke="#6a6a6a" stroke-width="0.9"/>
<text x="23.4" y="399.18" font-size="9.1" font-family='"Liberation Sans", sans-serif' font-weight="normal" text-anchor="end" fill="#222">20</text>
<line x1="27.8" y1="378.36" x2="30.6" y2="378.36" stroke="#6a6a6a" stroke-width="0.9"/>
<text x="23.4" y="381.56" font-size="9.1" font-family='"Liberation Sans", sans-serif' font-weight="normal" text-anchor="end" fill="#222">40</text>
<line x1="27.8" y1="360.74" x2="30.6" y2="360.74" stroke="#6a6a6a" stroke-width="0.9"/>
<text x="23.4" y="363.94" font-size="9.1" font-family='"Liberation Sans", sans-serif' font-weight="normal" text-anchor="end" fill="#222">60</text>
<line x1="27.8" y1="343.12" x2="30.6" y2="343.12" stroke="#6a6a6a" stroke-width="0.9"/>
<text x="23.4" y="346.32" font-size="9.1" font-family='"Liberation Sans", sans-serif' font-weight="normal" text-anchor="end" fill="#222">80</text>
<line x1="27.8" y1="325.50" x2="30.6" y2="325.50" stroke="#6a6a6a" stroke-width="0.9"/>
<text x="23.4" y="328.7" font-size="9.1" font-family='"Liberation Sans", sans-serif' font-weight="normal" text-anchor="end" fill="#222">100</text>
<line x1="27.8" y1="307.88" x2="30.6" y2="307.88" stroke="#6a6a6a" stroke-width="0.9"/>
<text x="23.4" y="311.08" font-size="9.1" font-family='"Liberation Sans", sans-serif' font-weight="normal" text-anchor="end" fill="#222">120</text>
<line x1="30.60" y1="413.6" x2="30.60" y2="416.40000000000003" stroke="#6a6a6a" stroke-width="0.9"/>
<text x="30.6" y="430.8" font-size="9.1" font-family='"Liberation Sans", sans-serif' font-weight="normal" text-anchor="middle" fill="#222">0</text>
<line x1="82.08" y1="413.6" x2="82.08" y2="416.40000000000003" stroke="#6a6a6a" stroke-width="0.9"/>
<text x="82.08" y="430.8" font-size="9.1" font-family='"Liberation Sans", sans-serif' font-weight="normal" text-anchor="middle" fill="#222">20</text>
<line x1="133.55" y1="413.6" x2="133.55" y2="416.40000000000003" stroke="#6a6a6a" stroke-width="0.9"/>
<text x="133.55" y="430.8" font-size="9.1" font-family='"Liberation Sans", sans-serif' font-weight="normal" text-anchor="middle" fill="#222">40</text>
<line x1="185.03" y1="413.6" x2="185.03" y2="416.40000000000003" stroke="#6a6a6a" stroke-width="0.9"/>
<text x="185.03" y="430.8" font-size="9.1" font-family='"Liberation Sans", sans-serif' font-weight="normal" text-anchor="middle" fill="#222">60</text>
<line x1="236.50" y1="413.6" x2="236.50" y2="416.40000000000003" stroke="#6a6a6a" stroke-width="0.9"/>
<text x="236.5" y="430.8" font-size="9.1" font-family='"Liberation Sans", sans-serif' font-weight="normal" text-anchor="middle" fill="#222">80</text>
<path d="M30.60 325.50L105.24 325.50L105.24 343.12L120.68 343.12L120.68 378.36L133.55 378.36L133.55 395.98L164.44 395.98L164.44 413.60" fill="none" stroke="#000" stroke-width="1.0"/>
<path d="M30.60 325.50L138.70 325.50L138.70 343.12L154.14 343.12L154.14 360.74L164.44 360.74L164.44 378.36L197.89 378.36L197.89 395.98L218.48 395.98" fill="none" stroke="#aaa" stroke-width="1.0"/>
<path d="M30.60 325.50L174.73 325.50L174.73 343.12L197.89 343.12L197.89 360.74L218.48 360.74" fill="none" stroke="#666" stroke-width="1.0"/>
<path d="M30.60 325.50L203.04 325.50L203.04 343.12L210.76 343.12L210.76 360.74L218.48 360.74" fill="none" stroke="#222" stroke-width="1.0"/>
<circle cx="30.60" cy="325.50" r="2.7" fill="#000" stroke="#000" stroke-width="0.9"/>
<circle cx="105.24" cy="325.50" r="2.7" fill="#000" stroke="#000" stroke-width="0.9"/>
<circle cx="105.24" cy="343.12" r="2.7" fill="#000" stroke="#000" stroke-width="0.9"/>
<circle cx="120.68" cy="343.12" r="2.7" fill="#000" stroke="#000" stroke-width="0.9"/>
<circle cx="120.68" cy="378.36" r="2.7" fill="#000" stroke="#000" stroke-width="0.9"/>
<circle cx="133.55" cy="378.36" r="2.7" fill="#000" stroke="#000" stroke-width="0.9"/>
<circle cx="133.55" cy="395.98" r="2.7" fill="#000" stroke="#000" stroke-width="0.9"/>
<circle cx="138.70" cy="395.98" r="2.7" fill="#000" stroke="#000" stroke-width="0.9"/>
<circle cx="154.14" cy="395.98" r="2.7" fill="#000" stroke="#000" stroke-width="0.9"/>
<circle cx="164.44" cy="395.98" r="2.7" fill="#000" stroke="#000" stroke-width="0.9"/>
<circle cx="164.44" cy="413.60" r="2.7" fill="#000" stroke="#000" stroke-width="0.9"/>
<path d="M138.70 340.02L141.95 345.75L135.44 345.75Z" fill="#fff" stroke="#aaa" stroke-width="0.9" stroke-linejoin="miter"/>
<path d="M154.14 340.02L157.40 345.75L150.89 345.75Z" fill="#fff" stroke="#aaa" stroke-width="0.9" stroke-linejoin="miter"/>
<path d="M154.14 357.64L157.40 363.38L150.89 363.38Z" fill="#fff" stroke="#aaa" stroke-width="0.9" stroke-linejoin="miter"/>
<path d="M164.44 357.64L167.69 363.38L161.18 363.38Z" fill="#fff" stroke="#aaa" stroke-width="0.9" stroke-linejoin="miter"/>
<path d="M164.44 375.26L167.69 381.00L161.18 381.00Z" fill="#fff" stroke="#aaa" stroke-width="0.9" stroke-linejoin="miter"/>
<path d="M174.73 375.26L177.98 381.00L171.47 381.00Z" fill="#fff" stroke="#aaa" stroke-width="0.9" stroke-linejoin="miter"/>
<path d="M197.89 375.26L201.15 381.00L194.64 381.00Z" fill="#fff" stroke="#aaa" stroke-width="0.9" stroke-linejoin="miter"/>
<path d="M197.89 392.88L201.15 398.62L194.64 398.62Z" fill="#fff" stroke="#aaa" stroke-width="0.9" stroke-linejoin="miter"/>
<path d="M203.04 392.88L206.30 398.62L199.79 398.62Z" fill="#fff" stroke="#aaa" stroke-width="0.9" stroke-linejoin="miter"/>
<path d="M210.76 392.88L214.02 398.62L207.51 398.62Z" fill="#fff" stroke="#aaa" stroke-width="0.9" stroke-linejoin="miter"/>
<path d="M218.48 392.88L221.74 398.62L215.23 398.62Z" fill="#fff" stroke="#aaa" stroke-width="0.9" stroke-linejoin="miter"/>
<rect x="28.10" y="323.00" width="5.0" height="5.0" fill="#fff" stroke="#555" stroke-width="0.9"/>
<rect x="64.13" y="323.00" width="5.0" height="5.0" fill="#fff" stroke="#555" stroke-width="0.9"/>
<rect x="100.16" y="323.00" width="5.0" height="5.0" fill="#fff" stroke="#555" stroke-width="0.9"/>
<rect x="172.23" y="323.00" width="5.0" height="5.0" fill="#fff" stroke="#555" stroke-width="0.9"/>
<rect x="172.23" y="340.62" width="5.0" height="5.0" fill="#fff" stroke="#555" stroke-width="0.9"/>
<rect x="195.39" y="340.62" width="5.0" height="5.0" fill="#fff" stroke="#555" stroke-width="0.9"/>
<rect x="195.39" y="358.24" width="5.0" height="5.0" fill="#fff" stroke="#555" stroke-width="0.9"/>
<rect x="200.54" y="358.24" width="5.0" height="5.0" fill="#fff" stroke="#555" stroke-width="0.9"/>
<rect x="208.26" y="358.24" width="5.0" height="5.0" fill="#fff" stroke="#555" stroke-width="0.9"/>
<rect x="215.98" y="358.24" width="5.0" height="5.0" fill="#fff" stroke="#555" stroke-width="0.9"/>
<path d="M30.60 322.40L33.86 328.13L27.35 328.13Z" fill="#000" stroke="#000" stroke-width="0.9" stroke-linejoin="miter"/>
<path d="M66.63 322.40L69.89 328.13L63.38 328.13Z" fill="#000" stroke="#000" stroke-width="0.9" stroke-linejoin="miter"/>
<path d="M102.66 322.40L105.92 328.13L99.41 328.13Z" fill="#000" stroke="#000" stroke-width="0.9" stroke-linejoin="miter"/>
<path d="M105.24 322.40L108.49 328.13L101.98 328.13Z" fill="#000" stroke="#000" stroke-width="0.9" stroke-linejoin="miter"/>
<path d="M120.68 322.40L123.94 328.13L117.43 328.13Z" fill="#000" stroke="#000" stroke-width="0.9" stroke-linejoin="miter"/>
<path d="M133.55 322.40L136.81 328.13L130.30 328.13Z" fill="#000" stroke="#000" stroke-width="0.9" stroke-linejoin="miter"/>
<path d="M138.70 322.40L141.95 328.13L135.44 328.13Z" fill="#000" stroke="#000" stroke-width="0.9" stroke-linejoin="miter"/>
<path d="M154.14 322.40L157.40 328.13L150.89 328.13Z" fill="#000" stroke="#000" stroke-width="0.9" stroke-linejoin="miter"/>
<path d="M164.44 322.40L167.69 328.13L161.18 328.13Z" fill="#000" stroke="#000" stroke-width="0.9" stroke-linejoin="miter"/>
<path d="M174.73 322.40L177.98 328.13L171.47 328.13Z" fill="#000" stroke="#000" stroke-width="0.9" stroke-linejoin="miter"/>
<path d="M197.89 322.40L201.15 328.13L194.64 328.13Z" fill="#000" stroke="#000" stroke-width="0.9" stroke-linejoin="miter"/>
<path d="M203.04 322.40L206.30 328.13L199.79 328.13Z" fill="#000" stroke="#000" stroke-width="0.9" stroke-linejoin="miter"/>
<path d="M203.04 340.02L206.30 345.75L199.79 345.75Z" fill="#000" stroke="#000" stroke-width="0.9" stroke-linejoin="miter"/>
<path d="M210.76 340.02L214.02 345.75L207.51 345.75Z" fill="#000" stroke="#000" stroke-width="0.9" stroke-linejoin="miter"/>
<path d="M210.76 357.64L214.02 363.38L207.51 363.38Z" fill="#000" stroke="#000" stroke-width="0.9" stroke-linejoin="miter"/>
<path d="M218.48 357.64L221.74 363.38L215.23 363.38Z" fill="#000" stroke="#000" stroke-width="0.9" stroke-linejoin="miter"/>
<line x1="36.5" y1="358.1" x2="53" y2="358.1" stroke="#111" stroke-width="1"/>
<circle cx="44.30" cy="358.10" r="1.5" fill="#000" stroke="#000" stroke-width="0.8"/>
<text x="55.4" y="360.5" font-size="6.5" font-family='"Liberation Sans", sans-serif' font-weight="normal" text-anchor="start" fill="#222">PBS</text>
<line x1="36.5" y1="369.6" x2="53" y2="369.6" stroke="#333" stroke-width="1"/>
<rect x="42.80" y="368.10" width="3.0" height="3.0" fill="#fff" stroke="#333" stroke-width="0.8"/>
<text x="55.4" y="372.0" font-size="6.5" font-family='"Liberation Sans", sans-serif' font-weight="normal" text-anchor="start" fill="#222">DC</text>
<line x1="36.5" y1="381.9" x2="53" y2="381.9" stroke="#aaa" stroke-width="1"/>
<path d="M44.30 380.10L46.19 383.43L42.41 383.43Z" fill="#fff" stroke="#aaa" stroke-width="0.8" stroke-linejoin="miter"/>
<text x="55.4" y="384.3" font-size="6.5" font-family='"Liberation Sans", sans-serif' font-weight="normal" text-anchor="start" fill="#222">TCCM cell</text>
<line x1="36.5" y1="393.9" x2="53" y2="393.9" stroke="#111" stroke-width="1"/>
<path d="M44.30 392.10L46.19 395.43L42.41 395.43Z" fill="#000" stroke="#000" stroke-width="0.8" stroke-linejoin="miter"/>
<text x="55.4" y="396.3" font-size="6.5" font-family='"Liberation Sans", sans-serif' font-weight="normal" text-anchor="start" fill="#222">TCCM+SB cell</text>
</svg>
</body></html>
